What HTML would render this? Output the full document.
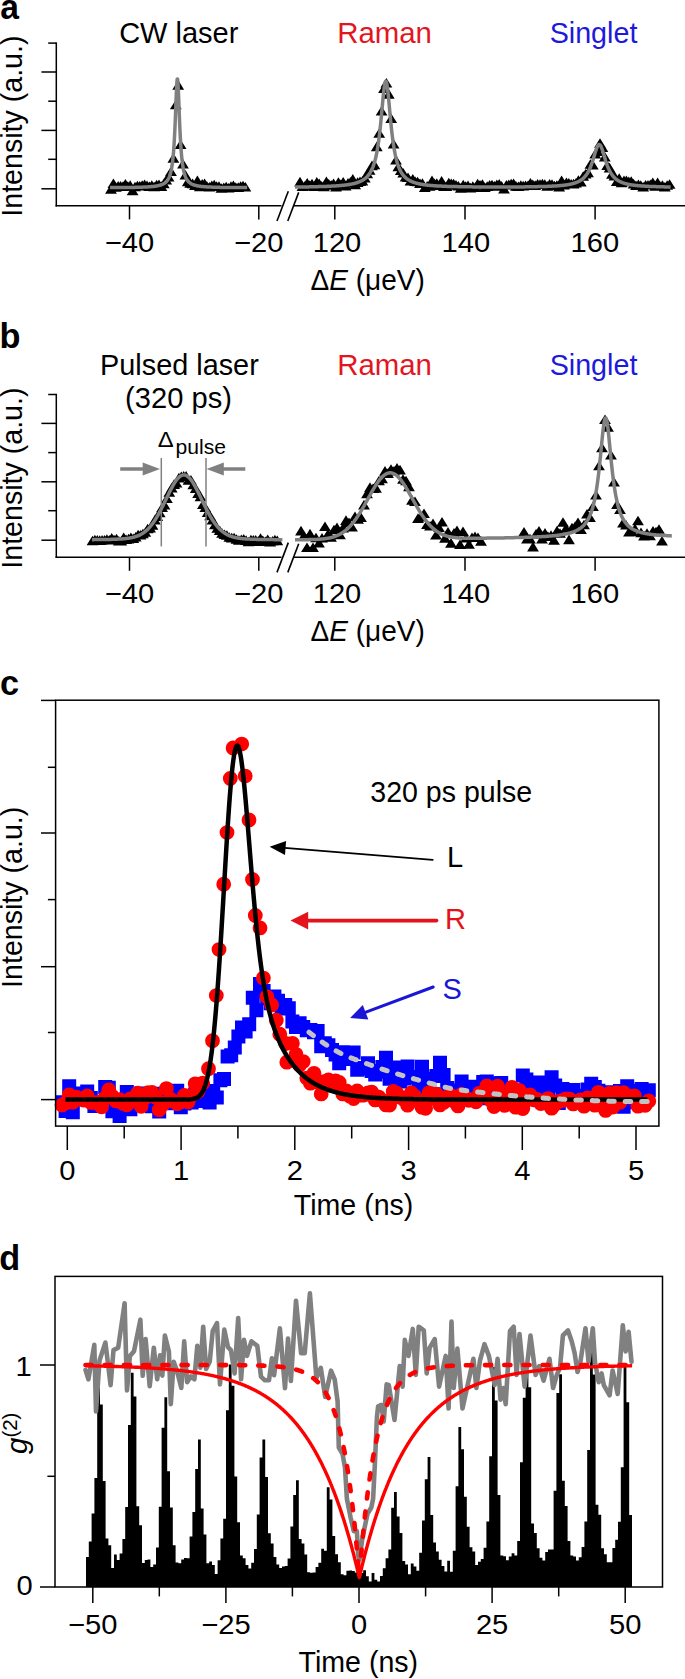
<!DOCTYPE html>
<html><head><meta charset="utf-8"><style>
html,body{margin:0;padding:0;background:#fff;overflow:hidden;}
svg{display:block;font-family:"Liberation Sans", sans-serif;}
</style></head><body>
<svg width="685" height="1679" viewBox="0 0 685 1679">
<rect width="685" height="1679" fill="#fff"/>
<text transform="translate(0.3,19) scale(0.96,1)" font-size="35" text-anchor="start" fill="#000" font-weight="bold" >a</text>
<line x1="56.3" y1="42.4" x2="56.3" y2="206.5" stroke="#000" stroke-width="1.5" />
<line x1="48.2" y1="43.1" x2="56.3" y2="43.1" stroke="#000" stroke-width="1.5" />
<line x1="41.4" y1="72" x2="56.3" y2="72" stroke="#000" stroke-width="1.5" />
<line x1="48.2" y1="101.2" x2="56.3" y2="101.2" stroke="#000" stroke-width="1.5" />
<line x1="41.4" y1="130.4" x2="56.3" y2="130.4" stroke="#000" stroke-width="1.5" />
<line x1="48.2" y1="159.3" x2="56.3" y2="159.3" stroke="#000" stroke-width="1.5" />
<line x1="41.4" y1="188.8" x2="56.3" y2="188.8" stroke="#000" stroke-width="1.5" />
<line x1="55.5" y1="205.8" x2="281.5" y2="205.8" stroke="#000" stroke-width="1.5" />
<line x1="293" y1="205.8" x2="685" y2="205.8" stroke="#000" stroke-width="1.5" />
<line x1="129.5" y1="205.8" x2="129.5" y2="219.4" stroke="#000" stroke-width="1.5" />
<line x1="258.8" y1="205.8" x2="258.8" y2="219.4" stroke="#000" stroke-width="1.5" />
<line x1="334.8" y1="205.8" x2="334.8" y2="219.4" stroke="#000" stroke-width="1.5" />
<line x1="465" y1="205.8" x2="465" y2="219.4" stroke="#000" stroke-width="1.5" />
<line x1="595.1" y1="205.8" x2="595.1" y2="219.4" stroke="#000" stroke-width="1.5" />
<line x1="277" y1="221" x2="288.3" y2="191.2" stroke="#000" stroke-width="1.6" />
<line x1="287.8" y1="221" x2="298.7" y2="192.4" stroke="#000" stroke-width="1.6" />
<text transform="translate(129.5,251.8) scale(1.06,1)" font-size="27.5" text-anchor="middle" fill="#000" font-weight="normal" >−40</text>
<text transform="translate(258.8,251.8) scale(1.06,1)" font-size="27.5" text-anchor="middle" fill="#000" font-weight="normal" >−20</text>
<text transform="translate(337,251.8) scale(1.06,1)" font-size="27.5" text-anchor="middle" fill="#000" font-weight="normal" >120</text>
<text transform="translate(465.8,251.8) scale(1.06,1)" font-size="27.5" text-anchor="middle" fill="#000" font-weight="normal" >140</text>
<text transform="translate(594.8,251.8) scale(1.06,1)" font-size="27.5" text-anchor="middle" fill="#000" font-weight="normal" >160</text>
<text transform="translate(310.5,290) scale(0.966,1)" font-size="29">Δ<tspan font-style="italic">E</tspan> (μeV)</text>
<text transform="translate(22.2,126.1) rotate(-90)" font-size="28.6" text-anchor="middle">Intensity (a.u.)</text>
<text x="178.8" y="42.7" font-size="29" text-anchor="middle" fill="#000" font-weight="normal" >CW laser</text>
<text transform="translate(384.6,42.9) scale(1.014,1)" font-size="29" text-anchor="middle" fill="#e3161f" font-weight="normal" >Raman</text>
<text transform="translate(593.5,42.7) scale(0.99,1)" font-size="29" text-anchor="middle" fill="#1c1adc" font-weight="normal" >Singlet</text>
<path d="M105.1 193.7L111 184.1L116.9 193.7ZM107.5 188.1L113.4 178.5L119.3 188.1ZM109.9 191.7L115.8 182.1L121.7 191.7ZM112.3 190.5L118.2 180.9L124.1 190.5ZM114.7 190.6L120.6 181L126.5 190.6ZM117.1 190.9L123 181.3L128.9 190.9ZM119.5 188.6L125.4 179L131.3 188.6ZM121.9 190.8L127.8 181.2L133.7 190.8ZM124.3 189.9L130.2 180.3L136.1 189.9ZM126.7 195.3L132.6 185.7L138.5 195.3ZM129.1 191.3L135 181.7L140.9 191.3ZM131.5 190.4L137.4 180.8L143.3 190.4ZM133.9 190.5L139.8 180.9L145.7 190.5ZM136.3 189.9L142.2 180.3L148.1 189.9ZM138.7 189.2L144.6 179.6L150.5 189.2ZM141.1 190L147 180.4L152.9 190ZM143.5 191.1L149.4 181.5L155.3 191.1ZM145.9 189.9L151.8 180.3L157.7 189.9ZM148.3 191.3L154.2 181.7L160.1 191.3ZM150.7 189.3L156.6 179.7L162.5 189.3ZM153.1 189.1L159 179.5L164.9 189.1ZM155.5 190.9L161.4 181.3L167.3 190.9ZM157.9 188.2L163.8 178.6L169.7 188.2ZM160.3 184.5L166.2 174.9L172.1 184.5ZM162.7 181.6L168.6 172L174.5 181.6ZM165.1 176.1L171 166.5L176.9 176.1ZM167.5 162.7L173.4 153.1L179.3 162.7ZM169.9 109.3L175.8 99.7L181.7 109.3ZM172.3 89.7L178.2 80.1L184.1 89.7ZM174.7 149L180.6 139.4L186.5 149ZM177.1 168.6L183 159L188.9 168.6ZM179.5 179.6L185.4 170L191.3 179.6ZM181.9 186.2L187.8 176.6L193.7 186.2ZM184.3 187.7L190.2 178.1L196.1 187.7ZM186.7 188.2L192.6 178.6L198.5 188.2ZM189.1 189.9L195 180.3L200.9 189.9ZM191.5 185.1L197.4 175.5L203.3 185.1ZM193.9 191.3L199.8 181.7L205.7 191.3ZM196.3 188.7L202.2 179.1L208.1 188.7ZM198.7 188L204.6 178.4L210.5 188ZM201.1 190.9L207 181.3L212.9 190.9ZM203.5 191.6L209.4 182L215.3 191.6ZM205.9 190.1L211.8 180.5L217.7 190.1ZM208.3 189.4L214.2 179.8L220.1 189.4ZM210.7 190.9L216.6 181.3L222.5 190.9ZM213.1 190.9L219 181.3L224.9 190.9ZM215.5 192.8L221.4 183.2L227.3 192.8ZM217.9 192L223.8 182.4L229.7 192ZM220.3 191.3L226.2 181.7L232.1 191.3ZM222.7 192.5L228.6 182.9L234.5 192.5ZM225.1 190.9L231 181.3L236.9 190.9ZM227.5 190L233.4 180.4L239.3 190ZM229.9 191.9L235.8 182.3L241.7 191.9ZM232.3 191.9L238.2 182.3L244.1 191.9ZM234.7 190.9L240.6 181.3L246.5 190.9ZM237.1 190.3L243 180.7L248.9 190.3ZM239.5 191.5L245.4 181.9L251.3 191.5Z" fill="#000"/>
<polyline points="110,187.6 110.4,187.6 110.8,187.6 111.2,187.6 111.6,187.6 112,187.6 112.4,187.6 112.8,187.6 113.2,187.6 113.6,187.6 114,187.6 114.4,187.6 114.8,187.6 115.2,187.6 115.6,187.6 116,187.6 116.4,187.6 116.8,187.6 117.2,187.6 117.6,187.6 118,187.6 118.4,187.6 118.8,187.6 119.2,187.6 119.6,187.6 120,187.6 120.4,187.6 120.8,187.6 121.2,187.5 121.6,187.5 122,187.5 122.4,187.5 122.8,187.5 123.2,187.5 123.6,187.5 124,187.5 124.4,187.5 124.8,187.5 125.2,187.5 125.6,187.5 126,187.5 126.4,187.5 126.8,187.5 127.2,187.5 127.6,187.5 128,187.5 128.4,187.5 128.8,187.5 129.2,187.5 129.6,187.5 130,187.4 130.4,187.4 130.8,187.4 131.2,187.4 131.6,187.4 132,187.4 132.4,187.4 132.8,187.4 133.2,187.4 133.6,187.4 134,187.4 134.4,187.4 134.8,187.4 135.2,187.4 135.6,187.3 136,187.3 136.4,187.3 136.8,187.3 137.2,187.3 137.6,187.3 138,187.3 138.4,187.3 138.8,187.3 139.2,187.3 139.6,187.2 140,187.2 140.4,187.2 140.8,187.2 141.2,187.2 141.6,187.2 142,187.2 142.4,187.2 142.8,187.1 143.2,187.1 143.6,187.1 144,187.1 144.4,187.1 144.8,187.1 145.2,187 145.6,187 146,187 146.4,187 146.8,187 147.2,186.9 147.6,186.9 148,186.9 148.4,186.9 148.8,186.8 149.2,186.8 149.6,186.8 150,186.7 150.4,186.7 150.8,186.7 151.2,186.6 151.6,186.6 152,186.6 152.4,186.5 152.8,186.5 153.2,186.5 153.6,186.4 154,186.4 154.4,186.3 154.8,186.3 155.2,186.2 155.6,186.1 156,186.1 156.4,186 156.8,186 157.2,185.9 157.6,185.8 158,185.7 158.4,185.6 158.8,185.5 159.2,185.4 159.6,185.3 160,185.2 160.4,185.1 160.8,185 161.2,184.8 161.6,184.7 162,184.5 162.4,184.4 162.8,184.2 163.2,184 163.6,183.8 164,183.5 164.4,183.3 164.8,183 165.2,182.7 165.6,182.4 166,182 166.4,181.6 166.8,181.1 167.2,180.6 167.6,180.1 168,179.5 168.4,178.8 168.8,178 169.2,177.1 169.6,176.1 170,174.9 170.4,173.6 170.8,172.1 171.2,170.3 171.6,168.3 172,165.9 172.4,163.1 172.8,159.7 173.2,155.8 173.6,151.1 174,145.5 174.4,138.8 174.8,131 175.2,122 175.6,112 176,101.5 176.4,91.5 176.8,83.5 177.2,78.9 177.6,78.9 178,83.5 178.4,91.5 178.8,101.5 179.2,112 179.6,122 180,131 180.4,138.8 180.8,145.5 181.2,151.1 181.6,155.8 182,159.7 182.4,163.1 182.8,165.9 183.2,168.3 183.6,170.3 184,172.1 184.4,173.6 184.8,174.9 185.2,176.1 185.6,177.1 186,178 186.4,178.8 186.8,179.5 187.2,180.1 187.6,180.6 188,181.1 188.4,181.6 188.8,182 189.2,182.4 189.6,182.7 190,183 190.4,183.3 190.8,183.5 191.2,183.8 191.6,184 192,184.2 192.4,184.4 192.8,184.5 193.2,184.7 193.6,184.8 194,185 194.4,185.1 194.8,185.2 195.2,185.3 195.6,185.4 196,185.5 196.4,185.6 196.8,185.7 197.2,185.8 197.6,185.9 198,186 198.4,186 198.8,186.1 199.2,186.1 199.6,186.2 200,186.3 200.4,186.3 200.8,186.4 201.2,186.4 201.6,186.5 202,186.5 202.4,186.5 202.8,186.6 203.2,186.6 203.6,186.6 204,186.7 204.4,186.7 204.8,186.7 205.2,186.8 205.6,186.8 206,186.8 206.4,186.9 206.8,186.9 207.2,186.9 207.6,186.9 208,187 208.4,187 208.8,187 209.2,187 209.6,187 210,187.1 210.4,187.1 210.8,187.1 211.2,187.1 211.6,187.1 212,187.1 212.4,187.2 212.8,187.2 213.2,187.2 213.6,187.2 214,187.2 214.4,187.2 214.8,187.2 215.2,187.2 215.6,187.3 216,187.3 216.4,187.3 216.8,187.3 217.2,187.3 217.6,187.3 218,187.3 218.4,187.3 218.8,187.3 219.2,187.3 219.6,187.4 220,187.4 220.4,187.4 220.8,187.4 221.2,187.4 221.6,187.4 222,187.4 222.4,187.4 222.8,187.4 223.2,187.4 223.6,187.4 224,187.4 224.4,187.4 224.8,187.4 225.2,187.5 225.6,187.5 226,187.5 226.4,187.5 226.8,187.5 227.2,187.5 227.6,187.5 228,187.5 228.4,187.5 228.8,187.5 229.2,187.5 229.6,187.5 230,187.5 230.4,187.5 230.8,187.5 231.2,187.5 231.6,187.5 232,187.5 232.4,187.5 232.8,187.5 233.2,187.5 233.6,187.5 234,187.6 234.4,187.6 234.8,187.6 235.2,187.6 235.6,187.6 236,187.6 236.4,187.6 236.8,187.6 237.2,187.6 237.6,187.6 238,187.6 238.4,187.6 238.8,187.6 239.2,187.6 239.6,187.6 240,187.6 240.4,187.6 240.8,187.6 241.2,187.6 241.6,187.6 242,187.6 242.4,187.6 242.8,187.6 243.2,187.6 243.6,187.6 244,187.6 244.4,187.6 244.8,187.6 245.2,187.6 245.6,187.6 246,187.6 246.4,187.6 246.8,187.6 247.2,187.6" fill="none" stroke="#808080" stroke-width="3.5" stroke-linejoin="round" />
<path d="M294.1 186.4L300 176.8L305.9 186.4ZM296.5 191L302.4 181.4L308.3 191ZM298.9 190.6L304.8 181L310.7 190.6ZM301.3 187.5L307.2 177.9L313.1 187.5ZM303.7 189.9L309.6 180.3L315.5 189.9ZM306.1 188.4L312 178.8L317.9 188.4ZM308.5 190.9L314.4 181.3L320.3 190.9ZM310.9 186.7L316.8 177.1L322.7 186.7ZM313.3 188.2L319.2 178.6L325.1 188.2ZM315.7 190.6L321.6 181L327.5 190.6ZM318.1 191.2L324 181.6L329.9 191.2ZM320.5 186.1L326.4 176.5L332.3 186.1ZM322.9 188.5L328.8 178.9L334.7 188.5ZM325.3 189.7L331.2 180.1L337.1 189.7ZM327.7 188.1L333.6 178.5L339.5 188.1ZM330.1 191.4L336 181.8L341.9 191.4ZM332.5 186.8L338.4 177.2L344.3 186.8ZM334.9 189.1L340.8 179.5L346.7 189.1ZM337.3 186.5L343.2 176.9L349.1 186.5ZM339.7 190.4L345.6 180.8L351.5 190.4ZM342.1 187.6L348 178L353.9 187.6ZM344.5 186.6L350.4 177L356.3 186.6ZM346.9 183.7L352.8 174.1L358.7 183.7ZM349.3 189.3L355.2 179.7L361.1 189.3ZM351.7 186.9L357.6 177.3L363.5 186.9ZM354.1 186L360 176.4L365.9 186ZM356.5 185.6L362.4 176L368.3 185.6ZM358.9 182.5L364.8 172.9L370.7 182.5ZM361.3 178.2L367.2 168.6L373.1 178.2ZM363.7 174.7L369.6 165.1L375.5 174.7ZM366.1 170.2L372 160.6L377.9 170.2ZM368.5 169.3L374.4 159.7L380.3 169.3ZM370.9 151.2L376.8 141.6L382.7 151.2ZM373.3 137.8L379.2 128.2L385.1 137.8ZM375.7 115.6L381.6 106L387.5 115.6ZM378.1 93L384 83.4L389.9 93ZM380.5 87.5L386.4 77.9L392.3 87.5ZM382.9 98.7L388.8 89.1L394.7 98.7ZM385.3 123L391.2 113.4L397.1 123ZM387.7 148.5L393.6 138.9L399.5 148.5ZM390.1 164.6L396 155L401.9 164.6ZM392.5 171.2L398.4 161.6L404.3 171.2ZM394.9 175.1L400.8 165.5L406.7 175.1ZM397.3 177.5L403.2 167.9L409.1 177.5ZM399.7 181.4L405.6 171.8L411.5 181.4ZM402.1 182.1L408 172.5L413.9 182.1ZM404.5 185.6L410.4 176L416.3 185.6ZM406.9 183.5L412.8 173.9L418.7 183.5ZM409.3 186.1L415.2 176.5L421.1 186.1ZM411.7 186.3L417.6 176.7L423.5 186.3ZM414.1 188L420 178.4L425.9 188ZM416.5 187.8L422.4 178.2L428.3 187.8ZM418.9 192.1L424.8 182.5L430.7 192.1ZM421.3 190.6L427.2 181L433.1 190.6ZM423.7 190.8L429.6 181.2L435.5 190.8ZM426.1 185.2L432 175.6L437.9 185.2ZM428.5 188.2L434.4 178.6L440.3 188.2ZM430.9 187.9L436.8 178.3L442.7 187.9ZM433.3 189.9L439.2 180.3L445.1 189.9ZM435.7 185.6L441.6 176L447.5 185.6ZM438.1 191.1L444 181.5L449.9 191.1ZM440.5 191L446.4 181.4L452.3 191ZM442.9 187.4L448.8 177.8L454.7 187.4ZM445.3 188L451.2 178.4L457.1 188ZM447.7 188.3L453.6 178.7L459.5 188.3ZM450.1 189.7L456 180.1L461.9 189.7ZM452.5 190.6L458.4 181L464.3 190.6ZM454.9 192.7L460.8 183.1L466.7 192.7ZM457.3 189.4L463.2 179.8L469.1 189.4ZM459.7 190.9L465.6 181.3L471.5 190.9ZM462.1 190L468 180.4L473.9 190ZM464.5 192.4L470.4 182.8L476.3 192.4ZM466.9 190.9L472.8 181.3L478.7 190.9ZM469.3 191.9L475.2 182.3L481.1 191.9ZM471.7 188.3L477.6 178.7L483.5 188.3ZM474.1 189.6L480 180L485.9 189.6ZM476.5 188.8L482.4 179.2L488.3 188.8ZM478.9 192.1L484.8 182.5L490.7 192.1ZM481.3 190.9L487.2 181.3L493.1 190.9ZM483.7 189.5L489.6 179.9L495.5 189.5ZM486.1 189.3L492 179.7L497.9 189.3ZM488.5 190.7L494.4 181.1L500.3 190.7ZM490.9 189L496.8 179.4L502.7 189ZM493.3 188.6L499.2 179L505.1 188.6ZM495.7 190.7L501.6 181.1L507.5 190.7ZM498.1 193.5L504 183.9L509.9 193.5ZM500.5 189.6L506.4 180L512.3 189.6ZM502.9 189.2L508.8 179.6L514.7 189.2ZM505.3 188.3L511.2 178.7L517.1 188.3ZM507.7 188L513.6 178.4L519.5 188ZM510.1 190.7L516 181.1L521.9 190.7ZM512.5 191.1L518.4 181.5L524.3 191.1ZM514.9 189.9L520.8 180.3L526.7 189.9ZM517.3 190.4L523.2 180.8L529.1 190.4ZM519.7 190L525.6 180.4L531.5 190ZM522.1 190L528 180.4L533.9 190ZM524.5 187.5L530.4 177.9L536.3 187.5ZM526.9 189.1L532.8 179.5L538.7 189.1ZM529.3 189.9L535.2 180.3L541.1 189.9ZM531.7 188.5L537.6 178.9L543.5 188.5ZM534.1 188.9L540 179.3L545.9 188.9ZM536.5 188.3L542.4 178.7L548.3 188.3ZM538.9 188.9L544.8 179.3L550.7 188.9ZM541.3 190.7L547.2 181.1L553.1 190.7ZM543.7 188.6L549.6 179L555.5 188.6ZM546.1 188.9L552 179.3L557.9 188.9ZM548.5 190.3L554.4 180.7L560.3 190.3ZM550.9 189.9L556.8 180.3L562.7 189.9ZM553.3 191.4L559.2 181.8L565.1 191.4ZM555.7 185L561.6 175.4L567.5 185ZM558.1 189.6L564 180L569.9 189.6ZM560.5 187.1L566.4 177.5L572.3 187.1ZM562.9 187.7L568.8 178.1L574.7 187.7ZM565.3 188.5L571.2 178.9L577.1 188.5ZM567.7 188.4L573.6 178.8L579.5 188.4ZM570.1 187.5L576 177.9L581.9 187.5ZM572.5 184.9L578.4 175.3L584.3 184.9ZM574.9 186.5L580.8 176.9L586.7 186.5ZM577.3 180.8L583.2 171.2L589.1 180.8ZM579.7 178.5L585.6 168.9L591.5 178.5ZM582.1 177.2L588 167.6L593.9 177.2ZM584.5 168.8L590.4 159.2L596.3 168.8ZM586.9 169.5L592.8 159.9L598.7 169.5ZM589.3 158.6L595.2 149L601.1 158.6ZM591.7 155.9L597.6 146.3L603.5 155.9ZM594.1 147.8L600 138.2L605.9 147.8ZM596.5 151.9L602.4 142.3L608.3 151.9ZM598.9 161.4L604.8 151.8L610.7 161.4ZM601.3 170.1L607.2 160.5L613.1 170.1ZM603.7 172.4L609.6 162.8L615.5 172.4ZM606.1 178.7L612 169.1L617.9 178.7ZM608.5 180.6L614.4 171L620.3 180.6ZM610.9 186L616.8 176.4L622.7 186ZM613.3 182.9L619.2 173.3L625.1 182.9ZM615.7 187.3L621.6 177.7L627.5 187.3ZM618.1 185L624 175.4L629.9 185ZM620.5 185.2L626.4 175.6L632.3 185.2ZM622.9 186.2L628.8 176.6L634.7 186.2ZM625.3 185.8L631.2 176.2L637.1 185.8ZM627.7 188.4L633.6 178.8L639.5 188.4ZM630.1 190.1L636 180.5L641.9 190.1ZM632.5 189L638.4 179.4L644.3 189ZM634.9 189.9L640.8 180.3L646.7 189.9ZM637.3 191.6L643.2 182L649.1 191.6ZM639.7 189.6L645.6 180L651.5 189.6ZM642.1 189.6L648 180L653.9 189.6ZM644.5 189L650.4 179.4L656.3 189ZM646.9 187.1L652.8 177.5L658.7 187.1ZM649.3 190.8L655.2 181.2L661.1 190.8ZM651.7 187.1L657.6 177.5L663.5 187.1ZM654.1 190.7L660 181.1L665.9 190.7ZM656.5 189.8L662.4 180.2L668.3 189.8ZM658.9 191.5L664.8 181.9L670.7 191.5ZM661.3 189.8L667.2 180.2L673.1 189.8ZM663.7 188.8L669.6 179.2L675.5 188.8Z" fill="#000"/>
<polyline points="295,187.1 295.4,187.1 295.8,187 296.2,187 296.6,187 297,187 297.4,187 297.8,187 298.2,187 298.6,187 299,187 299.4,187 299.8,187 300.2,187 300.6,187 301,187 301.4,187 301.8,187 302.2,187 302.6,187 303,187 303.4,186.9 303.8,186.9 304.2,186.9 304.6,186.9 305,186.9 305.4,186.9 305.8,186.9 306.2,186.9 306.6,186.9 307,186.9 307.4,186.9 307.8,186.9 308.2,186.9 308.6,186.9 309,186.9 309.4,186.8 309.8,186.8 310.2,186.8 310.6,186.8 311,186.8 311.4,186.8 311.8,186.8 312.2,186.8 312.6,186.8 313,186.8 313.4,186.8 313.8,186.8 314.2,186.7 314.6,186.7 315,186.7 315.4,186.7 315.8,186.7 316.2,186.7 316.6,186.7 317,186.7 317.4,186.7 317.8,186.7 318.2,186.6 318.6,186.6 319,186.6 319.4,186.6 319.8,186.6 320.2,186.6 320.6,186.6 321,186.6 321.4,186.6 321.8,186.5 322.2,186.5 322.6,186.5 323,186.5 323.4,186.5 323.8,186.5 324.2,186.5 324.6,186.4 325,186.4 325.4,186.4 325.8,186.4 326.2,186.4 326.6,186.4 327,186.4 327.4,186.3 327.8,186.3 328.2,186.3 328.6,186.3 329,186.3 329.4,186.2 329.8,186.2 330.2,186.2 330.6,186.2 331,186.2 331.4,186.1 331.8,186.1 332.2,186.1 332.6,186.1 333,186.1 333.4,186 333.8,186 334.2,186 334.6,186 335,185.9 335.4,185.9 335.8,185.9 336.2,185.9 336.6,185.8 337,185.8 337.4,185.8 337.8,185.8 338.2,185.7 338.6,185.7 339,185.7 339.4,185.6 339.8,185.6 340.2,185.6 340.6,185.5 341,185.5 341.4,185.5 341.8,185.4 342.2,185.4 342.6,185.3 343,185.3 343.4,185.3 343.8,185.2 344.2,185.2 344.6,185.1 345,185.1 345.4,185 345.8,185 346.2,184.9 346.6,184.9 347,184.8 347.4,184.8 347.8,184.7 348.2,184.6 348.6,184.6 349,184.5 349.4,184.5 349.8,184.4 350.2,184.3 350.6,184.2 351,184.2 351.4,184.1 351.8,184 352.2,183.9 352.6,183.8 353,183.8 353.4,183.7 353.8,183.6 354.2,183.5 354.6,183.4 355,183.3 355.4,183.2 355.8,183.1 356.2,182.9 356.6,182.8 357,182.7 357.4,182.6 357.8,182.4 358.2,182.3 358.6,182.1 359,182 359.4,181.8 359.8,181.6 360.2,181.5 360.6,181.3 361,181.1 361.4,180.9 361.8,180.7 362.2,180.5 362.6,180.2 363,180 363.4,179.7 363.8,179.5 364.2,179.2 364.6,178.9 365,178.6 365.4,178.3 365.8,177.9 366.2,177.6 366.6,177.2 367,176.8 367.4,176.4 367.8,175.9 368.2,175.4 368.6,174.9 369,174.4 369.4,173.8 369.8,173.2 370.2,172.6 370.6,171.9 371,171.2 371.4,170.4 371.8,169.6 372.2,168.7 372.6,167.8 373,166.8 373.4,165.7 373.8,164.5 374.2,163.3 374.6,161.9 375,160.5 375.4,159 375.8,157.3 376.2,155.5 376.6,153.5 377,151.5 377.4,149.2 377.8,146.8 378.2,144.2 378.6,141.4 379,138.3 379.4,135.1 379.8,131.7 380.2,128 380.6,124.2 381,120.2 381.4,116 381.8,111.6 382.2,107.3 382.6,102.9 383,98.6 383.4,94.5 383.8,90.8 384.2,87.5 384.6,84.8 385,82.7 385.4,81.5 385.8,81 386.2,81.5 386.6,82.7 387,84.8 387.4,87.5 387.8,90.8 388.2,94.5 388.6,98.6 389,102.9 389.4,107.2 389.8,111.6 390.2,115.9 390.6,120.1 391,124.2 391.4,128 391.8,131.7 392.2,135.1 392.6,138.3 393,141.3 393.4,144.2 393.8,146.8 394.2,149.2 394.6,151.4 395,153.5 395.4,155.5 395.8,157.3 396.2,158.9 396.6,160.5 397,161.9 397.4,163.3 397.8,164.5 398.2,165.7 398.6,166.8 399,167.8 399.4,168.7 399.8,169.6 400.2,170.4 400.6,171.2 401,171.9 401.4,172.6 401.8,173.2 402.2,173.8 402.6,174.4 403,174.9 403.4,175.4 403.8,175.9 404.2,176.3 404.6,176.8 405,177.2 405.4,177.5 405.8,177.9 406.2,178.2 406.6,178.6 407,178.9 407.4,179.2 407.8,179.4 408.2,179.7 408.6,180 409,180.2 409.4,180.4 409.8,180.7 410.2,180.9 410.6,181.1 411,181.3 411.4,181.4 411.8,181.6 412.2,181.8 412.6,181.9 413,182.1 413.4,182.2 413.8,182.4 414.2,182.5 414.6,182.6 415,182.8 415.4,182.9 415.8,183 416.2,183.1 416.6,183.2 417,183.3 417.4,183.4 417.8,183.5 418.2,183.6 418.6,183.7 419,183.8 419.4,183.9 419.8,184 420.2,184.1 420.6,184.1 421,184.2 421.4,184.3 421.8,184.3 422.2,184.4 422.6,184.5 423,184.5 423.4,184.6 423.8,184.7 424.2,184.7 424.6,184.8 425,184.8 425.4,184.9 425.8,184.9 426.2,185 426.6,185 427,185.1 427.4,185.1 427.8,185.2 428.2,185.2 428.6,185.2 429,185.3 429.4,185.3 429.8,185.4 430.2,185.4 430.6,185.4 431,185.5 431.4,185.5 431.8,185.5 432.2,185.6 432.6,185.6 433,185.6 433.4,185.7 433.8,185.7 434.2,185.7 434.6,185.7 435,185.8 435.4,185.8 435.8,185.8 436.2,185.9 436.6,185.9 437,185.9 437.4,185.9 437.8,185.9 438.2,186 438.6,186 439,186 439.4,186 439.8,186.1 440.2,186.1 440.6,186.1 441,186.1 441.4,186.1 441.8,186.1 442.2,186.2 442.6,186.2 443,186.2 443.4,186.2 443.8,186.2 444.2,186.3 444.6,186.3 445,186.3 445.4,186.3 445.8,186.3 446.2,186.3 446.6,186.3 447,186.4 447.4,186.4 447.8,186.4 448.2,186.4 448.6,186.4 449,186.4 449.4,186.4 449.8,186.4 450.2,186.5 450.6,186.5 451,186.5 451.4,186.5 451.8,186.5 452.2,186.5 452.6,186.5 453,186.5 453.4,186.5 453.8,186.6 454.2,186.6 454.6,186.6 455,186.6 455.4,186.6 455.8,186.6 456.2,186.6 456.6,186.6 457,186.6 457.4,186.6 457.8,186.6 458.2,186.7 458.6,186.7 459,186.7 459.4,186.7 459.8,186.7 460.2,186.7 460.6,186.7 461,186.7 461.4,186.7 461.8,186.7 462.2,186.7 462.6,186.7 463,186.7 463.4,186.7 463.8,186.7 464.2,186.8 464.6,186.8 465,186.8 465.4,186.8 465.8,186.8 466.2,186.8 466.6,186.8 467,186.8 467.4,186.8 467.8,186.8 468.2,186.8 468.6,186.8 469,186.8 469.4,186.8 469.8,186.8 470.2,186.8 470.6,186.8 471,186.8 471.4,186.8 471.8,186.8 472.2,186.9 472.6,186.9 473,186.9 473.4,186.9 473.8,186.9 474.2,186.9 474.6,186.9 475,186.9 475.4,186.9 475.8,186.9 476.2,186.9 476.6,186.9 477,186.9 477.4,186.9 477.8,186.9 478.2,186.9 478.6,186.9 479,186.9 479.4,186.9 479.8,186.9 480.2,186.9 480.6,186.9 481,186.9 481.4,186.9 481.8,186.9 482.2,186.9 482.6,186.9 483,186.9 483.4,186.9 483.8,186.9 484.2,186.9 484.6,186.9 485,186.9 485.4,186.9 485.8,186.9 486.2,187 486.6,187 487,187 487.4,187 487.8,187 488.2,187 488.6,187 489,187 489.4,187 489.8,187 490.2,187 490.6,187 491,187 491.4,187 491.8,187 492.2,187 492.6,187 493,187 493.4,187 493.8,187 494.2,187 494.6,187 495,187 495.4,187 495.8,187 496.2,187 496.6,187 497,187 497.4,187 497.8,187 498.2,187 498.6,187 499,187 499.4,187 499.8,187 500.2,187 500.6,187 501,187 501.4,187 501.8,187 502.2,187 502.6,187 503,187 503.4,187 503.8,187 504.2,187 504.6,187 505,187 505.4,187 505.8,187 506.2,187 506.6,187 507,187 507.4,187 507.8,187 508.2,187 508.6,187 509,187 509.4,187 509.8,187 510.2,187 510.6,187 511,187 511.4,187 511.8,187 512.2,186.9 512.6,186.9 513,186.9 513.4,186.9 513.8,186.9 514.2,186.9 514.6,186.9 515,186.9 515.4,186.9 515.8,186.9 516.2,186.9 516.6,186.9 517,186.9 517.4,186.9 517.8,186.9 518.2,186.9 518.6,186.9 519,186.9 519.4,186.9 519.8,186.9 520.2,186.9 520.6,186.9 521,186.9 521.4,186.9 521.8,186.9 522.2,186.9 522.6,186.9 523,186.9 523.4,186.9 523.8,186.9 524.2,186.9 524.6,186.9 525,186.9 525.4,186.8 525.8,186.8 526.2,186.8 526.6,186.8 527,186.8 527.4,186.8 527.8,186.8 528.2,186.8 528.6,186.8 529,186.8 529.4,186.8 529.8,186.8 530.2,186.8 530.6,186.8 531,186.8 531.4,186.8 531.8,186.8 532.2,186.8 532.6,186.7 533,186.7 533.4,186.7 533.8,186.7 534.2,186.7 534.6,186.7 535,186.7 535.4,186.7 535.8,186.7 536.2,186.7 536.6,186.7 537,186.7 537.4,186.7 537.8,186.6 538.2,186.6 538.6,186.6 539,186.6 539.4,186.6 539.8,186.6 540.2,186.6 540.6,186.6 541,186.6 541.4,186.6 541.8,186.5 542.2,186.5 542.6,186.5 543,186.5 543.4,186.5 543.8,186.5 544.2,186.5 544.6,186.5 545,186.4 545.4,186.4 545.8,186.4 546.2,186.4 546.6,186.4 547,186.4 547.4,186.4 547.8,186.3 548.2,186.3 548.6,186.3 549,186.3 549.4,186.3 549.8,186.3 550.2,186.2 550.6,186.2 551,186.2 551.4,186.2 551.8,186.2 552.2,186.1 552.6,186.1 553,186.1 553.4,186.1 553.8,186.1 554.2,186 554.6,186 555,186 555.4,186 555.8,185.9 556.2,185.9 556.6,185.9 557,185.9 557.4,185.8 557.8,185.8 558.2,185.8 558.6,185.7 559,185.7 559.4,185.7 559.8,185.6 560.2,185.6 560.6,185.6 561,185.5 561.4,185.5 561.8,185.4 562.2,185.4 562.6,185.4 563,185.3 563.4,185.3 563.8,185.2 564.2,185.2 564.6,185.1 565,185.1 565.4,185 565.8,185 566.2,184.9 566.6,184.9 567,184.8 567.4,184.7 567.8,184.7 568.2,184.6 568.6,184.5 569,184.5 569.4,184.4 569.8,184.3 570.2,184.2 570.6,184.1 571,184 571.4,184 571.8,183.9 572.2,183.8 572.6,183.7 573,183.6 573.4,183.4 573.8,183.3 574.2,183.2 574.6,183.1 575,183 575.4,182.8 575.8,182.7 576.2,182.5 576.6,182.4 577,182.2 577.4,182 577.8,181.9 578.2,181.7 578.6,181.5 579,181.3 579.4,181.1 579.8,180.8 580.2,180.6 580.6,180.3 581,180.1 581.4,179.8 581.8,179.5 582.2,179.2 582.6,178.9 583,178.6 583.4,178.2 583.8,177.8 584.2,177.4 584.6,177 585,176.5 585.4,176.1 585.8,175.6 586.2,175 586.6,174.5 587,173.9 587.4,173.3 587.8,172.6 588.2,171.9 588.6,171.2 589,170.4 589.4,169.5 589.8,168.7 590.2,167.7 590.6,166.8 591,165.7 591.4,164.7 591.8,163.5 592.2,162.4 592.6,161.2 593,159.9 593.4,158.6 593.8,157.3 594.2,156 594.6,154.6 595,153.3 595.4,152 595.8,150.7 596.2,149.5 596.6,148.3 597,147.3 597.4,146.4 597.8,145.7 598.2,145.1 598.6,144.7 599,144.5 599.4,144.5 599.8,144.7 600.2,145.1 600.6,145.7 601,146.4 601.4,147.3 601.8,148.4 602.2,149.5 602.6,150.7 603,152 603.4,153.3 603.8,154.6 604.2,156 604.6,157.3 605,158.6 605.4,159.9 605.8,161.2 606.2,162.4 606.6,163.6 607,164.7 607.4,165.8 607.8,166.8 608.2,167.8 608.6,168.7 609,169.6 609.4,170.4 609.8,171.2 610.2,171.9 610.6,172.6 611,173.3 611.4,173.9 611.8,174.5 612.2,175.1 612.6,175.6 613,176.1 613.4,176.6 613.8,177 614.2,177.4 614.6,177.8 615,178.2 615.4,178.6 615.8,178.9 616.2,179.2 616.6,179.6 617,179.8 617.4,180.1 617.8,180.4 618.2,180.6 618.6,180.9 619,181.1 619.4,181.3 619.8,181.5 620.2,181.7 620.6,181.9 621,182.1 621.4,182.3 621.8,182.4 622.2,182.6 622.6,182.7 623,182.9 623.4,183 623.8,183.1 624.2,183.3 624.6,183.4 625,183.5 625.4,183.6 625.8,183.7 626.2,183.8 626.6,183.9 627,184 627.4,184.1 627.8,184.2 628.2,184.3 628.6,184.4 629,184.4 629.4,184.5 629.8,184.6 630.2,184.7 630.6,184.7 631,184.8 631.4,184.9 631.8,184.9 632.2,185 632.6,185 633,185.1 633.4,185.1 633.8,185.2 634.2,185.2 634.6,185.3 635,185.3 635.4,185.4 635.8,185.4 636.2,185.5 636.6,185.5 637,185.6 637.4,185.6 637.8,185.6 638.2,185.7 638.6,185.7 639,185.7 639.4,185.8 639.8,185.8 640.2,185.8 640.6,185.9 641,185.9 641.4,185.9 641.8,186 642.2,186 642.6,186 643,186 643.4,186.1 643.8,186.1 644.2,186.1 644.6,186.1 645,186.2 645.4,186.2 645.8,186.2 646.2,186.2 646.6,186.3 647,186.3 647.4,186.3 647.8,186.3 648.2,186.3 648.6,186.4 649,186.4 649.4,186.4 649.8,186.4 650.2,186.4 650.6,186.4 651,186.5 651.4,186.5 651.8,186.5 652.2,186.5 652.6,186.5 653,186.5 653.4,186.6 653.8,186.6 654.2,186.6 654.6,186.6 655,186.6 655.4,186.6 655.8,186.6 656.2,186.6 656.6,186.7 657,186.7 657.4,186.7 657.8,186.7 658.2,186.7 658.6,186.7 659,186.7 659.4,186.7 659.8,186.8 660.2,186.8 660.6,186.8 661,186.8 661.4,186.8 661.8,186.8 662.2,186.8 662.6,186.8 663,186.8 663.4,186.8 663.8,186.8 664.2,186.9 664.6,186.9 665,186.9 665.4,186.9 665.8,186.9 666.2,186.9 666.6,186.9 667,186.9 667.4,186.9 667.8,186.9 668.2,186.9 668.6,186.9 669,186.9 669.4,187 669.8,187 670.2,187 670.6,187" fill="none" stroke="#808080" stroke-width="3.5" stroke-linejoin="round" />
<text transform="translate(-0.6,348.3) scale(0.98,1)" font-size="35" text-anchor="start" fill="#000" font-weight="bold" >b</text>
<line x1="56.3" y1="393.8" x2="56.3" y2="557.9" stroke="#000" stroke-width="1.5" />
<line x1="48.2" y1="394.5" x2="56.3" y2="394.5" stroke="#000" stroke-width="1.5" />
<line x1="41.4" y1="423.4" x2="56.3" y2="423.4" stroke="#000" stroke-width="1.5" />
<line x1="48.2" y1="452.6" x2="56.3" y2="452.6" stroke="#000" stroke-width="1.5" />
<line x1="41.4" y1="481.8" x2="56.3" y2="481.8" stroke="#000" stroke-width="1.5" />
<line x1="48.2" y1="510.7" x2="56.3" y2="510.7" stroke="#000" stroke-width="1.5" />
<line x1="41.4" y1="540.2" x2="56.3" y2="540.2" stroke="#000" stroke-width="1.5" />
<line x1="55.5" y1="557.2" x2="281.5" y2="557.2" stroke="#000" stroke-width="1.5" />
<line x1="293" y1="557.2" x2="685" y2="557.2" stroke="#000" stroke-width="1.5" />
<line x1="129.5" y1="557.2" x2="129.5" y2="570.8" stroke="#000" stroke-width="1.5" />
<line x1="258.8" y1="557.2" x2="258.8" y2="570.8" stroke="#000" stroke-width="1.5" />
<line x1="334.8" y1="557.2" x2="334.8" y2="570.8" stroke="#000" stroke-width="1.5" />
<line x1="465" y1="557.2" x2="465" y2="570.8" stroke="#000" stroke-width="1.5" />
<line x1="595.1" y1="557.2" x2="595.1" y2="570.8" stroke="#000" stroke-width="1.5" />
<line x1="277" y1="572.4" x2="288.3" y2="542.6" stroke="#000" stroke-width="1.6" />
<line x1="287.8" y1="572.4" x2="298.7" y2="543.8" stroke="#000" stroke-width="1.6" />
<text transform="translate(129.5,603.2) scale(1.06,1)" font-size="27.5" text-anchor="middle" fill="#000" font-weight="normal" >−40</text>
<text transform="translate(258.8,603.2) scale(1.06,1)" font-size="27.5" text-anchor="middle" fill="#000" font-weight="normal" >−20</text>
<text transform="translate(337,603.2) scale(1.06,1)" font-size="27.5" text-anchor="middle" fill="#000" font-weight="normal" >120</text>
<text transform="translate(465.8,603.2) scale(1.06,1)" font-size="27.5" text-anchor="middle" fill="#000" font-weight="normal" >140</text>
<text transform="translate(594.8,603.2) scale(1.06,1)" font-size="27.5" text-anchor="middle" fill="#000" font-weight="normal" >160</text>
<text transform="translate(310.5,641.4) scale(0.966,1)" font-size="29">Δ<tspan font-style="italic">E</tspan> (μeV)</text>
<text transform="translate(22.2,478.1) rotate(-90)" font-size="28.6" text-anchor="middle">Intensity (a.u.)</text>
<text transform="translate(179.4,374.5) scale(0.995,1)" font-size="29" text-anchor="middle" fill="#000" font-weight="normal" >Pulsed laser</text>
<text transform="translate(178.5,407.7) scale(1.004,1)" font-size="29" text-anchor="middle" fill="#000" font-weight="normal" >(320 ps)</text>
<text transform="translate(384.6,374.7) scale(1.014,1)" font-size="29" text-anchor="middle" fill="#e3161f" font-weight="normal" >Raman</text>
<text transform="translate(593.5,374.5) scale(0.99,1)" font-size="29" text-anchor="middle" fill="#1c1adc" font-weight="normal" >Singlet</text>
<text transform="translate(157.8,447) scale(1.11,1)" font-size="21.5">Δ</text>
<text transform="translate(175.5,453.7) scale(1.03,1)" font-size="20.5">pulse</text>
<line x1="120.2" y1="469" x2="146" y2="469" stroke="#808080" stroke-width="3.5" />
<path d="M160 469 L142.7 462.4 L142.7 475.6 Z" fill="#808080"/>
<line x1="245.3" y1="469" x2="220" y2="469" stroke="#808080" stroke-width="3.5" />
<path d="M206.5 469 L223.8 462.4 L223.8 475.6 Z" fill="#808080"/>
<path d="M86.6 545.3L92.5 535.7L98.4 545.3ZM89 544.4L94.9 534.8L100.8 544.4ZM91.4 544.7L97.3 535.1L103.2 544.7ZM93.8 544.9L99.7 535.3L105.6 544.9ZM96.2 544.7L102.1 535.1L108 544.7ZM98.6 544.6L104.5 535L110.4 544.6ZM101 543.9L106.9 534.3L112.8 543.9ZM103.4 544.5L109.3 534.9L115.2 544.5ZM105.8 542.5L111.7 532.9L117.6 542.5ZM108.2 544.4L114.1 534.8L120 544.4ZM110.6 543.3L116.5 533.7L122.4 543.3ZM113 545.5L118.9 535.9L124.8 545.5ZM115.4 545.5L121.3 535.9L127.2 545.5ZM117.8 542.1L123.7 532.5L129.6 542.1ZM120.2 544L126.1 534.4L132 544ZM122.6 543.4L128.5 533.8L134.4 543.4ZM125 542.1L130.9 532.5L136.8 542.1ZM127.4 543.1L133.3 533.5L139.2 543.1ZM129.8 541.5L135.7 531.9L141.6 541.5ZM132.2 539.3L138.1 529.7L144 539.3ZM134.6 539.6L140.5 530L146.4 539.6ZM137 538.3L142.9 528.7L148.8 538.3ZM139.4 536.8L145.3 527.2L151.2 536.8ZM141.8 533.3L147.7 523.7L153.6 533.3ZM144.2 532.6L150.1 523L156 532.6ZM146.6 529.7L152.5 520.1L158.4 529.7ZM149 524.4L154.9 514.8L160.8 524.4ZM151.4 520.9L157.3 511.3L163.2 520.9ZM153.8 517.2L159.7 507.6L165.6 517.2ZM156.2 512.1L162.1 502.5L168 512.1ZM158.6 509.5L164.5 499.9L170.4 509.5ZM161 503L166.9 493.4L172.8 503ZM163.4 496.8L169.3 487.2L175.2 496.8ZM165.8 492.4L171.7 482.8L177.6 492.4ZM168.2 488.9L174.1 479.3L180 488.9ZM170.6 487.6L176.5 478L182.4 487.6ZM173 482.4L178.9 472.8L184.8 482.4ZM175.4 481L181.3 471.4L187.2 481ZM177.8 480.7L183.7 471.1L189.6 480.7ZM180.2 480.7L186.1 471.1L192 480.7ZM182.6 484.7L188.5 475.1L194.4 484.7ZM185 484.5L190.9 474.9L196.8 484.5ZM187.4 489.3L193.3 479.7L199.2 489.3ZM189.8 493L195.7 483.4L201.6 493ZM192.2 498.1L198.1 488.5L204 498.1ZM194.6 501.2L200.5 491.6L206.4 501.2ZM197 509.1L202.9 499.5L208.8 509.1ZM199.4 512.1L205.3 502.5L211.2 512.1ZM201.8 516.9L207.7 507.3L213.6 516.9ZM204.2 520.3L210.1 510.7L216 520.3ZM206.6 524.5L212.5 514.9L218.4 524.5ZM209 529.3L214.9 519.7L220.8 529.3ZM211.4 532.8L217.3 523.2L223.2 532.8ZM213.8 535.1L219.7 525.5L225.6 535.1ZM216.2 537.8L222.1 528.2L228 537.8ZM218.6 539.1L224.5 529.5L230.4 539.1ZM221 539.8L226.9 530.2L232.8 539.8ZM223.4 541.8L229.3 532.2L235.2 541.8ZM225.8 542.4L231.7 532.8L237.6 542.4ZM228.2 542.4L234.1 532.8L240 542.4ZM230.6 543.8L236.5 534.2L242.4 543.8ZM233 544.8L238.9 535.2L244.8 544.8ZM235.4 544L241.3 534.4L247.2 544ZM237.8 543.7L243.7 534.1L249.6 543.7ZM240.2 544.9L246.1 535.3L252 544.9ZM242.6 546.3L248.5 536.7L254.4 546.3ZM245 544.3L250.9 534.7L256.8 544.3ZM247.4 544.5L253.3 534.9L259.2 544.5ZM249.8 544.5L255.7 534.9L261.6 544.5ZM252.2 545.9L258.1 536.3L264 545.9ZM254.6 542.9L260.5 533.3L266.4 542.9ZM257 545.2L262.9 535.6L268.8 545.2ZM259.4 546L265.3 536.4L271.2 546ZM261.8 544.1L267.7 534.5L273.6 544.1ZM264.2 546.4L270.1 536.8L276 546.4ZM266.6 545.5L272.5 535.9L278.4 545.5ZM269 544.4L274.9 534.8L280.8 544.4ZM271.4 545.2L277.3 535.6L283.2 545.2Z" fill="#000"/>
<polyline points="92,539.7 92.4,539.7 92.8,539.7 93.2,539.7 93.6,539.6 94,539.6 94.4,539.6 94.8,539.6 95.2,539.6 95.6,539.6 96,539.6 96.4,539.6 96.8,539.6 97.2,539.6 97.6,539.6 98,539.6 98.4,539.6 98.8,539.6 99.2,539.6 99.6,539.6 100,539.6 100.4,539.6 100.8,539.6 101.2,539.5 101.6,539.5 102,539.5 102.4,539.5 102.8,539.5 103.2,539.5 103.6,539.5 104,539.5 104.4,539.5 104.8,539.5 105.2,539.5 105.6,539.5 106,539.5 106.4,539.5 106.8,539.5 107.2,539.4 107.6,539.4 108,539.4 108.4,539.4 108.8,539.4 109.2,539.4 109.6,539.4 110,539.4 110.4,539.4 110.8,539.4 111.2,539.4 111.6,539.3 112,539.3 112.4,539.3 112.8,539.3 113.2,539.3 113.6,539.3 114,539.3 114.4,539.3 114.8,539.2 115.2,539.2 115.6,539.2 116,539.2 116.4,539.2 116.8,539.2 117.2,539.2 117.6,539.1 118,539.1 118.4,539.1 118.8,539.1 119.2,539.1 119.6,539 120,539 120.4,539 120.8,539 121.2,538.9 121.6,538.9 122,538.9 122.4,538.9 122.8,538.8 123.2,538.8 123.6,538.8 124,538.7 124.4,538.7 124.8,538.7 125.2,538.6 125.6,538.6 126,538.5 126.4,538.5 126.8,538.4 127.2,538.4 127.6,538.3 128,538.3 128.4,538.2 128.8,538.2 129.2,538.1 129.6,538.1 130,538 130.4,537.9 130.8,537.8 131.2,537.8 131.6,537.7 132,537.6 132.4,537.5 132.8,537.4 133.2,537.3 133.6,537.2 134,537.1 134.4,537 134.8,536.9 135.2,536.8 135.6,536.6 136,536.5 136.4,536.4 136.8,536.2 137.2,536.1 137.6,535.9 138,535.8 138.4,535.6 138.8,535.4 139.2,535.2 139.6,535.1 140,534.9 140.4,534.7 140.8,534.4 141.2,534.2 141.6,534 142,533.8 142.4,533.5 142.8,533.2 143.2,533 143.6,532.7 144,532.4 144.4,532.1 144.8,531.8 145.2,531.5 145.6,531.2 146,530.8 146.4,530.5 146.8,530.1 147.2,529.8 147.6,529.4 148,529 148.4,528.6 148.8,528.2 149.2,527.7 149.6,527.3 150,526.8 150.4,526.4 150.8,525.9 151.2,525.4 151.6,524.9 152,524.4 152.4,523.8 152.8,523.3 153.2,522.7 153.6,522.2 154,521.6 154.4,521 154.8,520.4 155.2,519.8 155.6,519.1 156,518.5 156.4,517.8 156.8,517.2 157.2,516.5 157.6,515.8 158,515.1 158.4,514.4 158.8,513.7 159.2,512.9 159.6,512.2 160,511.4 160.4,510.7 160.8,509.9 161.2,509.1 161.6,508.3 162,507.5 162.4,506.7 162.8,505.9 163.2,505.1 163.6,504.3 164,503.5 164.4,502.7 164.8,501.8 165.2,501 165.6,500.2 166,499.3 166.4,498.5 166.8,497.7 167.2,496.8 167.6,496 168,495.2 168.4,494.4 168.8,493.6 169.2,492.7 169.6,491.9 170,491.1 170.4,490.4 170.8,489.6 171.2,488.8 171.6,488.1 172,487.3 172.4,486.6 172.8,485.9 173.2,485.1 173.6,484.5 174,483.8 174.4,483.1 174.8,482.5 175.2,481.9 175.6,481.3 176,480.7 176.4,480.2 176.8,479.6 177.2,479.1 177.6,478.7 178,478.2 178.4,477.8 178.8,477.4 179.2,477 179.6,476.7 180,476.3 180.4,476.1 180.8,475.8 181.2,475.6 181.6,475.4 182,475.2 182.4,475.1 182.8,475 183.2,474.9 183.6,474.9 184,474.9 184.4,474.9 184.8,475 185.2,475.1 185.6,475.2 186,475.4 186.4,475.6 186.8,475.8 187.2,476.1 187.6,476.3 188,476.7 188.4,477 188.8,477.4 189.2,477.8 189.6,478.2 190,478.7 190.4,479.1 190.8,479.6 191.2,480.2 191.6,480.7 192,481.3 192.4,481.9 192.8,482.5 193.2,483.1 193.6,483.8 194,484.5 194.4,485.1 194.8,485.9 195.2,486.6 195.6,487.3 196,488.1 196.4,488.8 196.8,489.6 197.2,490.4 197.6,491.1 198,491.9 198.4,492.7 198.8,493.6 199.2,494.4 199.6,495.2 200,496 200.4,496.8 200.8,497.7 201.2,498.5 201.6,499.3 202,500.2 202.4,501 202.8,501.8 203.2,502.7 203.6,503.5 204,504.3 204.4,505.1 204.8,505.9 205.2,506.7 205.6,507.5 206,508.3 206.4,509.1 206.8,509.9 207.2,510.7 207.6,511.4 208,512.2 208.4,512.9 208.8,513.7 209.2,514.4 209.6,515.1 210,515.8 210.4,516.5 210.8,517.2 211.2,517.8 211.6,518.5 212,519.1 212.4,519.8 212.8,520.4 213.2,521 213.6,521.6 214,522.2 214.4,522.7 214.8,523.3 215.2,523.8 215.6,524.4 216,524.9 216.4,525.4 216.8,525.9 217.2,526.4 217.6,526.8 218,527.3 218.4,527.7 218.8,528.2 219.2,528.6 219.6,529 220,529.4 220.4,529.8 220.8,530.1 221.2,530.5 221.6,530.8 222,531.2 222.4,531.5 222.8,531.8 223.2,532.1 223.6,532.4 224,532.7 224.4,533 224.8,533.2 225.2,533.5 225.6,533.8 226,534 226.4,534.2 226.8,534.4 227.2,534.7 227.6,534.9 228,535.1 228.4,535.2 228.8,535.4 229.2,535.6 229.6,535.8 230,535.9 230.4,536.1 230.8,536.2 231.2,536.4 231.6,536.5 232,536.6 232.4,536.8 232.8,536.9 233.2,537 233.6,537.1 234,537.2 234.4,537.3 234.8,537.4 235.2,537.5 235.6,537.6 236,537.7 236.4,537.8 236.8,537.8 237.2,537.9 237.6,538 238,538.1 238.4,538.1 238.8,538.2 239.2,538.2 239.6,538.3 240,538.3 240.4,538.4 240.8,538.4 241.2,538.5 241.6,538.5 242,538.6 242.4,538.6 242.8,538.7 243.2,538.7 243.6,538.7 244,538.8 244.4,538.8 244.8,538.8 245.2,538.9 245.6,538.9 246,538.9 246.4,538.9 246.8,539 247.2,539 247.6,539 248,539 248.4,539.1 248.8,539.1 249.2,539.1 249.6,539.1 250,539.1 250.4,539.2 250.8,539.2 251.2,539.2 251.6,539.2 252,539.2 252.4,539.2 252.8,539.2 253.2,539.3 253.6,539.3 254,539.3 254.4,539.3 254.8,539.3 255.2,539.3 255.6,539.3 256,539.3 256.4,539.4 256.8,539.4 257.2,539.4 257.6,539.4 258,539.4 258.4,539.4 258.8,539.4 259.2,539.4 259.6,539.4 260,539.4 260.4,539.4 260.8,539.5 261.2,539.5 261.6,539.5 262,539.5 262.4,539.5 262.8,539.5 263.2,539.5 263.6,539.5 264,539.5 264.4,539.5 264.8,539.5 265.2,539.5 265.6,539.5 266,539.5 266.4,539.5 266.8,539.6 267.2,539.6 267.6,539.6 268,539.6 268.4,539.6 268.8,539.6 269.2,539.6 269.6,539.6 270,539.6 270.4,539.6 270.8,539.6 271.2,539.6 271.6,539.6 272,539.6 272.4,539.6 272.8,539.6 273.2,539.6 273.6,539.6 274,539.6 274.4,539.7 274.8,539.7 275.2,539.7 275.6,539.7 276,539.7 276.4,539.7 276.8,539.7 277.2,539.7 277.6,539.7 278,539.7 278.4,539.7 278.8,539.7 279.2,539.7 279.6,539.7 280,539.7 280.4,539.7 280.8,539.7 281.2,539.7 281.6,539.7 282,539.7 282.4,539.7" fill="none" stroke="#808080" stroke-width="3.5" stroke-linejoin="round" />
<line x1="161.3" y1="458" x2="161.3" y2="546.4" stroke="#808080" stroke-width="1.5" />
<line x1="206" y1="458" x2="206" y2="546.4" stroke="#808080" stroke-width="1.5" />
<path d="M295.1 535.4L301 525.8L306.9 535.4ZM298.1 540.2L304 530.6L309.9 540.2ZM301.1 552.1L307 542.5L312.9 552.1ZM304.1 538.4L310 528.8L315.9 538.4ZM307.1 552.1L313 542.5L318.9 552.1ZM310.1 542.3L316 532.7L321.9 542.3ZM313.1 547.5L319 537.9L324.9 547.5ZM316.1 542.5L322 532.9L327.9 542.5ZM319.1 531L325 521.4L330.9 531ZM322.1 538.7L328 529.1L333.9 538.7ZM325.1 541.8L331 532.2L336.9 541.8ZM328.1 534.3L334 524.7L339.9 534.3ZM331.1 532.2L337 522.6L342.9 532.2ZM334.1 539.3L340 529.7L345.9 539.3ZM337.1 532.4L343 522.8L348.9 532.4ZM340.1 524.9L346 515.3L351.9 524.9ZM343.1 527.2L349 517.6L354.9 527.2ZM346.1 531.6L352 522L357.9 531.6ZM349.1 521.1L355 511.5L360.9 521.1ZM352.1 523.8L358 514.2L363.9 523.8ZM355.1 522L361 512.4L366.9 522ZM358.1 509.4L364 499.8L369.9 509.4ZM361.1 498.2L367 488.6L372.9 498.2ZM364.1 491.9L370 482.3L375.9 491.9ZM367.1 493L373 483.4L378.9 493ZM370.1 492.7L376 483.1L381.9 492.7ZM373.1 485.3L379 475.7L384.9 485.3ZM376.1 483.2L382 473.6L387.9 483.2ZM379.1 475.7L385 466.1L390.9 475.7ZM382.1 477.9L388 468.3L393.9 477.9ZM385.1 473.8L391 464.2L396.9 473.8ZM388.1 475.5L394 465.9L399.9 475.5ZM391.1 472.7L397 463.1L402.9 472.7ZM394.1 474.4L400 464.8L405.9 474.4ZM397.1 483.8L403 474.2L408.9 483.8ZM400.1 485.3L406 475.7L411.9 485.3ZM403.1 491.2L409 481.6L414.9 491.2ZM406.1 504.7L412 495.1L417.9 504.7ZM409.1 506.1L415 496.5L420.9 506.1ZM412.1 522.9L418 513.3L423.9 522.9ZM415.1 521.4L421 511.8L426.9 521.4ZM418.1 518.1L424 508.5L429.9 518.1ZM421.1 529.1L427 519.5L432.9 529.1ZM424.1 530.5L430 520.9L435.9 530.5ZM427.1 528.2L433 518.6L438.9 528.2ZM430.1 539.6L436 530L441.9 539.6ZM433.1 532.1L439 522.5L444.9 532.1ZM436.1 526.6L442 517L447.9 526.6ZM439.1 542.7L445 533.1L450.9 542.7ZM442.1 536.5L448 526.9L453.9 536.5ZM445.1 547.7L451 538.1L456.9 547.7ZM448.1 537.5L454 527.9L459.9 537.5ZM451.1 535.2L457 525.6L462.9 535.2ZM454.1 549L460 539.4L465.9 549ZM457.1 536.1L463 526.5L468.9 536.1ZM460.1 542.5L466 532.9L471.9 542.5ZM463.1 548.8L469 539.2L474.9 548.8ZM466.1 542.1L472 532.5L477.9 542.1ZM469.1 541.2L475 531.6L480.9 541.2ZM472.1 542.1L478 532.5L483.9 542.1ZM475.1 545.7L481 536.1L486.9 545.7ZM518.1 536.6L524 527L529.9 536.6ZM521.1 543.6L527 534L532.9 543.6ZM524.1 543.4L530 533.8L535.9 543.4ZM527.1 551.4L533 541.8L538.9 551.4ZM530.1 538.5L536 528.9L541.9 538.5ZM533.1 535.5L539 525.9L544.9 535.5ZM536.1 543.6L542 534L547.9 543.6ZM539.1 537.7L545 528.1L550.9 537.7ZM542.1 541L548 531.4L553.9 541ZM545.1 539.9L551 530.3L556.9 539.9ZM548.1 544.8L554 535.2L559.9 544.8ZM551.1 535.4L557 525.8L562.9 535.4ZM554.1 537.8L560 528.2L565.9 537.8ZM557.1 526.8L563 517.2L568.9 526.8ZM560.1 532.8L566 523.2L571.9 532.8ZM563.1 544.2L569 534.6L574.9 544.2ZM566.1 532.3L572 522.7L577.9 532.3ZM569.1 531L575 521.4L580.9 531ZM572.1 527L578 517.4L583.9 527ZM575.1 534L581 524.4L586.9 534ZM578.1 529.3L584 519.7L589.9 529.3ZM581.1 518.5L587 508.9L592.9 518.5ZM584.1 522.1L590 512.5L595.9 522.1ZM587.1 511.1L593 501.5L598.9 511.1ZM590.1 499.5L596 489.9L601.9 499.5ZM593.1 470.3L599 460.7L604.9 470.3ZM596.1 452.3L602 442.7L607.9 452.3ZM599.1 424L605 414.4L610.9 424ZM602.1 431.7L608 422.1L613.9 431.7ZM605.1 459.5L611 449.9L616.9 459.5ZM608.1 486.6L614 477L619.9 486.6ZM611.1 509.1L617 499.5L622.9 509.1ZM614.1 514.1L620 504.5L625.9 514.1ZM617.1 527.6L623 518L628.9 527.6ZM620.1 529.6L626 520L631.9 529.6ZM623.1 536.5L629 526.9L634.9 536.5ZM626.1 536.1L632 526.5L637.9 536.1ZM629.1 533.3L635 523.7L640.9 533.3ZM632.1 525.3L638 515.7L643.9 525.3ZM635.1 537.2L641 527.6L646.9 537.2ZM638.1 540.4L644 530.8L649.9 540.4ZM641.1 537.9L647 528.3L652.9 537.9ZM644.1 540.3L650 530.7L655.9 540.3ZM647.1 535.5L653 525.9L658.9 535.5ZM650.1 536.3L656 526.7L661.9 536.3ZM653.1 533.8L659 524.2L664.9 533.8ZM656.1 545.5L662 535.9L667.9 545.5Z" fill="#000"/>
<polyline points="295,539.8 295.4,539.8 295.8,539.8 296.2,539.8 296.6,539.8 297,539.8 297.4,539.8 297.8,539.8 298.2,539.8 298.6,539.8 299,539.8 299.4,539.8 299.8,539.8 300.2,539.8 300.6,539.8 301,539.8 301.4,539.8 301.8,539.8 302.2,539.8 302.6,539.7 303,539.7 303.4,539.7 303.8,539.7 304.2,539.7 304.6,539.7 305,539.7 305.4,539.7 305.8,539.7 306.2,539.7 306.6,539.7 307,539.7 307.4,539.7 307.8,539.7 308.2,539.7 308.6,539.6 309,539.6 309.4,539.6 309.8,539.6 310.2,539.6 310.6,539.6 311,539.6 311.4,539.6 311.8,539.6 312.2,539.6 312.6,539.5 313,539.5 313.4,539.5 313.8,539.5 314.2,539.5 314.6,539.5 315,539.5 315.4,539.4 315.8,539.4 316.2,539.4 316.6,539.4 317,539.4 317.4,539.3 317.8,539.3 318.2,539.3 318.6,539.3 319,539.2 319.4,539.2 319.8,539.2 320.2,539.2 320.6,539.1 321,539.1 321.4,539.1 321.8,539 322.2,539 322.6,539 323,538.9 323.4,538.9 323.8,538.8 324.2,538.8 324.6,538.7 325,538.7 325.4,538.6 325.8,538.6 326.2,538.5 326.6,538.5 327,538.4 327.4,538.3 327.8,538.3 328.2,538.2 328.6,538.1 329,538 329.4,538 329.8,537.9 330.2,537.8 330.6,537.7 331,537.6 331.4,537.5 331.8,537.4 332.2,537.3 332.6,537.2 333,537.1 333.4,536.9 333.8,536.8 334.2,536.7 334.6,536.5 335,536.4 335.4,536.3 335.8,536.1 336.2,536 336.6,535.8 337,535.6 337.4,535.5 337.8,535.3 338.2,535.1 338.6,534.9 339,534.7 339.4,534.5 339.8,534.3 340.2,534.1 340.6,533.9 341,533.6 341.4,533.4 341.8,533.1 342.2,532.9 342.6,532.6 343,532.4 343.4,532.1 343.8,531.8 344.2,531.5 344.6,531.2 345,530.9 345.4,530.6 345.8,530.2 346.2,529.9 346.6,529.6 347,529.2 347.4,528.9 347.8,528.5 348.2,528.1 348.6,527.7 349,527.3 349.4,526.9 349.8,526.5 350.2,526.1 350.6,525.6 351,525.2 351.4,524.7 351.8,524.2 352.2,523.8 352.6,523.3 353,522.8 353.4,522.3 353.8,521.8 354.2,521.3 354.6,520.7 355,520.2 355.4,519.6 355.8,519.1 356.2,518.5 356.6,517.9 357,517.3 357.4,516.8 357.8,516.1 358.2,515.5 358.6,514.9 359,514.3 359.4,513.7 359.8,513 360.2,512.4 360.6,511.7 361,511.1 361.4,510.4 361.8,509.7 362.2,509 362.6,508.3 363,507.7 363.4,507 363.8,506.3 364.2,505.6 364.6,504.8 365,504.1 365.4,503.4 365.8,502.7 366.2,502 366.6,501.3 367,500.5 367.4,499.8 367.8,499.1 368.2,498.4 368.6,497.6 369,496.9 369.4,496.2 369.8,495.5 370.2,494.8 370.6,494 371,493.3 371.4,492.6 371.8,491.9 372.2,491.2 372.6,490.5 373,489.8 373.4,489.2 373.8,488.5 374.2,487.8 374.6,487.2 375,486.5 375.4,485.9 375.8,485.3 376.2,484.6 376.6,484 377,483.4 377.4,482.8 377.8,482.3 378.2,481.7 378.6,481.2 379,480.6 379.4,480.1 379.8,479.6 380.2,479.1 380.6,478.7 381,478.2 381.4,477.8 381.8,477.3 382.2,476.9 382.6,476.5 383,476.2 383.4,475.8 383.8,475.5 384.2,475.2 384.6,474.9 385,474.6 385.4,474.3 385.8,474.1 386.2,473.9 386.6,473.7 387,473.5 387.4,473.3 387.8,473.2 388.2,473.1 388.6,473 389,472.9 389.4,472.9 389.8,472.8 390.2,472.8 390.6,472.8 391,472.9 391.4,472.9 391.8,473 392.2,473.1 392.6,473.2 393,473.4 393.4,473.5 393.8,473.7 394.2,473.9 394.6,474.1 395,474.4 395.4,474.6 395.8,474.9 396.2,475.2 396.6,475.5 397,475.9 397.4,476.2 397.8,476.6 398.2,477 398.6,477.4 399,477.8 399.4,478.3 399.8,478.7 400.2,479.2 400.6,479.7 401,480.2 401.4,480.7 401.8,481.3 402.2,481.8 402.6,482.4 403,482.9 403.4,483.5 403.8,484.1 404.2,484.7 404.6,485.3 405,486 405.4,486.6 405.8,487.2 406.2,487.9 406.6,488.6 407,489.2 407.4,489.9 407.8,490.6 408.2,491.3 408.6,492 409,492.7 409.4,493.4 409.8,494.1 410.2,494.8 410.6,495.5 411,496.2 411.4,496.9 411.8,497.7 412.2,498.4 412.6,499.1 413,499.8 413.4,500.5 413.8,501.2 414.2,502 414.6,502.7 415,503.4 415.4,504.1 415.8,504.8 416.2,505.5 416.6,506.2 417,506.9 417.4,507.6 417.8,508.2 418.2,508.9 418.6,509.6 419,510.3 419.4,510.9 419.8,511.6 420.2,512.2 420.6,512.9 421,513.5 421.4,514.1 421.8,514.7 422.2,515.3 422.6,515.9 423,516.5 423.4,517.1 423.8,517.7 424.2,518.2 424.6,518.8 425,519.3 425.4,519.9 425.8,520.4 426.2,520.9 426.6,521.4 427,521.9 427.4,522.4 427.8,522.9 428.2,523.4 428.6,523.9 429,524.3 429.4,524.8 429.8,525.2 430.2,525.6 430.6,526 431,526.4 431.4,526.8 431.8,527.2 432.2,527.6 432.6,528 433,528.3 433.4,528.7 433.8,529 434.2,529.4 434.6,529.7 435,530 435.4,530.3 435.8,530.6 436.2,530.9 436.6,531.2 437,531.5 437.4,531.7 437.8,532 438.2,532.2 438.6,532.5 439,532.7 439.4,532.9 439.8,533.2 440.2,533.4 440.6,533.6 441,533.8 441.4,534 441.8,534.2 442.2,534.3 442.6,534.5 443,534.7 443.4,534.8 443.8,535 444.2,535.2 444.6,535.3 445,535.4 445.4,535.6 445.8,535.7 446.2,535.8 446.6,536 447,536.1 447.4,536.2 447.8,536.3 448.2,536.4 448.6,536.5 449,536.6 449.4,536.7 449.8,536.8 450.2,536.8 450.6,536.9 451,537 451.4,537.1 451.8,537.1 452.2,537.2 452.6,537.3 453,537.3 453.4,537.4 453.8,537.4 454.2,537.5 454.6,537.5 455,537.6 455.4,537.6 455.8,537.7 456.2,537.7 456.6,537.7 457,537.8 457.4,537.8 457.8,537.9 458.2,537.9 458.6,537.9 459,537.9 459.4,538 459.8,538 460.2,538 460.6,538 461,538.1 461.4,538.1 461.8,538.1 462.2,538.1 462.6,538.1 463,538.1 463.4,538.2 463.8,538.2 464.2,538.2 464.6,538.2 465,538.2 465.4,538.2 465.8,538.2 466.2,538.2 466.6,538.2 467,538.2 467.4,538.2 467.8,538.2 468.2,538.3 468.6,538.3 469,538.3 469.4,538.3 469.8,538.3 470.2,538.3 470.6,538.3 471,538.3 471.4,538.3 471.8,538.3 472.2,538.3 472.6,538.3 473,538.3 473.4,538.3 473.8,538.3 474.2,538.3 474.6,538.3 475,538.3 475.4,538.3 475.8,538.3 476.2,538.3 476.6,538.3 477,538.3 477.4,538.2 477.8,538.2 478.2,538.2 478.6,538.2 479,538.2 479.4,538.2 479.8,538.2 480.2,538.2 480.6,538.2 481,538.2 481.4,538.2 481.8,538.2 482.2,538.2 482.6,538.2 483,538.2 483.4,538.2 483.8,538.2 484.2,538.2 484.6,538.2 485,538.2 485.4,538.2 485.8,538.2 486.2,538.2 486.6,538.1 487,538.1 487.4,538.1 487.8,538.1 488.2,538.1 488.6,538.1 489,538.1 489.4,538.1 489.8,538.1 490.2,538.1 490.6,538.1 491,538.1 491.4,538.1 491.8,538.1 492.2,538.1 492.6,538.1 493,538.1 493.4,538 493.8,538 494.2,538 494.6,538 495,538 495.4,538 495.8,538 496.2,538 496.6,538 497,538 497.4,538 497.8,538 498.2,538 498.6,538 499,538 499.4,537.9 499.8,537.9 500.2,537.9 500.6,537.9 501,537.9 501.4,537.9 501.8,537.9 502.2,537.9 502.6,537.9 503,537.9 503.4,537.9 503.8,537.9 504.2,537.9 504.6,537.9 505,537.8 505.4,537.8 505.8,537.8 506.2,537.8 506.6,537.8 507,537.8 507.4,537.8 507.8,537.8 508.2,537.8 508.6,537.8 509,537.8 509.4,537.8 509.8,537.7 510.2,537.7 510.6,537.7 511,537.7 511.4,537.7 511.8,537.7 512.2,537.7 512.6,537.7 513,537.7 513.4,537.7 513.8,537.7 514.2,537.6 514.6,537.6 515,537.6 515.4,537.6 515.8,537.6 516.2,537.6 516.6,537.6 517,537.6 517.4,537.6 517.8,537.6 518.2,537.5 518.6,537.5 519,537.5 519.4,537.5 519.8,537.5 520.2,537.5 520.6,537.5 521,537.5 521.4,537.5 521.8,537.4 522.2,537.4 522.6,537.4 523,537.4 523.4,537.4 523.8,537.4 524.2,537.4 524.6,537.4 525,537.3 525.4,537.3 525.8,537.3 526.2,537.3 526.6,537.3 527,537.3 527.4,537.3 527.8,537.3 528.2,537.2 528.6,537.2 529,537.2 529.4,537.2 529.8,537.2 530.2,537.2 530.6,537.1 531,537.1 531.4,537.1 531.8,537.1 532.2,537.1 532.6,537.1 533,537.1 533.4,537 533.8,537 534.2,537 534.6,537 535,537 535.4,537 535.8,536.9 536.2,536.9 536.6,536.9 537,536.9 537.4,536.9 537.8,536.8 538.2,536.8 538.6,536.8 539,536.8 539.4,536.8 539.8,536.7 540.2,536.7 540.6,536.7 541,536.7 541.4,536.7 541.8,536.6 542.2,536.6 542.6,536.6 543,536.6 543.4,536.5 543.8,536.5 544.2,536.5 544.6,536.5 545,536.4 545.4,536.4 545.8,536.4 546.2,536.4 546.6,536.3 547,536.3 547.4,536.3 547.8,536.2 548.2,536.2 548.6,536.2 549,536.1 549.4,536.1 549.8,536.1 550.2,536 550.6,536 551,536 551.4,535.9 551.8,535.9 552.2,535.9 552.6,535.8 553,535.8 553.4,535.8 553.8,535.7 554.2,535.7 554.6,535.6 555,535.6 555.4,535.6 555.8,535.5 556.2,535.5 556.6,535.4 557,535.4 557.4,535.3 557.8,535.3 558.2,535.2 558.6,535.2 559,535.1 559.4,535.1 559.8,535 560.2,535 560.6,534.9 561,534.8 561.4,534.8 561.8,534.7 562.2,534.6 562.6,534.6 563,534.5 563.4,534.4 563.8,534.4 564.2,534.3 564.6,534.2 565,534.1 565.4,534.1 565.8,534 566.2,533.9 566.6,533.8 567,533.7 567.4,533.6 567.8,533.5 568.2,533.4 568.6,533.3 569,533.2 569.4,533.1 569.8,533 570.2,532.9 570.6,532.8 571,532.7 571.4,532.6 571.8,532.4 572.2,532.3 572.6,532.2 573,532 573.4,531.9 573.8,531.7 574.2,531.6 574.6,531.4 575,531.2 575.4,531.1 575.8,530.9 576.2,530.7 576.6,530.5 577,530.3 577.4,530.1 577.8,529.9 578.2,529.7 578.6,529.4 579,529.2 579.4,528.9 579.8,528.7 580.2,528.4 580.6,528.1 581,527.8 581.4,527.5 581.8,527.2 582.2,526.8 582.6,526.5 583,526.1 583.4,525.7 583.8,525.3 584.2,524.9 584.6,524.4 585,523.9 585.4,523.4 585.8,522.9 586.2,522.4 586.6,521.8 587,521.2 587.4,520.5 587.8,519.9 588.2,519.2 588.6,518.4 589,517.6 589.4,516.8 589.8,515.9 590.2,514.9 590.6,513.9 591,512.9 591.4,511.8 591.8,510.6 592.2,509.3 592.6,508 593,506.5 593.4,505 593.8,503.4 594.2,501.7 594.6,499.8 595,497.9 595.4,495.8 595.8,493.6 596.2,491.2 596.6,488.7 597,486.1 597.4,483.2 597.8,480.2 598.2,477.1 598.6,473.8 599,470.3 599.4,466.6 599.8,462.8 600.2,458.8 600.6,454.8 601,450.7 601.4,446.5 601.8,442.4 602.2,438.3 602.6,434.4 603,430.7 603.4,427.4 603.8,424.4 604.2,421.9 604.6,419.9 605,418.6 605.4,417.9 605.8,417.9 606.2,418.6 606.6,419.9 607,421.9 607.4,424.4 607.8,427.3 608.2,430.7 608.6,434.4 609,438.3 609.4,442.3 609.8,446.5 610.2,450.6 610.6,454.7 611,458.8 611.4,462.7 611.8,466.5 612.2,470.2 612.6,473.7 613,477 613.4,480.1 613.8,483.1 614.2,485.9 614.6,488.6 615,491.1 615.4,493.5 615.8,495.7 616.2,497.7 616.6,499.7 617,501.5 617.4,503.2 617.8,504.8 618.2,506.4 618.6,507.8 619,509.1 619.4,510.4 619.8,511.6 620.2,512.7 620.6,513.7 621,514.7 621.4,515.7 621.8,516.6 622.2,517.4 622.6,518.2 623,518.9 623.4,519.6 623.8,520.3 624.2,520.9 624.6,521.5 625,522.1 625.4,522.7 625.8,523.2 626.2,523.7 626.6,524.1 627,524.6 627.4,525 627.8,525.4 628.2,525.8 628.6,526.2 629,526.5 629.4,526.8 629.8,527.2 630.2,527.5 630.6,527.8 631,528 631.4,528.3 631.8,528.6 632.2,528.8 632.6,529.1 633,529.3 633.4,529.5 633.8,529.7 634.2,529.9 634.6,530.1 635,530.3 635.4,530.5 635.8,530.7 636.2,530.8 636.6,531 637,531.2 637.4,531.3 637.8,531.5 638.2,531.6 638.6,531.7 639,531.9 639.4,532 639.8,532.1 640.2,532.2 640.6,532.3 641,532.5 641.4,532.6 641.8,532.7 642.2,532.8 642.6,532.9 643,533 643.4,533 643.8,533.1 644.2,533.2 644.6,533.3 645,533.4 645.4,533.5 645.8,533.5 646.2,533.6 646.6,533.7 647,533.8 647.4,533.8 647.8,533.9 648.2,534 648.6,534 649,534.1 649.4,534.1 649.8,534.2 650.2,534.2 650.6,534.3 651,534.4 651.4,534.4 651.8,534.5 652.2,534.5 652.6,534.5 653,534.6 653.4,534.6 653.8,534.7 654.2,534.7 654.6,534.8 655,534.8 655.4,534.8 655.8,534.9 656.2,534.9 656.6,535 657,535 657.4,535 657.8,535.1 658.2,535.1 658.6,535.1 659,535.2 659.4,535.2 659.8,535.2 660.2,535.3 660.6,535.3 661,535.3 661.4,535.3 661.8,535.4 662.2,535.4 662.6,535.4 663,535.4 663.4,535.5 663.8,535.5 664.2,535.5 664.6,535.5 665,535.6 665.4,535.6 665.8,535.6 666.2,535.6 666.6,535.6 667,535.7 667.4,535.7 667.8,535.7 668.2,535.7 668.6,535.7 669,535.8 669.4,535.8 669.8,535.8 670.2,535.8 670.6,535.8 671,535.8 671.4,535.9 671.8,535.9" fill="none" stroke="#808080" stroke-width="3.5" stroke-linejoin="round" />
<text transform="translate(0,694.6) scale(0.98,1)" font-size="35" text-anchor="start" fill="#000" font-weight="bold" >c</text>
<path d="M55 1095.3h14v14h-14ZM58.6 1103.9h14v14h-14ZM62.2 1079.2h14v14h-14ZM65.8 1105.2h14v14h-14ZM69.4 1092.2h14v14h-14ZM73 1086.6h14v14h-14ZM76.6 1086.6h14v14h-14ZM80.2 1084.5h14v14h-14ZM83.8 1090.9h14v14h-14ZM87.4 1098.9h14v14h-14ZM91 1097h14v14h-14ZM94.6 1097.4h14v14h-14ZM98.2 1079.9h14v14h-14ZM101.8 1080.8h14v14h-14ZM105.4 1104.3h14v14h-14ZM109 1099.9h14v14h-14ZM112.6 1109h14v14h-14ZM116.2 1101.7h14v14h-14ZM119.8 1084.9h14v14h-14ZM123.4 1102.2h14v14h-14ZM127 1097.3h14v14h-14ZM130.6 1094.2h14v14h-14ZM134.2 1086.5h14v14h-14ZM137.8 1092.6h14v14h-14ZM141.4 1091.5h14v14h-14ZM145 1099.3h14v14h-14ZM148.6 1093.5h14v14h-14ZM152.2 1104.5h14v14h-14ZM155.8 1086.8h14v14h-14ZM159.4 1096.1h14v14h-14ZM163 1096.3h14v14h-14ZM166.6 1086.1h14v14h-14ZM170.2 1083.7h14v14h-14ZM173.8 1100.2h14v14h-14ZM177.4 1096.5h14v14h-14ZM181 1091.4h14v14h-14ZM184.6 1095.6h14v14h-14ZM188.2 1087.5h14v14h-14ZM191.8 1094h14v14h-14ZM195.4 1086.6h14v14h-14ZM199 1091.2h14v14h-14ZM202.6 1095.6h14v14h-14ZM206.2 1083.9h14v14h-14ZM209.8 1090.6h14v14h-14ZM213.4 1073.2h14v14h-14ZM217 1071.9h14v14h-14ZM220.6 1049.6h14v14h-14ZM224.2 1048.2h14v14h-14ZM227.8 1040.5h14v14h-14ZM231.4 1029.6h14v14h-14ZM235 1020.6h14v14h-14ZM238.6 1024.4h14v14h-14ZM242.2 1017.2h14v14h-14ZM245.8 990.8h14v14h-14ZM249.4 1003.3h14v14h-14ZM253 977.1h14v14h-14ZM256.6 984h14v14h-14ZM260.2 991.3h14v14h-14ZM263.8 996.3h14v14h-14ZM267.4 989.6h14v14h-14ZM271 993.7h14v14h-14ZM274.6 1001.5h14v14h-14ZM278.2 997.9h14v14h-14ZM281.8 1001.2h14v14h-14ZM285.4 1014.5h14v14h-14ZM289 1020.1h14v14h-14ZM292.6 1016.2h14v14h-14ZM296.2 1020.1h14v14h-14ZM299.8 1023.2h14v14h-14ZM303.4 1022.9h14v14h-14ZM307 1025.2h14v14h-14ZM310.6 1024h14v14h-14ZM314.2 1039.2h14v14h-14ZM317.8 1036.2h14v14h-14ZM321.4 1038.2h14v14h-14ZM325 1043h14v14h-14ZM328.6 1047.6h14v14h-14ZM332.2 1056.2h14v14h-14ZM335.8 1045.3h14v14h-14ZM339.4 1046h14v14h-14ZM343 1052h14v14h-14ZM346.6 1045.5h14v14h-14ZM350.2 1062.7h14v14h-14ZM353.8 1061.4h14v14h-14ZM357.4 1061h14v14h-14ZM361 1056.2h14v14h-14ZM364.6 1064h14v14h-14ZM368.2 1067.6h14v14h-14ZM371.8 1064.7h14v14h-14ZM375.4 1060.1h14v14h-14ZM379 1050.7h14v14h-14ZM382.6 1071.7h14v14h-14ZM386.2 1063h14v14h-14ZM389.8 1060.5h14v14h-14ZM393.4 1074.6h14v14h-14ZM397 1071.5h14v14h-14ZM400.6 1059.4h14v14h-14ZM404.2 1070.3h14v14h-14ZM407.8 1070h14v14h-14ZM411.4 1080.5h14v14h-14ZM415 1059.7h14v14h-14ZM418.6 1071.8h14v14h-14ZM422.2 1074.4h14v14h-14ZM425.8 1086.9h14v14h-14ZM429.4 1068.9h14v14h-14ZM433 1055.7h14v14h-14ZM436.6 1068h14v14h-14ZM440.2 1081h14v14h-14ZM443.8 1085.6h14v14h-14ZM447.4 1093h14v14h-14ZM451 1083.4h14v14h-14ZM454.6 1074.6h14v14h-14ZM458.2 1087.5h14v14h-14ZM461.8 1081h14v14h-14ZM465.4 1079.8h14v14h-14ZM469 1081.6h14v14h-14ZM472.6 1091.2h14v14h-14ZM476.2 1075.1h14v14h-14ZM479.8 1074.4h14v14h-14ZM483.4 1081.7h14v14h-14ZM487 1081.9h14v14h-14ZM490.6 1076.4h14v14h-14ZM494.2 1076.1h14v14h-14ZM497.8 1085.7h14v14h-14ZM501.4 1093h14v14h-14ZM505 1088.4h14v14h-14ZM508.6 1088.3h14v14h-14ZM512.2 1092.6h14v14h-14ZM515.8 1068.6h14v14h-14ZM519.4 1072.5h14v14h-14ZM523 1078.8h14v14h-14ZM526.6 1075.4h14v14h-14ZM530.2 1077.2h14v14h-14ZM533.8 1085.4h14v14h-14ZM537.4 1075.5h14v14h-14ZM541 1082h14v14h-14ZM544.6 1070.3h14v14h-14ZM548.2 1078.5h14v14h-14ZM551.8 1096.1h14v14h-14ZM555.4 1082.1h14v14h-14ZM559 1088.8h14v14h-14ZM562.6 1091.9h14v14h-14ZM566.2 1083.1h14v14h-14ZM569.8 1091.3h14v14h-14ZM573.4 1088.7h14v14h-14ZM577 1092.5h14v14h-14ZM580.6 1082.6h14v14h-14ZM584.2 1076.8h14v14h-14ZM587.8 1080h14v14h-14ZM591.4 1083.7h14v14h-14ZM595 1092h14v14h-14ZM598.6 1086.5h14v14h-14ZM602.2 1085.2h14v14h-14ZM605.8 1086.9h14v14h-14ZM609.4 1096.5h14v14h-14ZM613 1084h14v14h-14ZM616.6 1099.7h14v14h-14ZM620.2 1079.2h14v14h-14ZM623.8 1084h14v14h-14ZM627.4 1094.9h14v14h-14ZM631 1092.4h14v14h-14ZM634.6 1082.1h14v14h-14ZM638.2 1087.7h14v14h-14ZM641.8 1083.3h14v14h-14Z" fill="#0000ff"/>
<path d="M54.6 1105.1a7.4 7.4 0 1 0 14.8 0a7.4 7.4 0 1 0 -14.8 0ZM58.2 1103.1a7.4 7.4 0 1 0 14.8 0a7.4 7.4 0 1 0 -14.8 0ZM61.8 1095a7.4 7.4 0 1 0 14.8 0a7.4 7.4 0 1 0 -14.8 0ZM65.4 1102.2a7.4 7.4 0 1 0 14.8 0a7.4 7.4 0 1 0 -14.8 0ZM69 1097.2a7.4 7.4 0 1 0 14.8 0a7.4 7.4 0 1 0 -14.8 0ZM72.6 1099.1a7.4 7.4 0 1 0 14.8 0a7.4 7.4 0 1 0 -14.8 0ZM76.2 1100a7.4 7.4 0 1 0 14.8 0a7.4 7.4 0 1 0 -14.8 0ZM79.8 1095.9a7.4 7.4 0 1 0 14.8 0a7.4 7.4 0 1 0 -14.8 0ZM83.4 1102.4a7.4 7.4 0 1 0 14.8 0a7.4 7.4 0 1 0 -14.8 0ZM87 1102.6a7.4 7.4 0 1 0 14.8 0a7.4 7.4 0 1 0 -14.8 0ZM90.6 1102.4a7.4 7.4 0 1 0 14.8 0a7.4 7.4 0 1 0 -14.8 0ZM94.2 1106.8a7.4 7.4 0 1 0 14.8 0a7.4 7.4 0 1 0 -14.8 0ZM97.8 1097.8a7.4 7.4 0 1 0 14.8 0a7.4 7.4 0 1 0 -14.8 0ZM101.4 1090a7.4 7.4 0 1 0 14.8 0a7.4 7.4 0 1 0 -14.8 0ZM105 1096.4a7.4 7.4 0 1 0 14.8 0a7.4 7.4 0 1 0 -14.8 0ZM108.6 1100.9a7.4 7.4 0 1 0 14.8 0a7.4 7.4 0 1 0 -14.8 0ZM112.2 1099.7a7.4 7.4 0 1 0 14.8 0a7.4 7.4 0 1 0 -14.8 0ZM115.8 1103.4a7.4 7.4 0 1 0 14.8 0a7.4 7.4 0 1 0 -14.8 0ZM119.4 1104.8a7.4 7.4 0 1 0 14.8 0a7.4 7.4 0 1 0 -14.8 0ZM123 1098.8a7.4 7.4 0 1 0 14.8 0a7.4 7.4 0 1 0 -14.8 0ZM126.6 1098.9a7.4 7.4 0 1 0 14.8 0a7.4 7.4 0 1 0 -14.8 0ZM130.2 1093.2a7.4 7.4 0 1 0 14.8 0a7.4 7.4 0 1 0 -14.8 0ZM133.8 1106.3a7.4 7.4 0 1 0 14.8 0a7.4 7.4 0 1 0 -14.8 0ZM137.4 1097.9a7.4 7.4 0 1 0 14.8 0a7.4 7.4 0 1 0 -14.8 0ZM141 1092.6a7.4 7.4 0 1 0 14.8 0a7.4 7.4 0 1 0 -14.8 0ZM144.6 1092.4a7.4 7.4 0 1 0 14.8 0a7.4 7.4 0 1 0 -14.8 0ZM148.2 1096.9a7.4 7.4 0 1 0 14.8 0a7.4 7.4 0 1 0 -14.8 0ZM151.8 1109.7a7.4 7.4 0 1 0 14.8 0a7.4 7.4 0 1 0 -14.8 0ZM155.4 1104.6a7.4 7.4 0 1 0 14.8 0a7.4 7.4 0 1 0 -14.8 0ZM159 1088.6a7.4 7.4 0 1 0 14.8 0a7.4 7.4 0 1 0 -14.8 0ZM162.6 1098.8a7.4 7.4 0 1 0 14.8 0a7.4 7.4 0 1 0 -14.8 0ZM166.2 1101.3a7.4 7.4 0 1 0 14.8 0a7.4 7.4 0 1 0 -14.8 0ZM169.8 1103.7a7.4 7.4 0 1 0 14.8 0a7.4 7.4 0 1 0 -14.8 0ZM173.4 1101.8a7.4 7.4 0 1 0 14.8 0a7.4 7.4 0 1 0 -14.8 0ZM177 1095.4a7.4 7.4 0 1 0 14.8 0a7.4 7.4 0 1 0 -14.8 0ZM180.6 1102.1a7.4 7.4 0 1 0 14.8 0a7.4 7.4 0 1 0 -14.8 0ZM184.2 1095.6a7.4 7.4 0 1 0 14.8 0a7.4 7.4 0 1 0 -14.8 0ZM187.8 1083.8a7.4 7.4 0 1 0 14.8 0a7.4 7.4 0 1 0 -14.8 0ZM285 1043.3a7.4 7.4 0 1 0 14.8 0a7.4 7.4 0 1 0 -14.8 0ZM288.6 1054.3a7.4 7.4 0 1 0 14.8 0a7.4 7.4 0 1 0 -14.8 0ZM292.2 1064.9a7.4 7.4 0 1 0 14.8 0a7.4 7.4 0 1 0 -14.8 0ZM295.8 1061.6a7.4 7.4 0 1 0 14.8 0a7.4 7.4 0 1 0 -14.8 0ZM299.4 1078.1a7.4 7.4 0 1 0 14.8 0a7.4 7.4 0 1 0 -14.8 0ZM303 1083.2a7.4 7.4 0 1 0 14.8 0a7.4 7.4 0 1 0 -14.8 0ZM306.6 1073.3a7.4 7.4 0 1 0 14.8 0a7.4 7.4 0 1 0 -14.8 0ZM310.2 1081.8a7.4 7.4 0 1 0 14.8 0a7.4 7.4 0 1 0 -14.8 0ZM313.8 1093.9a7.4 7.4 0 1 0 14.8 0a7.4 7.4 0 1 0 -14.8 0ZM317.4 1081.4a7.4 7.4 0 1 0 14.8 0a7.4 7.4 0 1 0 -14.8 0ZM321 1080a7.4 7.4 0 1 0 14.8 0a7.4 7.4 0 1 0 -14.8 0ZM324.6 1085.2a7.4 7.4 0 1 0 14.8 0a7.4 7.4 0 1 0 -14.8 0ZM328.2 1080.8a7.4 7.4 0 1 0 14.8 0a7.4 7.4 0 1 0 -14.8 0ZM331.8 1082.5a7.4 7.4 0 1 0 14.8 0a7.4 7.4 0 1 0 -14.8 0ZM335.4 1093.9a7.4 7.4 0 1 0 14.8 0a7.4 7.4 0 1 0 -14.8 0ZM339 1090.9a7.4 7.4 0 1 0 14.8 0a7.4 7.4 0 1 0 -14.8 0ZM342.6 1096.2a7.4 7.4 0 1 0 14.8 0a7.4 7.4 0 1 0 -14.8 0ZM346.2 1098.5a7.4 7.4 0 1 0 14.8 0a7.4 7.4 0 1 0 -14.8 0ZM349.8 1091a7.4 7.4 0 1 0 14.8 0a7.4 7.4 0 1 0 -14.8 0ZM353.4 1095.2a7.4 7.4 0 1 0 14.8 0a7.4 7.4 0 1 0 -14.8 0ZM357 1095.1a7.4 7.4 0 1 0 14.8 0a7.4 7.4 0 1 0 -14.8 0ZM360.6 1092.9a7.4 7.4 0 1 0 14.8 0a7.4 7.4 0 1 0 -14.8 0ZM364.2 1092.1a7.4 7.4 0 1 0 14.8 0a7.4 7.4 0 1 0 -14.8 0ZM367.8 1099.9a7.4 7.4 0 1 0 14.8 0a7.4 7.4 0 1 0 -14.8 0ZM371.4 1097.1a7.4 7.4 0 1 0 14.8 0a7.4 7.4 0 1 0 -14.8 0ZM375 1100.4a7.4 7.4 0 1 0 14.8 0a7.4 7.4 0 1 0 -14.8 0ZM378.6 1104.9a7.4 7.4 0 1 0 14.8 0a7.4 7.4 0 1 0 -14.8 0ZM382.2 1105.1a7.4 7.4 0 1 0 14.8 0a7.4 7.4 0 1 0 -14.8 0ZM385.8 1091.4a7.4 7.4 0 1 0 14.8 0a7.4 7.4 0 1 0 -14.8 0ZM389.4 1093.2a7.4 7.4 0 1 0 14.8 0a7.4 7.4 0 1 0 -14.8 0ZM393 1097.2a7.4 7.4 0 1 0 14.8 0a7.4 7.4 0 1 0 -14.8 0ZM396.6 1099.8a7.4 7.4 0 1 0 14.8 0a7.4 7.4 0 1 0 -14.8 0ZM400.2 1105.2a7.4 7.4 0 1 0 14.8 0a7.4 7.4 0 1 0 -14.8 0ZM403.8 1092.9a7.4 7.4 0 1 0 14.8 0a7.4 7.4 0 1 0 -14.8 0ZM407.4 1096.3a7.4 7.4 0 1 0 14.8 0a7.4 7.4 0 1 0 -14.8 0ZM411 1100.8a7.4 7.4 0 1 0 14.8 0a7.4 7.4 0 1 0 -14.8 0ZM414.6 1107.3a7.4 7.4 0 1 0 14.8 0a7.4 7.4 0 1 0 -14.8 0ZM418.2 1108.3a7.4 7.4 0 1 0 14.8 0a7.4 7.4 0 1 0 -14.8 0ZM421.8 1092.8a7.4 7.4 0 1 0 14.8 0a7.4 7.4 0 1 0 -14.8 0ZM425.4 1098a7.4 7.4 0 1 0 14.8 0a7.4 7.4 0 1 0 -14.8 0ZM429 1094.2a7.4 7.4 0 1 0 14.8 0a7.4 7.4 0 1 0 -14.8 0ZM432.6 1104.9a7.4 7.4 0 1 0 14.8 0a7.4 7.4 0 1 0 -14.8 0ZM436.2 1102.4a7.4 7.4 0 1 0 14.8 0a7.4 7.4 0 1 0 -14.8 0ZM439.8 1097.1a7.4 7.4 0 1 0 14.8 0a7.4 7.4 0 1 0 -14.8 0ZM443.4 1095.5a7.4 7.4 0 1 0 14.8 0a7.4 7.4 0 1 0 -14.8 0ZM447 1101.4a7.4 7.4 0 1 0 14.8 0a7.4 7.4 0 1 0 -14.8 0ZM450.6 1105.9a7.4 7.4 0 1 0 14.8 0a7.4 7.4 0 1 0 -14.8 0ZM454.2 1094.5a7.4 7.4 0 1 0 14.8 0a7.4 7.4 0 1 0 -14.8 0ZM457.8 1097.4a7.4 7.4 0 1 0 14.8 0a7.4 7.4 0 1 0 -14.8 0ZM461.4 1100.3a7.4 7.4 0 1 0 14.8 0a7.4 7.4 0 1 0 -14.8 0ZM465 1099.7a7.4 7.4 0 1 0 14.8 0a7.4 7.4 0 1 0 -14.8 0ZM468.6 1101.8a7.4 7.4 0 1 0 14.8 0a7.4 7.4 0 1 0 -14.8 0ZM472.2 1093.1a7.4 7.4 0 1 0 14.8 0a7.4 7.4 0 1 0 -14.8 0ZM475.8 1095.7a7.4 7.4 0 1 0 14.8 0a7.4 7.4 0 1 0 -14.8 0ZM479.4 1085.9a7.4 7.4 0 1 0 14.8 0a7.4 7.4 0 1 0 -14.8 0ZM483 1099.9a7.4 7.4 0 1 0 14.8 0a7.4 7.4 0 1 0 -14.8 0ZM486.6 1106.5a7.4 7.4 0 1 0 14.8 0a7.4 7.4 0 1 0 -14.8 0ZM490.2 1086.2a7.4 7.4 0 1 0 14.8 0a7.4 7.4 0 1 0 -14.8 0ZM493.8 1095.5a7.4 7.4 0 1 0 14.8 0a7.4 7.4 0 1 0 -14.8 0ZM497.4 1105.4a7.4 7.4 0 1 0 14.8 0a7.4 7.4 0 1 0 -14.8 0ZM501 1098.7a7.4 7.4 0 1 0 14.8 0a7.4 7.4 0 1 0 -14.8 0ZM504.6 1087.3a7.4 7.4 0 1 0 14.8 0a7.4 7.4 0 1 0 -14.8 0ZM508.2 1107.2a7.4 7.4 0 1 0 14.8 0a7.4 7.4 0 1 0 -14.8 0ZM511.8 1090.3a7.4 7.4 0 1 0 14.8 0a7.4 7.4 0 1 0 -14.8 0ZM515.4 1108.5a7.4 7.4 0 1 0 14.8 0a7.4 7.4 0 1 0 -14.8 0ZM519 1095.8a7.4 7.4 0 1 0 14.8 0a7.4 7.4 0 1 0 -14.8 0ZM522.6 1095a7.4 7.4 0 1 0 14.8 0a7.4 7.4 0 1 0 -14.8 0ZM526.2 1099.8a7.4 7.4 0 1 0 14.8 0a7.4 7.4 0 1 0 -14.8 0ZM529.8 1099.5a7.4 7.4 0 1 0 14.8 0a7.4 7.4 0 1 0 -14.8 0ZM533.4 1103.5a7.4 7.4 0 1 0 14.8 0a7.4 7.4 0 1 0 -14.8 0ZM537 1102.9a7.4 7.4 0 1 0 14.8 0a7.4 7.4 0 1 0 -14.8 0ZM540.6 1098.6a7.4 7.4 0 1 0 14.8 0a7.4 7.4 0 1 0 -14.8 0ZM544.2 1108.2a7.4 7.4 0 1 0 14.8 0a7.4 7.4 0 1 0 -14.8 0ZM547.8 1104.2a7.4 7.4 0 1 0 14.8 0a7.4 7.4 0 1 0 -14.8 0ZM551.4 1101.4a7.4 7.4 0 1 0 14.8 0a7.4 7.4 0 1 0 -14.8 0ZM555 1100.5a7.4 7.4 0 1 0 14.8 0a7.4 7.4 0 1 0 -14.8 0ZM558.6 1099a7.4 7.4 0 1 0 14.8 0a7.4 7.4 0 1 0 -14.8 0ZM562.2 1099.1a7.4 7.4 0 1 0 14.8 0a7.4 7.4 0 1 0 -14.8 0ZM565.8 1103.9a7.4 7.4 0 1 0 14.8 0a7.4 7.4 0 1 0 -14.8 0ZM569.4 1102.7a7.4 7.4 0 1 0 14.8 0a7.4 7.4 0 1 0 -14.8 0ZM573 1099.9a7.4 7.4 0 1 0 14.8 0a7.4 7.4 0 1 0 -14.8 0ZM576.6 1106.2a7.4 7.4 0 1 0 14.8 0a7.4 7.4 0 1 0 -14.8 0ZM580.2 1097.9a7.4 7.4 0 1 0 14.8 0a7.4 7.4 0 1 0 -14.8 0ZM583.8 1102.4a7.4 7.4 0 1 0 14.8 0a7.4 7.4 0 1 0 -14.8 0ZM587.4 1105.2a7.4 7.4 0 1 0 14.8 0a7.4 7.4 0 1 0 -14.8 0ZM591 1092.3a7.4 7.4 0 1 0 14.8 0a7.4 7.4 0 1 0 -14.8 0ZM594.6 1097.9a7.4 7.4 0 1 0 14.8 0a7.4 7.4 0 1 0 -14.8 0ZM598.2 1110.4a7.4 7.4 0 1 0 14.8 0a7.4 7.4 0 1 0 -14.8 0ZM601.8 1093.4a7.4 7.4 0 1 0 14.8 0a7.4 7.4 0 1 0 -14.8 0ZM605.4 1107.1a7.4 7.4 0 1 0 14.8 0a7.4 7.4 0 1 0 -14.8 0ZM609 1092.7a7.4 7.4 0 1 0 14.8 0a7.4 7.4 0 1 0 -14.8 0ZM612.6 1102.2a7.4 7.4 0 1 0 14.8 0a7.4 7.4 0 1 0 -14.8 0ZM616.2 1092.7a7.4 7.4 0 1 0 14.8 0a7.4 7.4 0 1 0 -14.8 0ZM619.8 1095.6a7.4 7.4 0 1 0 14.8 0a7.4 7.4 0 1 0 -14.8 0ZM623.4 1097.2a7.4 7.4 0 1 0 14.8 0a7.4 7.4 0 1 0 -14.8 0ZM627 1096a7.4 7.4 0 1 0 14.8 0a7.4 7.4 0 1 0 -14.8 0ZM630.6 1106.2a7.4 7.4 0 1 0 14.8 0a7.4 7.4 0 1 0 -14.8 0ZM634.2 1105a7.4 7.4 0 1 0 14.8 0a7.4 7.4 0 1 0 -14.8 0ZM637.8 1105.3a7.4 7.4 0 1 0 14.8 0a7.4 7.4 0 1 0 -14.8 0ZM641.4 1100.9a7.4 7.4 0 1 0 14.8 0a7.4 7.4 0 1 0 -14.8 0ZM190.6 1091.4a7.4 7.4 0 1 0 14.8 0a7.4 7.4 0 1 0 -14.8 0ZM195.3 1083.2a7.4 7.4 0 1 0 14.8 0a7.4 7.4 0 1 0 -14.8 0ZM201.1 1068.7a7.4 7.4 0 1 0 14.8 0a7.4 7.4 0 1 0 -14.8 0ZM205.1 1040.7a7.4 7.4 0 1 0 14.8 0a7.4 7.4 0 1 0 -14.8 0ZM208.9 995.6a7.4 7.4 0 1 0 14.8 0a7.4 7.4 0 1 0 -14.8 0ZM211.6 949.6a7.4 7.4 0 1 0 14.8 0a7.4 7.4 0 1 0 -14.8 0ZM216.3 884.2a7.4 7.4 0 1 0 14.8 0a7.4 7.4 0 1 0 -14.8 0ZM219.6 832.6a7.4 7.4 0 1 0 14.8 0a7.4 7.4 0 1 0 -14.8 0ZM222.9 778.4a7.4 7.4 0 1 0 14.8 0a7.4 7.4 0 1 0 -14.8 0ZM225.7 748a7.4 7.4 0 1 0 14.8 0a7.4 7.4 0 1 0 -14.8 0ZM234.3 744.1a7.4 7.4 0 1 0 14.8 0a7.4 7.4 0 1 0 -14.8 0ZM237.8 776.1a7.4 7.4 0 1 0 14.8 0a7.4 7.4 0 1 0 -14.8 0ZM241.6 820a7.4 7.4 0 1 0 14.8 0a7.4 7.4 0 1 0 -14.8 0ZM245.1 879.5a7.4 7.4 0 1 0 14.8 0a7.4 7.4 0 1 0 -14.8 0ZM247.9 915.5a7.4 7.4 0 1 0 14.8 0a7.4 7.4 0 1 0 -14.8 0ZM252.6 927.9a7.4 7.4 0 1 0 14.8 0a7.4 7.4 0 1 0 -14.8 0ZM256 978.1a7.4 7.4 0 1 0 14.8 0a7.4 7.4 0 1 0 -14.8 0ZM259.5 996.8a7.4 7.4 0 1 0 14.8 0a7.4 7.4 0 1 0 -14.8 0ZM264.2 1005a7.4 7.4 0 1 0 14.8 0a7.4 7.4 0 1 0 -14.8 0ZM268.9 1020.2a7.4 7.4 0 1 0 14.8 0a7.4 7.4 0 1 0 -14.8 0ZM272.4 1034.2a7.4 7.4 0 1 0 14.8 0a7.4 7.4 0 1 0 -14.8 0ZM278.2 1043.5a7.4 7.4 0 1 0 14.8 0a7.4 7.4 0 1 0 -14.8 0ZM279.4 1062.2a7.4 7.4 0 1 0 14.8 0a7.4 7.4 0 1 0 -14.8 0Z" fill="#ff0000"/>
<polyline points="65.4,1099.6 65.9,1099.6 66.4,1099.6 66.9,1099.6 67.4,1099.6 67.9,1099.6 68.4,1099.6 68.9,1099.6 69.4,1099.6 69.9,1099.6 70.4,1099.6 70.9,1099.6 71.4,1099.6 71.9,1099.6 72.4,1099.6 72.9,1099.6 73.4,1099.6 73.9,1099.6 74.4,1099.6 74.9,1099.6 75.4,1099.6 75.9,1099.6 76.4,1099.6 76.9,1099.6 77.4,1099.6 77.9,1099.6 78.4,1099.6 78.9,1099.6 79.4,1099.6 79.9,1099.6 80.4,1099.6 80.9,1099.6 81.4,1099.6 81.9,1099.6 82.4,1099.6 82.9,1099.6 83.4,1099.6 83.9,1099.6 84.4,1099.6 84.9,1099.6 85.4,1099.6 85.9,1099.6 86.4,1099.6 86.9,1099.6 87.4,1099.6 87.9,1099.6 88.4,1099.6 88.9,1099.6 89.4,1099.6 89.9,1099.6 90.4,1099.6 90.9,1099.6 91.4,1099.6 91.9,1099.6 92.4,1099.6 92.9,1099.6 93.4,1099.6 93.9,1099.6 94.4,1099.6 94.9,1099.6 95.4,1099.6 95.9,1099.6 96.4,1099.6 96.9,1099.6 97.4,1099.6 97.9,1099.6 98.4,1099.6 98.9,1099.6 99.4,1099.6 99.9,1099.6 100.4,1099.6 100.9,1099.6 101.4,1099.6 101.9,1099.6 102.4,1099.6 102.9,1099.6 103.4,1099.6 103.9,1099.6 104.4,1099.6 104.9,1099.6 105.4,1099.6 105.9,1099.6 106.4,1099.6 106.9,1099.6 107.4,1099.6 107.9,1099.6 108.4,1099.6 108.9,1099.6 109.4,1099.6 109.9,1099.6 110.4,1099.6 110.9,1099.6 111.4,1099.6 111.9,1099.6 112.4,1099.6 112.9,1099.6 113.4,1099.6 113.9,1099.6 114.4,1099.6 114.9,1099.6 115.4,1099.6 115.9,1099.6 116.4,1099.6 116.9,1099.6 117.4,1099.6 117.9,1099.6 118.4,1099.6 118.9,1099.6 119.4,1099.6 119.9,1099.6 120.4,1099.6 120.9,1099.6 121.4,1099.6 121.9,1099.6 122.4,1099.6 122.9,1099.6 123.4,1099.6 123.9,1099.6 124.4,1099.6 124.9,1099.6 125.4,1099.6 125.9,1099.6 126.4,1099.6 126.9,1099.6 127.4,1099.6 127.9,1099.6 128.4,1099.6 128.9,1099.6 129.4,1099.6 129.9,1099.6 130.4,1099.6 130.9,1099.6 131.4,1099.6 131.9,1099.6 132.4,1099.6 132.9,1099.6 133.4,1099.6 133.9,1099.6 134.4,1099.6 134.9,1099.6 135.4,1099.6 135.9,1099.6 136.4,1099.6 136.9,1099.6 137.4,1099.6 137.9,1099.6 138.4,1099.6 138.9,1099.6 139.4,1099.6 139.9,1099.6 140.4,1099.6 140.9,1099.6 141.4,1099.6 141.9,1099.6 142.4,1099.6 142.9,1099.6 143.4,1099.6 143.9,1099.6 144.4,1099.6 144.9,1099.6 145.4,1099.6 145.9,1099.6 146.4,1099.6 146.9,1099.6 147.4,1099.6 147.9,1099.6 148.4,1099.6 148.9,1099.6 149.4,1099.6 149.9,1099.6 150.4,1099.6 150.9,1099.6 151.4,1099.6 151.9,1099.6 152.4,1099.6 152.9,1099.6 153.4,1099.6 153.9,1099.6 154.4,1099.6 154.9,1099.6 155.4,1099.6 155.9,1099.6 156.4,1099.6 156.9,1099.6 157.4,1099.6 157.9,1099.6 158.4,1099.6 158.9,1099.6 159.4,1099.6 159.9,1099.6 160.4,1099.6 160.9,1099.6 161.4,1099.6 161.9,1099.6 162.4,1099.6 162.9,1099.6 163.4,1099.6 163.9,1099.6 164.4,1099.6 164.9,1099.6 165.4,1099.6 165.9,1099.6 166.4,1099.6 166.9,1099.6 167.4,1099.6 167.9,1099.6 168.4,1099.6 168.9,1099.6 169.4,1099.6 169.9,1099.6 170.4,1099.6 170.9,1099.6 171.4,1099.6 171.9,1099.6 172.4,1099.6 172.9,1099.6 173.4,1099.6 173.9,1099.6 174.4,1099.6 174.9,1099.6 175.4,1099.6 175.9,1099.6 176.4,1099.6 176.9,1099.6 177.4,1099.6 177.9,1099.6 178.4,1099.6 178.9,1099.6 179.4,1099.6 179.9,1099.6 180.4,1099.6 180.9,1099.6 181.4,1099.6 181.9,1099.6 182.4,1099.6 182.9,1099.6 183.4,1099.6 183.9,1099.6 184.4,1099.6 184.9,1099.6 185.4,1099.5 185.9,1099.5 186.4,1099.5 186.9,1099.5 187.4,1099.5 187.9,1099.5 188.4,1099.4 188.9,1099.4 189.4,1099.4 189.9,1099.4 190.4,1099.3 190.9,1099.3 191.4,1099.2 191.9,1099.1 192.4,1099.1 192.9,1099 193.4,1098.9 193.9,1098.8 194.4,1098.6 194.9,1098.5 195.4,1098.3 195.9,1098.1 196.4,1097.9 196.9,1097.7 197.4,1097.4 197.9,1097.1 198.4,1096.7 198.9,1096.3 199.4,1095.9 199.9,1095.4 200.4,1094.8 200.9,1094.2 201.4,1093.5 201.9,1092.8 202.4,1091.9 202.9,1091 203.4,1090 203.9,1088.9 204.4,1087.7 204.9,1086.3 205.4,1084.8 205.9,1083.2 206.4,1081.5 206.9,1079.6 207.4,1077.5 207.9,1075.3 208.4,1072.9 208.9,1070.3 209.4,1067.5 209.9,1064.5 210.4,1061.3 210.9,1057.9 211.4,1054.2 211.9,1050.4 212.4,1046.2 212.9,1041.9 213.4,1037.3 213.9,1032.4 214.4,1027.3 214.9,1021.9 215.4,1016.3 215.9,1010.4 216.4,1004.3 216.9,997.9 217.4,991.3 217.9,984.5 218.4,977.4 218.9,970.1 219.4,962.6 219.9,955 220.4,947.1 220.9,939.1 221.4,931 221.9,922.7 222.4,914.4 222.9,906 223.4,897.5 223.9,889 224.4,880.5 224.9,872.1 225.4,863.7 225.9,855.4 226.4,847.2 226.9,839.1 227.4,831.3 227.9,823.6 228.4,816.1 228.9,808.9 229.4,802 229.9,795.4 230.4,789.2 230.9,783.2 231.4,777.7 231.9,772.6 232.4,767.8 232.9,763.5 233.4,759.7 233.9,756.2 234.4,753.3 234.9,750.8 235.4,748.8 235.9,747.3 236.4,746.3 236.9,745.7 237.4,745.6 237.9,746 238.4,746.8 238.9,748.1 239.4,749.8 239.9,752 240.4,754.5 240.9,757.4 241.4,760.7 241.9,764.4 242.4,768.3 242.9,772.6 243.4,777.2 243.9,782 244.4,787 244.9,792.3 245.4,797.8 245.9,803.4 246.4,809.2 246.9,815 247.4,821 247.9,827.1 248.4,833.2 248.9,839.4 249.4,845.5 249.9,851.7 250.4,857.9 250.9,864 251.4,870.1 251.9,876.1 252.4,882 252.9,887.9 253.4,893.6 253.9,899.3 254.4,904.8 254.9,910.3 255.4,915.6 255.9,920.7 256.4,925.8 256.9,930.7 257.4,935.4 257.9,940 258.4,944.5 258.9,948.9 259.4,953.1 259.9,957.1 260.4,961.1 260.9,964.8 261.4,968.5 261.9,972 262.4,975.4 262.9,978.7 263.4,981.9 263.9,984.9 264.4,987.9 264.9,990.7 265.4,993.4 265.9,996 266.4,998.6 266.9,1001 267.4,1003.4 267.9,1005.6 268.4,1007.8 268.9,1009.9 269.4,1012 269.9,1013.9 270.4,1015.8 270.9,1017.7 271.4,1019.5 271.9,1021.2 272.4,1022.9 272.9,1024.5 273.4,1026 273.9,1027.6 274.4,1029 274.9,1030.5 275.4,1031.9 275.9,1033.2 276.4,1034.5 276.9,1035.8 277.4,1037.1 277.9,1038.3 278.4,1039.5 278.9,1040.6 279.4,1041.8 279.9,1042.9 280.4,1044 280.9,1045 281.4,1046 281.9,1047 282.4,1048 282.9,1049 283.4,1049.9 283.9,1050.8 284.4,1051.8 284.9,1052.6 285.4,1053.5 285.9,1054.3 286.4,1055.2 286.9,1056 287.4,1056.8 287.9,1057.6 288.4,1058.3 288.9,1059.1 289.4,1059.8 289.9,1060.5 290.4,1061.3 290.9,1061.9 291.4,1062.6 291.9,1063.3 292.4,1064 292.9,1064.6 293.4,1065.2 293.9,1065.9 294.4,1066.5 294.9,1067.1 295.4,1067.6 295.9,1068.2 296.4,1068.8 296.9,1069.3 297.4,1069.9 297.9,1070.4 298.4,1071 298.9,1071.5 299.4,1072 299.9,1072.5 300.4,1073 300.9,1073.4 301.4,1073.9 301.9,1074.4 302.4,1074.8 302.9,1075.3 303.4,1075.7 303.9,1076.1 304.4,1076.6 304.9,1077 305.4,1077.4 305.9,1077.8 306.4,1078.2 306.9,1078.6 307.4,1078.9 307.9,1079.3 308.4,1079.7 308.9,1080 309.4,1080.4 309.9,1080.7 310.4,1081.1 310.9,1081.4 311.4,1081.7 311.9,1082 312.4,1082.4 312.9,1082.7 313.4,1083 313.9,1083.3 314.4,1083.6 314.9,1083.9 315.4,1084.1 315.9,1084.4 316.4,1084.7 316.9,1085 317.4,1085.2 317.9,1085.5 318.4,1085.7 318.9,1086 319.4,1086.2 319.9,1086.5 320.4,1086.7 320.9,1086.9 321.4,1087.2 321.9,1087.4 322.4,1087.6 322.9,1087.8 323.4,1088 323.9,1088.2 324.4,1088.4 324.9,1088.6 325.4,1088.8 325.9,1089 326.4,1089.2 326.9,1089.4 327.4,1089.6 327.9,1089.8 328.4,1089.9 328.9,1090.1 329.4,1090.3 329.9,1090.5 330.4,1090.6 330.9,1090.8 331.4,1090.9 331.9,1091.1 332.4,1091.2 332.9,1091.4 333.4,1091.5 333.9,1091.7 334.4,1091.8 334.9,1092 335.4,1092.1 335.9,1092.2 336.4,1092.4 336.9,1092.5 337.4,1092.6 337.9,1092.8 338.4,1092.9 338.9,1093 339.4,1093.1 339.9,1093.2 340.4,1093.3 340.9,1093.5 341.4,1093.6 341.9,1093.7 342.4,1093.8 342.9,1093.9 343.4,1094 343.9,1094.1 344.4,1094.2 344.9,1094.3 345.4,1094.4 345.9,1094.5 346.4,1094.6 346.9,1094.7 347.4,1094.7 347.9,1094.8 348.4,1094.9 348.9,1095 349.4,1095.1 349.9,1095.2 350.4,1095.2 350.9,1095.3 351.4,1095.4 351.9,1095.5 352.4,1095.6 352.9,1095.6 353.4,1095.7 353.9,1095.8 354.4,1095.8 354.9,1095.9 355.4,1096 355.9,1096 356.4,1096.1 356.9,1096.2 357.4,1096.2 357.9,1096.3 358.4,1096.3 358.9,1096.4 359.4,1096.5 359.9,1096.5 360.4,1096.6 360.9,1096.6 361.4,1096.7 361.9,1096.7 362.4,1096.8 362.9,1096.8 363.4,1096.9 363.9,1096.9 364.4,1097 364.9,1097 365.4,1097.1 365.9,1097.1 366.4,1097.2 366.9,1097.2 367.4,1097.2 367.9,1097.3 368.4,1097.3 368.9,1097.4 369.4,1097.4 369.9,1097.5 370.4,1097.5 370.9,1097.5 371.4,1097.6 371.9,1097.6 372.4,1097.6 372.9,1097.7 373.4,1097.7 373.9,1097.7 374.4,1097.8 374.9,1097.8 375.4,1097.8 375.9,1097.9 376.4,1097.9 376.9,1097.9 377.4,1098 377.9,1098 378.4,1098 378.9,1098.1 379.4,1098.1 379.9,1098.1 380.4,1098.1 380.9,1098.2 381.4,1098.2 381.9,1098.2 382.4,1098.2 382.9,1098.3 383.4,1098.3 383.9,1098.3 384.4,1098.3 384.9,1098.4 385.4,1098.4 385.9,1098.4 386.4,1098.4 386.9,1098.4 387.4,1098.5 387.9,1098.5 388.4,1098.5 388.9,1098.5 389.4,1098.5 389.9,1098.6 390.4,1098.6 390.9,1098.6 391.4,1098.6 391.9,1098.6 392.4,1098.6 392.9,1098.7 393.4,1098.7 393.9,1098.7 394.4,1098.7 394.9,1098.7 395.4,1098.7 395.9,1098.8 396.4,1098.8 396.9,1098.8 397.4,1098.8 397.9,1098.8 398.4,1098.8 398.9,1098.8 399.4,1098.9 399.9,1098.9 400.4,1098.9 400.9,1098.9 401.4,1098.9 401.9,1098.9 402.4,1098.9 402.9,1099 403.4,1099 403.9,1099 404.4,1099 404.9,1099 405.4,1099 405.9,1099 406.4,1099 406.9,1099 407.4,1099 407.9,1099.1 408.4,1099.1 408.9,1099.1 409.4,1099.1 409.9,1099.1 410.4,1099.1 410.9,1099.1 411.4,1099.1 411.9,1099.1 412.4,1099.1 412.9,1099.1 413.4,1099.2 413.9,1099.2 414.4,1099.2 414.9,1099.2 415.4,1099.2 415.9,1099.2 416.4,1099.2 416.9,1099.2 417.4,1099.2 417.9,1099.2 418.4,1099.2 418.9,1099.2 419.4,1099.2 419.9,1099.2 420.4,1099.3 420.9,1099.3 421.4,1099.3 421.9,1099.3 422.4,1099.3 422.9,1099.3 423.4,1099.3 423.9,1099.3 424.4,1099.3 424.9,1099.3 425.4,1099.3 425.9,1099.3 426.4,1099.3 426.9,1099.3 427.4,1099.3 427.9,1099.3 428.4,1099.3 428.9,1099.3 429.4,1099.4 429.9,1099.4 430.4,1099.4 430.9,1099.4 431.4,1099.4 431.9,1099.4 432.4,1099.4 432.9,1099.4 433.4,1099.4 433.9,1099.4 434.4,1099.4 434.9,1099.4 435.4,1099.4 435.9,1099.4 436.4,1099.4 436.9,1099.4 437.4,1099.4 437.9,1099.4 438.4,1099.4 438.9,1099.4 439.4,1099.4 439.9,1099.4 440.4,1099.4 440.9,1099.4 441.4,1099.4 441.9,1099.4 442.4,1099.4 442.9,1099.4 443.4,1099.5 443.9,1099.5 444.4,1099.5 444.9,1099.5 445.4,1099.5 445.9,1099.5 446.4,1099.5 446.9,1099.5 447.4,1099.5 447.9,1099.5 448.4,1099.5 448.9,1099.5 449.4,1099.5 449.9,1099.5 450.4,1099.5 450.9,1099.5 451.4,1099.5 451.9,1099.5 452.4,1099.5 452.9,1099.5 453.4,1099.5 453.9,1099.5 454.4,1099.5 454.9,1099.5 455.4,1099.5 455.9,1099.5 456.4,1099.5 456.9,1099.5 457.4,1099.5 457.9,1099.5 458.4,1099.5 458.9,1099.5 459.4,1099.5 459.9,1099.5 460.4,1099.5 460.9,1099.5 461.4,1099.5 461.9,1099.5 462.4,1099.5 462.9,1099.5 463.4,1099.5 463.9,1099.5 464.4,1099.5 464.9,1099.5 465.4,1099.5 465.9,1099.5 466.4,1099.5 466.9,1099.5 467.4,1099.5 467.9,1099.5 468.4,1099.5 468.9,1099.5 469.4,1099.5 469.9,1099.5 470.4,1099.5 470.9,1099.5 471.4,1099.5 471.9,1099.5 472.4,1099.5 472.9,1099.5 473.4,1099.5 473.9,1099.6 474.4,1099.6 474.9,1099.6 475.4,1099.6 475.9,1099.6 476.4,1099.6 476.9,1099.6 477.4,1099.6 477.9,1099.6 478.4,1099.6 478.9,1099.6 479.4,1099.6 479.9,1099.6 480.4,1099.6 480.9,1099.6 481.4,1099.6 481.9,1099.6 482.4,1099.6 482.9,1099.6 483.4,1099.6 483.9,1099.6 484.4,1099.6 484.9,1099.6 485.4,1099.6 485.9,1099.6 486.4,1099.6 486.9,1099.6 487.4,1099.6 487.9,1099.6 488.4,1099.6 488.9,1099.6 489.4,1099.6 489.9,1099.6 490.4,1099.6 490.9,1099.6 491.4,1099.6 491.9,1099.6 492.4,1099.6 492.9,1099.6 493.4,1099.6 493.9,1099.6 494.4,1099.6 494.9,1099.6 495.4,1099.6 495.9,1099.6 496.4,1099.6 496.9,1099.6 497.4,1099.6 497.9,1099.6 498.4,1099.6 498.9,1099.6 499.4,1099.6 499.9,1099.6 500.4,1099.6 500.9,1099.6 501.4,1099.6 501.9,1099.6 502.4,1099.6 502.9,1099.6 503.4,1099.6 503.9,1099.6 504.4,1099.6 504.9,1099.6 505.4,1099.6 505.9,1099.6 506.4,1099.6 506.9,1099.6 507.4,1099.6 507.9,1099.6 508.4,1099.6 508.9,1099.6 509.4,1099.6 509.9,1099.6 510.4,1099.6 510.9,1099.6 511.4,1099.6 511.9,1099.6 512.4,1099.6 512.9,1099.6 513.4,1099.6 513.9,1099.6 514.4,1099.6 514.9,1099.6 515.4,1099.6 515.9,1099.6 516.4,1099.6 516.9,1099.6 517.4,1099.6 517.9,1099.6 518.4,1099.6 518.9,1099.6 519.4,1099.6 519.9,1099.6 520.4,1099.6 520.9,1099.6 521.4,1099.6 521.9,1099.6 522.4,1099.6 522.9,1099.6 523.4,1099.6 523.9,1099.6 524.4,1099.6 524.9,1099.6 525.4,1099.6 525.9,1099.6 526.4,1099.6 526.9,1099.6 527.4,1099.6 527.9,1099.6 528.4,1099.6 528.9,1099.6 529.4,1099.6 529.9,1099.6 530.4,1099.6 530.9,1099.6 531.4,1099.6 531.9,1099.6 532.4,1099.6 532.9,1099.6 533.4,1099.6 533.9,1099.6 534.4,1099.6 534.9,1099.6 535.4,1099.6 535.9,1099.6 536.4,1099.6 536.9,1099.6 537.4,1099.6 537.9,1099.6 538.4,1099.6 538.9,1099.6 539.4,1099.6 539.9,1099.6 540.4,1099.6 540.9,1099.6 541.4,1099.6 541.9,1099.6 542.4,1099.6 542.9,1099.6 543.4,1099.6 543.9,1099.6 544.4,1099.6 544.9,1099.6 545.4,1099.6 545.9,1099.6 546.4,1099.6 546.9,1099.6 547.4,1099.6 547.9,1099.6 548.4,1099.6 548.9,1099.6 549.4,1099.6 549.9,1099.6 550.4,1099.6 550.9,1099.6 551.4,1099.6 551.9,1099.6 552.4,1099.6 552.9,1099.6 553.4,1099.6 553.9,1099.6 554.4,1099.6 554.9,1099.6 555.4,1099.6 555.9,1099.6 556.4,1099.6 556.9,1099.6 557.4,1099.6 557.9,1099.6 558.4,1099.6 558.9,1099.6 559.4,1099.6 559.9,1099.6 560.4,1099.6 560.9,1099.6 561.4,1099.6 561.9,1099.6 562.4,1099.6 562.9,1099.6 563.4,1099.6 563.9,1099.6 564.4,1099.6 564.9,1099.6 565.4,1099.6 565.9,1099.6 566.4,1099.6 566.9,1099.6 567.4,1099.6 567.9,1099.6 568.4,1099.6 568.9,1099.6 569.4,1099.6 569.9,1099.6 570.4,1099.6 570.9,1099.6 571.4,1099.6 571.9,1099.6 572.4,1099.6 572.9,1099.6 573.4,1099.6 573.9,1099.6 574.4,1099.6 574.9,1099.6 575.4,1099.6 575.9,1099.6 576.4,1099.6 576.9,1099.6 577.4,1099.6 577.9,1099.6 578.4,1099.6 578.9,1099.6 579.4,1099.6 579.9,1099.6 580.4,1099.6 580.9,1099.6 581.4,1099.6 581.9,1099.6 582.4,1099.6 582.9,1099.6 583.4,1099.6 583.9,1099.6 584.4,1099.6 584.9,1099.6 585.4,1099.6 585.9,1099.6 586.4,1099.6 586.9,1099.6 587.4,1099.6 587.9,1099.6 588.4,1099.6 588.9,1099.6 589.4,1099.6 589.9,1099.6 590.4,1099.6 590.9,1099.6 591.4,1099.6 591.9,1099.6 592.4,1099.6 592.9,1099.6 593.4,1099.6 593.9,1099.6 594.4,1099.6 594.9,1099.6 595.4,1099.6 595.9,1099.6 596.4,1099.6 596.9,1099.6 597.4,1099.6 597.9,1099.6 598.4,1099.6 598.9,1099.6 599.4,1099.6 599.9,1099.6 600.4,1099.6 600.9,1099.6 601.4,1099.6 601.9,1099.6 602.4,1099.6 602.9,1099.6 603.4,1099.6 603.9,1099.6 604.4,1099.6 604.9,1099.6 605.4,1099.6 605.9,1099.6 606.4,1099.6 606.9,1099.6 607.4,1099.6 607.9,1099.6 608.4,1099.6 608.9,1099.6 609.4,1099.6 609.9,1099.6 610.4,1099.6 610.9,1099.6 611.4,1099.6 611.9,1099.6 612.4,1099.6 612.9,1099.6 613.4,1099.6 613.9,1099.6 614.4,1099.6 614.9,1099.6 615.4,1099.6 615.9,1099.6 616.4,1099.6 616.9,1099.6 617.4,1099.6 617.9,1099.6 618.4,1099.6 618.9,1099.6 619.4,1099.6 619.9,1099.6 620.4,1099.6 620.9,1099.6 621.4,1099.6 621.9,1099.6 622.4,1099.6 622.9,1099.6 623.4,1099.6 623.9,1099.6 624.4,1099.6 624.9,1099.6 625.4,1099.6 625.9,1099.6 626.4,1099.6 626.9,1099.6 627.4,1099.6 627.9,1099.6 628.4,1099.6 628.9,1099.6 629.4,1099.6 629.9,1099.6 630.4,1099.6 630.9,1099.6 631.4,1099.6 631.9,1099.6 632.4,1099.6 632.9,1099.6 633.4,1099.6 633.9,1099.6 634.4,1099.6 634.9,1099.6 635.4,1099.6 635.9,1099.6 636.4,1099.6 636.9,1099.6 637.4,1099.6 637.9,1099.6 638.4,1099.6 638.9,1099.6 639.4,1099.6 639.9,1099.6 640.4,1099.6 640.9,1099.6 641.4,1099.6 641.9,1099.6 642.4,1099.6 642.9,1099.6 643.4,1099.6 643.9,1099.6 644.4,1099.6 644.9,1099.6 645.4,1099.6 645.9,1099.6 646.4,1099.6 646.9,1099.6 647.4,1099.6" fill="none" stroke="#000" stroke-width="4.5" stroke-linejoin="round" />
<polyline points="309,1032.2 309.5,1032.6 310,1033 310.5,1033.4 311,1033.8 311.5,1034.2 312,1034.6 312.5,1034.9 313,1035.3 313.5,1035.7 314,1036.1 314.5,1036.5 315,1036.8 315.5,1037.2 316,1037.6 316.5,1038 317,1038.3 317.5,1038.7 318,1039.1 318.5,1039.4 319,1039.8 319.5,1040.2 320,1040.5 320.5,1040.9 321,1041.2 321.5,1041.6 322,1041.9 322.5,1042.3 323,1042.6 323.5,1043 324,1043.3 324.5,1043.7 325,1044 325.5,1044.3 326,1044.7 326.5,1045 327,1045.3 327.5,1045.7 328,1046 328.5,1046.3 329,1046.6 329.5,1047 330,1047.3 330.5,1047.6 331,1047.9 331.5,1048.2 332,1048.5 332.5,1048.8 333,1049.1 333.5,1049.4 334,1049.7 334.5,1050 335,1050.3 335.5,1050.6 336,1050.9 336.5,1051.1 337,1051.4 337.5,1051.7 338,1052 338.5,1052.2 339,1052.5 339.5,1052.7 340,1053 340.5,1053.3 341,1053.5 341.5,1053.8 342,1054 342.5,1054.2 343,1054.5 343.5,1054.7 344,1054.9 344.5,1055.2 345,1055.4 345.5,1055.6 346,1055.8 346.5,1056 347,1056.3 347.5,1056.5 348,1056.7 348.5,1056.9 349,1057.1 349.5,1057.3 350,1057.5 350.5,1057.7 351,1057.9 351.5,1058.1 352,1058.3 352.5,1058.5 353,1058.6 353.5,1058.8 354,1059 354.5,1059.2 355,1059.4 355.5,1059.6 356,1059.8 356.5,1059.9 357,1060.1 357.5,1060.3 358,1060.5 358.5,1060.7 359,1060.8 359.5,1061 360,1061.2 360.5,1061.4 361,1061.6 361.5,1061.7 362,1061.9 362.5,1062.1 363,1062.3 363.5,1062.5 364,1062.7 364.5,1062.9 365,1063 365.5,1063.2 366,1063.4 366.5,1063.6 367,1063.8 367.5,1064 368,1064.1 368.5,1064.3 369,1064.5 369.5,1064.7 370,1064.9 370.5,1065 371,1065.2 371.5,1065.4 372,1065.6 372.5,1065.8 373,1065.9 373.5,1066.1 374,1066.3 374.5,1066.5 375,1066.6 375.5,1066.8 376,1067 376.5,1067.2 377,1067.3 377.5,1067.5 378,1067.7 378.5,1067.9 379,1068 379.5,1068.2 380,1068.4 380.5,1068.5 381,1068.7 381.5,1068.9 382,1069.1 382.5,1069.2 383,1069.4 383.5,1069.6 384,1069.7 384.5,1069.9 385,1070.1 385.5,1070.2 386,1070.4 386.5,1070.6 387,1070.7 387.5,1070.9 388,1071 388.5,1071.2 389,1071.4 389.5,1071.5 390,1071.7 390.5,1071.8 391,1072 391.5,1072.2 392,1072.3 392.5,1072.5 393,1072.6 393.5,1072.8 394,1072.9 394.5,1073.1 395,1073.3 395.5,1073.4 396,1073.6 396.5,1073.7 397,1073.9 397.5,1074 398,1074.2 398.5,1074.3 399,1074.5 399.5,1074.6 400,1074.8 400.5,1074.9 401,1075.1 401.5,1075.2 402,1075.4 402.5,1075.5 403,1075.7 403.5,1075.8 404,1076 404.5,1076.1 405,1076.2 405.5,1076.4 406,1076.5 406.5,1076.7 407,1076.8 407.5,1077 408,1077.1 408.5,1077.3 409,1077.4 409.5,1077.5 410,1077.7 410.5,1077.8 411,1078 411.5,1078.1 412,1078.3 412.5,1078.4 413,1078.5 413.5,1078.7 414,1078.8 414.5,1079 415,1079.1 415.5,1079.2 416,1079.4 416.5,1079.5 417,1079.6 417.5,1079.8 418,1079.9 418.5,1080.1 419,1080.2 419.5,1080.3 420,1080.5 420.5,1080.6 421,1080.7 421.5,1080.9 422,1081 422.5,1081.1 423,1081.3 423.5,1081.4 424,1081.5 424.5,1081.7 425,1081.8 425.5,1082 426,1082.1 426.5,1082.2 427,1082.4 427.5,1082.5 428,1082.7 428.5,1082.8 429,1082.9 429.5,1083.1 430,1083.2 430.5,1083.4 431,1083.5 431.5,1083.6 432,1083.8 432.5,1083.9 433,1084 433.5,1084.2 434,1084.3 434.5,1084.5 435,1084.6 435.5,1084.7 436,1084.9 436.5,1085 437,1085.1 437.5,1085.3 438,1085.4 438.5,1085.5 439,1085.7 439.5,1085.8 440,1085.9 440.5,1086.1 441,1086.2 441.5,1086.3 442,1086.4 442.5,1086.6 443,1086.7 443.5,1086.8 444,1086.9 444.5,1087.1 445,1087.2 445.5,1087.3 446,1087.4 446.5,1087.5 447,1087.6 447.5,1087.7 448,1087.9 448.5,1088 449,1088.1 449.5,1088.2 450,1088.3 450.5,1088.4 451,1088.5 451.5,1088.6 452,1088.6 452.5,1088.7 453,1088.8 453.5,1088.9 454,1089 454.5,1089.1 455,1089.2 455.5,1089.2 456,1089.3 456.5,1089.4 457,1089.5 457.5,1089.6 458,1089.6 458.5,1089.7 459,1089.8 459.5,1089.8 460,1089.9 460.5,1090 461,1090.1 461.5,1090.1 462,1090.2 462.5,1090.3 463,1090.3 463.5,1090.4 464,1090.5 464.5,1090.5 465,1090.6 465.5,1090.6 466,1090.7 466.5,1090.8 467,1090.8 467.5,1090.9 468,1090.9 468.5,1091 469,1091.1 469.5,1091.1 470,1091.2 470.5,1091.2 471,1091.3 471.5,1091.3 472,1091.4 472.5,1091.5 473,1091.5 473.5,1091.6 474,1091.6 474.5,1091.7 475,1091.7 475.5,1091.8 476,1091.8 476.5,1091.9 477,1092 477.5,1092 478,1092.1 478.5,1092.1 479,1092.2 479.5,1092.2 480,1092.3 480.5,1092.3 481,1092.4 481.5,1092.5 482,1092.5 482.5,1092.6 483,1092.6 483.5,1092.7 484,1092.7 484.5,1092.8 485,1092.8 485.5,1092.9 486,1093 486.5,1093 487,1093.1 487.5,1093.1 488,1093.2 488.5,1093.2 489,1093.3 489.5,1093.3 490,1093.4 490.5,1093.4 491,1093.5 491.5,1093.5 492,1093.6 492.5,1093.7 493,1093.7 493.5,1093.8 494,1093.8 494.5,1093.9 495,1093.9 495.5,1094 496,1094 496.5,1094.1 497,1094.1 497.5,1094.2 498,1094.2 498.5,1094.3 499,1094.3 499.5,1094.4 500,1094.4 500.5,1094.5 501,1094.5 501.5,1094.6 502,1094.6 502.5,1094.7 503,1094.7 503.5,1094.8 504,1094.8 504.5,1094.9 505,1094.9 505.5,1095 506,1095 506.5,1095.1 507,1095.1 507.5,1095.2 508,1095.2 508.5,1095.3 509,1095.3 509.5,1095.4 510,1095.4 510.5,1095.5 511,1095.5 511.5,1095.5 512,1095.6 512.5,1095.6 513,1095.7 513.5,1095.7 514,1095.8 514.5,1095.8 515,1095.9 515.5,1095.9 516,1096 516.5,1096 517,1096 517.5,1096.1 518,1096.1 518.5,1096.2 519,1096.2 519.5,1096.3 520,1096.3 520.5,1096.3 521,1096.4 521.5,1096.4 522,1096.5 522.5,1096.5 523,1096.5 523.5,1096.6 524,1096.6 524.5,1096.7 525,1096.7 525.5,1096.7 526,1096.8 526.5,1096.8 527,1096.9 527.5,1096.9 528,1096.9 528.5,1097 529,1097 529.5,1097 530,1097.1 530.5,1097.1 531,1097.2 531.5,1097.2 532,1097.2 532.5,1097.3 533,1097.3 533.5,1097.3 534,1097.4 534.5,1097.4 535,1097.5 535.5,1097.5 536,1097.5 536.5,1097.6 537,1097.6 537.5,1097.6 538,1097.7 538.5,1097.7 539,1097.7 539.5,1097.8 540,1097.8 540.5,1097.9 541,1097.9 541.5,1097.9 542,1098 542.5,1098 543,1098 543.5,1098.1 544,1098.1 544.5,1098.1 545,1098.2 545.5,1098.2 546,1098.2 546.5,1098.3 547,1098.3 547.5,1098.3 548,1098.4 548.5,1098.4 549,1098.4 549.5,1098.5 550,1098.5 550.5,1098.5 551,1098.6 551.5,1098.6 552,1098.6 552.5,1098.6 553,1098.7 553.5,1098.7 554,1098.7 554.5,1098.8 555,1098.8 555.5,1098.8 556,1098.9 556.5,1098.9 557,1098.9 557.5,1098.9 558,1099 558.5,1099 559,1099 559.5,1099.1 560,1099.1 560.5,1099.1 561,1099.1 561.5,1099.2 562,1099.2 562.5,1099.2 563,1099.3 563.5,1099.3 564,1099.3 564.5,1099.3 565,1099.4 565.5,1099.4 566,1099.4 566.5,1099.4 567,1099.5 567.5,1099.5 568,1099.5 568.5,1099.5 569,1099.6 569.5,1099.6 570,1099.6 570.5,1099.6 571,1099.6 571.5,1099.7 572,1099.7 572.5,1099.7 573,1099.7 573.5,1099.8 574,1099.8 574.5,1099.8 575,1099.8 575.5,1099.9 576,1099.9 576.5,1099.9 577,1099.9 577.5,1100 578,1100 578.5,1100 579,1100 579.5,1100 580,1100.1 580.5,1100.1 581,1100.1 581.5,1100.1 582,1100.2 582.5,1100.2 583,1100.2 583.5,1100.2 584,1100.2 584.5,1100.3 585,1100.3 585.5,1100.3 586,1100.3 586.5,1100.4 587,1100.4 587.5,1100.4 588,1100.4 588.5,1100.4 589,1100.5 589.5,1100.5 590,1100.5 590.5,1100.5 591,1100.6 591.5,1100.6 592,1100.6 592.5,1100.6 593,1100.6 593.5,1100.7 594,1100.7 594.5,1100.7 595,1100.7 595.5,1100.7 596,1100.8 596.5,1100.8 597,1100.8 597.5,1100.8 598,1100.8 598.5,1100.8 599,1100.9 599.5,1100.9 600,1100.9 600.5,1100.9 601,1100.9 601.5,1100.9 602,1101 602.5,1101 603,1101 603.5,1101 604,1101 604.5,1101 605,1101.1 605.5,1101.1 606,1101.1 606.5,1101.1 607,1101.1 607.5,1101.1 608,1101.1 608.5,1101.1 609,1101.2 609.5,1101.2 610,1101.2 610.5,1101.2 611,1101.2 611.5,1101.2 612,1101.2 612.5,1101.2 613,1101.2 613.5,1101.2 614,1101.3 614.5,1101.3 615,1101.3 615.5,1101.3 616,1101.3 616.5,1101.3 617,1101.3 617.5,1101.3 618,1101.3 618.5,1101.3 619,1101.3 619.5,1101.3 620,1101.3 620.5,1101.3 621,1101.3 621.5,1101.4 622,1101.4 622.5,1101.4 623,1101.4 623.5,1101.4 624,1101.4 624.5,1101.4 625,1101.4 625.5,1101.4 626,1101.4 626.5,1101.4 627,1101.4 627.5,1101.4 628,1101.4 628.5,1101.4 629,1101.4 629.5,1101.4 630,1101.4 630.5,1101.4 631,1101.4 631.5,1101.5 632,1101.5 632.5,1101.5 633,1101.5 633.5,1101.5 634,1101.5 634.5,1101.5 635,1101.5 635.5,1101.5 636,1101.5 636.5,1101.5 637,1101.5 637.5,1101.5 638,1101.5 638.5,1101.5 639,1101.5 639.5,1101.5 640,1101.5 640.5,1101.5 641,1101.5 641.5,1101.5 642,1101.5 642.5,1101.5 643,1101.5 643.5,1101.5 644,1101.5 644.5,1101.6 645,1101.6 645.5,1101.6 646,1101.6 646.5,1101.6 647,1101.6 647.5,1101.6" fill="none" stroke="#c3c3c3" stroke-width="5" stroke-linejoin="round" stroke-dasharray="5.5 11" stroke-linecap="round"/>
<rect x="55.6" y="700.2" width="603.3" height="425.9" fill="none" stroke="#000" stroke-width="1.5"/>
<line x1="41" y1="700.4" x2="55.6" y2="700.4" stroke="#000" stroke-width="1.5" />
<line x1="47.9" y1="767.3" x2="55.6" y2="767.3" stroke="#000" stroke-width="1.5" />
<line x1="41" y1="833" x2="55.6" y2="833" stroke="#000" stroke-width="1.5" />
<line x1="47.9" y1="899.6" x2="55.6" y2="899.6" stroke="#000" stroke-width="1.5" />
<line x1="41" y1="966.7" x2="55.6" y2="966.7" stroke="#000" stroke-width="1.5" />
<line x1="47.9" y1="1032.5" x2="55.6" y2="1032.5" stroke="#000" stroke-width="1.5" />
<line x1="41" y1="1099.6" x2="55.6" y2="1099.6" stroke="#000" stroke-width="1.5" />
<line x1="67.3" y1="1126.1" x2="67.3" y2="1150" stroke="#000" stroke-width="1.5" />
<line x1="124.2" y1="1126.1" x2="124.2" y2="1138.5" stroke="#000" stroke-width="1.5" />
<line x1="181.1" y1="1126.1" x2="181.1" y2="1150" stroke="#000" stroke-width="1.5" />
<line x1="237.9" y1="1126.1" x2="237.9" y2="1138.5" stroke="#000" stroke-width="1.5" />
<line x1="294.8" y1="1126.1" x2="294.8" y2="1150" stroke="#000" stroke-width="1.5" />
<line x1="351.7" y1="1126.1" x2="351.7" y2="1138.5" stroke="#000" stroke-width="1.5" />
<line x1="408.6" y1="1126.1" x2="408.6" y2="1150" stroke="#000" stroke-width="1.5" />
<line x1="465.4" y1="1126.1" x2="465.4" y2="1138.5" stroke="#000" stroke-width="1.5" />
<line x1="522.3" y1="1126.1" x2="522.3" y2="1150" stroke="#000" stroke-width="1.5" />
<line x1="579.2" y1="1126.1" x2="579.2" y2="1138.5" stroke="#000" stroke-width="1.5" />
<line x1="636" y1="1126.1" x2="636" y2="1150" stroke="#000" stroke-width="1.5" />
<text transform="translate(67.3,1180) scale(1.06,1)" font-size="27.5" text-anchor="middle" fill="#000" font-weight="normal" >0</text>
<text transform="translate(181.1,1180) scale(1.06,1)" font-size="27.5" text-anchor="middle" fill="#000" font-weight="normal" >1</text>
<text transform="translate(294.8,1180) scale(1.06,1)" font-size="27.5" text-anchor="middle" fill="#000" font-weight="normal" >2</text>
<text transform="translate(408.6,1180) scale(1.06,1)" font-size="27.5" text-anchor="middle" fill="#000" font-weight="normal" >3</text>
<text transform="translate(522.3,1180) scale(1.06,1)" font-size="27.5" text-anchor="middle" fill="#000" font-weight="normal" >4</text>
<text transform="translate(636,1180) scale(1.06,1)" font-size="27.5" text-anchor="middle" fill="#000" font-weight="normal" >5</text>
<text transform="translate(353.6,1215.4) scale(0.985,1)" font-size="29" text-anchor="middle" fill="#000" font-weight="normal" >Time (ns)</text>
<text transform="translate(22.2,897.3) rotate(-90)" font-size="28.6" text-anchor="middle">Intensity (a.u.)</text>
<text transform="translate(451.2,801.5) scale(0.985,1)" font-size="29" text-anchor="middle" fill="#000" font-weight="normal" >320 ps pulse</text>
<line x1="432.8" y1="859.9" x2="284.6" y2="847.9" stroke="#000" stroke-width="1.6" stroke-linecap="round"/>
<path d="M269.6 846.7L286.1 841L285 855Z" fill="#000"/>
<text x="447" y="867.3" font-size="29" text-anchor="start" fill="#000" font-weight="normal" >L</text>
<line x1="436.6" y1="920.6" x2="307.2" y2="920.6" stroke="#e3121b" stroke-width="3.6" stroke-linecap="round"/>
<path d="M290.5 920.6L308.2 911.8L308.2 929.4Z" fill="#e3121b"/>
<text x="445" y="928.6" font-size="29" text-anchor="start" fill="#e3121b" font-weight="normal" >R</text>
<line x1="433.2" y1="987" x2="364.6" y2="1012.6" stroke="#1a16d8" stroke-width="3.0" stroke-linecap="round"/>
<path d="M350.1 1018L362.8 1004.9L368.3 1019.5Z" fill="#1a16d8"/>
<text x="442.6" y="998.8" font-size="29" text-anchor="start" fill="#1a16d8" font-weight="normal" >S</text>
<text transform="translate(-0.8,1270) scale(0.98,1)" font-size="35" text-anchor="start" fill="#000" font-weight="bold" >d</text>
<path d="M86 1587V1557H88.8V1541.5H91.6V1513.5H94.4V1477.9H97.2V1385.6H100V1404.6H102.8V1481.1H105.6V1538.4H108.4V1545.2H111.2V1568H114V1554.6H116.8V1559.9H119.6V1553.5H122.4V1539H125.2V1507H128V1424.9H130.8V1372.8H133.6V1396.5H136.4V1506.2H139.2V1525.2H142V1563H144.8V1560.1H147.6V1559.6H150.4V1567.1H153.2V1564.6H156V1547.5H158.8V1506.7H161.6V1427.8H164.4V1397.3H167.2V1471.2H170V1507.5H172.8V1545.3H175.6V1562.5H178.4V1563.2H181.2V1559.5H184V1558H186.8V1558.2H189.6V1536.4H192.4V1512.1H195.2V1469.1H198V1439.4H200.8V1508.5H203.6V1534.6H206.4V1563.3H209.2V1561.4H212V1565H214.8V1573.9H217.6V1560.2H220.4V1538.4H223.2V1518.8H226V1410.2H228.8V1364.6H231.6V1385.8H234.4V1476.6H237.2V1522.2H240V1555.4H242.8V1558.2H245.6V1565H248.4V1568.5H251.2V1562.8H254V1548.9H256.8V1514.5H259.6V1457.5H262.4V1439.4H265.2V1477H268V1533.2H270.8V1543.5H273.6V1556.9H276.4V1564.5H279.2V1567.9H282V1566.6H284.8V1565.9H287.6V1558.5H290.4V1526.4H293.2V1495.1H296V1480.2H298.8V1538.9H301.6V1543.4H304.4V1554.5H307.2V1572.3H310V1572.8H312.8V1572.5H315.6V1567H318.4V1562.7H321.2V1548.8H324V1550.7H326.8V1487.2H329.6V1499.6H332.4V1535.9H335.2V1554.2H338V1562.2H340.8V1574.2H343.6V1575.3H346.4V1570.8H349.2V1570.6H352V1571H354.8V1572.4H357.6V1571H360.4V1573H363.2V1570.3H366V1576.2H368.8V1581.4H371.6V1573.1H374.4V1579.8H377.2V1581.6H380V1575.9H382.8V1568.2H385.6V1558.3H388.4V1549.4H391.2V1507.7H394V1491.9H396.8V1516.6H399.6V1532.9H402.4V1561H405.2V1564.5H408V1574.2H410.8V1563.6H413.6V1566.6H416.4V1570.8H419.2V1552.8H422V1520.6H424.8V1479.3H427.6V1456.9H430.4V1514.9H433.2V1542.6H436V1551.6H438.8V1559.7H441.6V1565.9H444.4V1571.4H447.2V1560.7H450V1571.8H452.8V1550.7H455.6V1486.3H458.4V1427H461.2V1449.3H464V1496.7H466.8V1526.8H469.6V1547.3H472.4V1551.6H475.2V1565H478V1561.8H480.8V1559H483.6V1547.7H486.4V1521.4H489.2V1456.2H492V1367H494.8V1400.5H497.6V1495.1H500.4V1555.5H503.2V1556.2H506V1560.2H508.8V1556.5H511.6V1553.2H514.4V1555.5H517.2V1541H520V1462.3H522.8V1397.7H525.6V1371.7H528.4V1387.3H531.2V1523.4H534V1533.1H536.8V1548.3H539.6V1557.7H542.4V1560.4H545.2V1552.1H548V1549.6H550.8V1549.6H553.6V1490.8H556.4V1393.1H559.2V1374.2H562V1480.8H564.8V1505.9H567.6V1541H570.4V1555.5H573.2V1556.5H576V1560.4H578.8V1557.3H581.6V1546.9H584.4V1521.6H587.2V1450H590V1350.6H592.8V1374.6H595.6V1504.8H598.4V1514.7H601.2V1548.2H604V1554.3H606.8V1562.2H609.6V1562.2H612.4V1548.1H615.2V1539.7H618V1521.8H620.8V1467.2H623.6V1365.5H626.4V1402.2H629.2V1515.1H632V1587Z" fill="#000"/>
<polyline points="85.5,1369.9 88.4,1379.3 94.3,1344.8 96,1411.4 99.5,1360.6 105.4,1342.5 110.6,1385.1 113.5,1350.1 118.2,1347.7 124.6,1303.4 127,1390.4 129.9,1355.9 134,1351.2 140.4,1319.7 142.7,1375.8 145.6,1339 149.7,1386.3 153.8,1347.7 157.2,1379.3 160.1,1355.2 162.3,1375.6 164.9,1335.5 168.9,1351.5 170.8,1404.1 173.7,1361.8 176.9,1370.5 181.3,1388 184.2,1341.3 187.1,1382.2 190.8,1376.4 194.4,1379.3 197.3,1345.7 200.3,1367.6 203.2,1326.7 206.1,1369 209.7,1361.8 212.7,1331.1 217,1323.1 220,1384.4 224.3,1329.6 228,1347.2 230.9,1350.1 234.6,1373.4 238.2,1318 241.1,1379.3 244,1339.9 247,1355.9 251.4,1341.3 257.3,1345.9 261,1376.6 264.6,1380.2 269,1380.2 271.9,1358.3 274.1,1375.1 279.9,1328.4 285,1388.2 288,1338.6 290.9,1381 296,1300.7 301.1,1353.2 304.7,1353.2 309.9,1293.4 316.4,1378 320.8,1367.8 325.2,1397 331,1370.7 334.7,1379.5 337.6,1401.4 338.8,1447.5 342.5,1453.8 345,1467.5 346.9,1498.8 350.6,1517.5 353.8,1531.3 356.9,1531.3 358.1,1555 359.4,1560 362.5,1537.5 367.5,1513.8 371.3,1507.5 373.1,1498.8 375,1461.3 376.9,1417.5 378.1,1406.3 381.3,1405 383.7,1421.5 386.6,1384.4 388.8,1385 394.5,1420 399.7,1366.1 402.6,1386.6 404.8,1339.9 408.5,1355.9 412.8,1328.9 415.8,1374.9 418.7,1326.7 423.8,1330.4 426.7,1373.4 429.6,1347.9 434.7,1339.1 439.1,1386.6 445.7,1355.9 448.6,1408.5 451.5,1321.6 453.7,1388 457.4,1348.6 462.5,1408.5 473.4,1358.8 476.4,1388 480,1360.3 484.5,1344.2 488.9,1355.9 494.7,1385.1 497.6,1358.8 500.5,1399.7 503.5,1388 505.7,1404.1 510,1331.1 513.7,1326.7 516.6,1374.9 519.5,1334 524.6,1386.6 530.5,1335.5 535.6,1374.9 539.2,1366.1 543.6,1380.7 549.5,1358.8 553.1,1388 556.8,1374.9 560,1367.6 562.9,1335.5 568,1330.4 571.7,1341.3 574.6,1353 577.5,1372 580.4,1361.8 585.5,1328.2 588.5,1361.8 592.8,1328.2 595,1361.8 598.7,1382.2 601.6,1373.4 603.8,1385.1 609.6,1395.3 612.6,1370.5 617.7,1393.9 622.8,1325.3 625.7,1351.5 628.6,1331.8 631.5,1361.8" fill="none" stroke="#808080" stroke-width="4.6" stroke-linejoin="round" stroke-linecap="round"/>
<polyline points="85.5,1365.8 86,1365.8 86.5,1365.8 87,1365.8 87.5,1365.8 88,1365.8 88.5,1365.8 89,1365.9 89.5,1365.9 90,1365.9 90.5,1365.9 91,1365.9 91.5,1365.9 92,1365.9 92.5,1365.9 93,1365.9 93.5,1365.9 94,1365.9 94.5,1366 95,1366 95.5,1366 96,1366 96.5,1366 97,1366 97.5,1366 98,1366 98.5,1366 99,1366 99.5,1366.1 100,1366.1 100.5,1366.1 101,1366.1 101.5,1366.1 102,1366.1 102.5,1366.1 103,1366.1 103.5,1366.1 104,1366.2 104.5,1366.2 105,1366.2 105.5,1366.2 106,1366.2 106.5,1366.2 107,1366.2 107.5,1366.2 108,1366.3 108.5,1366.3 109,1366.3 109.5,1366.3 110,1366.3 110.5,1366.3 111,1366.3 111.5,1366.4 112,1366.4 112.5,1366.4 113,1366.4 113.5,1366.4 114,1366.4 114.5,1366.4 115,1366.5 115.5,1366.5 116,1366.5 116.5,1366.5 117,1366.5 117.5,1366.5 118,1366.5 118.5,1366.6 119,1366.6 119.5,1366.6 120,1366.6 120.5,1366.6 121,1366.6 121.5,1366.7 122,1366.7 122.5,1366.7 123,1366.7 123.5,1366.7 124,1366.7 124.5,1366.8 125,1366.8 125.5,1366.8 126,1366.8 126.5,1366.8 127,1366.9 127.5,1366.9 128,1366.9 128.5,1366.9 129,1366.9 129.5,1367 130,1367 130.5,1367 131,1367 131.5,1367 132,1367.1 132.5,1367.1 133,1367.1 133.5,1367.1 134,1367.1 134.5,1367.2 135,1367.2 135.5,1367.2 136,1367.2 136.5,1367.3 137,1367.3 137.5,1367.3 138,1367.3 138.5,1367.3 139,1367.4 139.5,1367.4 140,1367.4 140.5,1367.4 141,1367.5 141.5,1367.5 142,1367.5 142.5,1367.5 143,1367.6 143.5,1367.6 144,1367.6 144.5,1367.7 145,1367.7 145.5,1367.7 146,1367.7 146.5,1367.8 147,1367.8 147.5,1367.8 148,1367.8 148.5,1367.9 149,1367.9 149.5,1367.9 150,1368 150.5,1368 151,1368 151.5,1368.1 152,1368.1 152.5,1368.1 153,1368.2 153.5,1368.2 154,1368.2 154.5,1368.3 155,1368.3 155.5,1368.3 156,1368.4 156.5,1368.4 157,1368.4 157.5,1368.5 158,1368.5 158.5,1368.5 159,1368.6 159.5,1368.6 160,1368.6 160.5,1368.7 161,1368.7 161.5,1368.8 162,1368.8 162.5,1368.8 163,1368.9 163.5,1368.9 164,1368.9 164.5,1369 165,1369 165.5,1369.1 166,1369.1 166.5,1369.2 167,1369.2 167.5,1369.2 168,1369.3 168.5,1369.3 169,1369.4 169.5,1369.4 170,1369.5 170.5,1369.5 171,1369.6 171.5,1369.6 172,1369.6 172.5,1369.7 173,1369.7 173.5,1369.8 174,1369.8 174.5,1369.9 175,1369.9 175.5,1370 176,1370 176.5,1370.1 177,1370.1 177.5,1370.2 178,1370.3 178.5,1370.3 179,1370.4 179.5,1370.4 180,1370.5 180.5,1370.5 181,1370.6 181.5,1370.6 182,1370.7 182.5,1370.8 183,1370.8 183.5,1370.9 184,1370.9 184.5,1371 185,1371.1 185.5,1371.1 186,1371.2 186.5,1371.2 187,1371.3 187.5,1371.4 188,1371.4 188.5,1371.5 189,1371.6 189.5,1371.6 190,1371.7 190.5,1371.8 191,1371.9 191.5,1371.9 192,1372 192.5,1372.1 193,1372.1 193.5,1372.2 194,1372.3 194.5,1372.4 195,1372.4 195.5,1372.5 196,1372.6 196.5,1372.7 197,1372.7 197.5,1372.8 198,1372.9 198.5,1373 199,1373.1 199.5,1373.1 200,1373.2 200.5,1373.3 201,1373.4 201.5,1373.5 202,1373.6 202.5,1373.7 203,1373.8 203.5,1373.8 204,1373.9 204.5,1374 205,1374.1 205.5,1374.2 206,1374.3 206.5,1374.4 207,1374.5 207.5,1374.6 208,1374.7 208.5,1374.8 209,1374.9 209.5,1375 210,1375.1 210.5,1375.2 211,1375.3 211.5,1375.4 212,1375.5 212.5,1375.6 213,1375.7 213.5,1375.8 214,1376 214.5,1376.1 215,1376.2 215.5,1376.3 216,1376.4 216.5,1376.5 217,1376.6 217.5,1376.8 218,1376.9 218.5,1377 219,1377.1 219.5,1377.3 220,1377.4 220.5,1377.5 221,1377.6 221.5,1377.8 222,1377.9 222.5,1378 223,1378.2 223.5,1378.3 224,1378.4 224.5,1378.6 225,1378.7 225.5,1378.9 226,1379 226.5,1379.1 227,1379.3 227.5,1379.4 228,1379.6 228.5,1379.7 229,1379.9 229.5,1380 230,1380.2 230.5,1380.3 231,1380.5 231.5,1380.7 232,1380.8 232.5,1381 233,1381.1 233.5,1381.3 234,1381.5 234.5,1381.6 235,1381.8 235.5,1382 236,1382.2 236.5,1382.3 237,1382.5 237.5,1382.7 238,1382.9 238.5,1383.1 239,1383.3 239.5,1383.4 240,1383.6 240.5,1383.8 241,1384 241.5,1384.2 242,1384.4 242.5,1384.6 243,1384.8 243.5,1385 244,1385.2 244.5,1385.4 245,1385.6 245.5,1385.8 246,1386.1 246.5,1386.3 247,1386.5 247.5,1386.7 248,1386.9 248.5,1387.2 249,1387.4 249.5,1387.6 250,1387.8 250.5,1388.1 251,1388.3 251.5,1388.6 252,1388.8 252.5,1389 253,1389.3 253.5,1389.5 254,1389.8 254.5,1390 255,1390.3 255.5,1390.6 256,1390.8 256.5,1391.1 257,1391.4 257.5,1391.6 258,1391.9 258.5,1392.2 259,1392.5 259.5,1392.7 260,1393 260.5,1393.3 261,1393.6 261.5,1393.9 262,1394.2 262.5,1394.5 263,1394.8 263.5,1395.1 264,1395.4 264.5,1395.7 265,1396 265.5,1396.3 266,1396.7 266.5,1397 267,1397.3 267.5,1397.7 268,1398 268.5,1398.3 269,1398.7 269.5,1399 270,1399.4 270.5,1399.7 271,1400.1 271.5,1400.4 272,1400.8 272.5,1401.2 273,1401.5 273.5,1401.9 274,1402.3 274.5,1402.7 275,1403.1 275.5,1403.4 276,1403.8 276.5,1404.2 277,1404.6 277.5,1405 278,1405.5 278.5,1405.9 279,1406.3 279.5,1406.7 280,1407.1 280.5,1407.6 281,1408 281.5,1408.5 282,1408.9 282.5,1409.3 283,1409.8 283.5,1410.3 284,1410.7 284.5,1411.2 285,1411.7 285.5,1412.2 286,1412.6 286.5,1413.1 287,1413.6 287.5,1414.1 288,1414.6 288.5,1415.1 289,1415.6 289.5,1416.2 290,1416.7 290.5,1417.2 291,1417.8 291.5,1418.3 292,1418.8 292.5,1419.4 293,1420 293.5,1420.5 294,1421.1 294.5,1421.7 295,1422.2 295.5,1422.8 296,1423.4 296.5,1424 297,1424.6 297.5,1425.2 298,1425.9 298.5,1426.5 299,1427.1 299.5,1427.7 300,1428.4 300.5,1429 301,1429.7 301.5,1430.4 302,1431 302.5,1431.7 303,1432.4 303.5,1433.1 304,1433.8 304.5,1434.5 305,1435.2 305.5,1435.9 306,1436.6 306.5,1437.4 307,1438.1 307.5,1438.9 308,1439.6 308.5,1440.4 309,1441.2 309.5,1442 310,1442.7 310.5,1443.5 311,1444.3 311.5,1445.2 312,1446 312.5,1446.8 313,1447.7 313.5,1448.5 314,1449.4 314.5,1450.2 315,1451.1 315.5,1452 316,1452.9 316.5,1453.8 317,1454.7 317.5,1455.6 318,1456.5 318.5,1457.5 319,1458.4 319.5,1459.4 320,1460.4 320.5,1461.3 321,1462.3 321.5,1463.3 322,1464.3 322.5,1465.3 323,1466.4 323.5,1467.4 324,1468.5 324.5,1469.5 325,1470.6 325.5,1471.7 326,1472.8 326.5,1473.9 327,1475 327.5,1476.1 328,1477.3 328.5,1478.4 329,1479.6 329.5,1480.8 330,1481.9 330.5,1483.1 331,1484.4 331.5,1485.6 332,1486.8 332.5,1488.1 333,1489.3 333.5,1490.6 334,1491.9 334.5,1493.2 335,1494.5 335.5,1495.8 336,1497.2 336.5,1498.5 337,1499.9 337.5,1501.3 338,1502.7 338.5,1504.1 339,1505.5 339.5,1507 340,1508.4 340.5,1509.9 341,1511.4 341.5,1512.9 342,1514.4 342.5,1515.9 343,1517.5 343.5,1519 344,1520.6 344.5,1522.2 345,1523.8 345.5,1525.5 346,1527.1 346.5,1528.8 347,1530.5 347.5,1532.2 348,1533.9 348.5,1535.6 349,1537.3 349.5,1539.1 350,1540.9 350.5,1542.7 351,1544.5 351.5,1546.4 352,1548.2 352.5,1550.1 353,1552 353.5,1553.9 354,1555.9 354.5,1557.8 355,1559.8 355.5,1561.8 356,1563.8 356.5,1565.9 357,1567.9 357.5,1570 358,1572.1 358.5,1574.2 359.3,1577.7 359.6,1576.4 360.1,1574.2 360.6,1572.1 361.1,1570 361.6,1567.9 362.1,1565.9 362.6,1563.8 363.1,1561.8 363.6,1559.8 364.1,1557.8 364.6,1555.9 365.1,1553.9 365.6,1552 366.1,1550.1 366.6,1548.2 367.1,1546.4 367.6,1544.5 368.1,1542.7 368.6,1540.9 369.1,1539.1 369.6,1537.3 370.1,1535.6 370.6,1533.9 371.1,1532.2 371.6,1530.5 372.1,1528.8 372.6,1527.1 373.1,1525.5 373.6,1523.8 374.1,1522.2 374.6,1520.6 375.1,1519 375.6,1517.5 376.1,1515.9 376.6,1514.4 377.1,1512.9 377.6,1511.4 378.1,1509.9 378.6,1508.4 379.1,1507 379.6,1505.5 380.1,1504.1 380.6,1502.7 381.1,1501.3 381.6,1499.9 382.1,1498.5 382.6,1497.2 383.1,1495.8 383.6,1494.5 384.1,1493.2 384.6,1491.9 385.1,1490.6 385.6,1489.3 386.1,1488.1 386.6,1486.8 387.1,1485.6 387.6,1484.4 388.1,1483.1 388.6,1481.9 389.1,1480.8 389.6,1479.6 390.1,1478.4 390.6,1477.3 391.1,1476.1 391.6,1475 392.1,1473.9 392.6,1472.8 393.1,1471.7 393.6,1470.6 394.1,1469.5 394.6,1468.5 395.1,1467.4 395.6,1466.4 396.1,1465.3 396.6,1464.3 397.1,1463.3 397.6,1462.3 398.1,1461.3 398.6,1460.4 399.1,1459.4 399.6,1458.4 400.1,1457.5 400.6,1456.5 401.1,1455.6 401.6,1454.7 402.1,1453.8 402.6,1452.9 403.1,1452 403.6,1451.1 404.1,1450.2 404.6,1449.4 405.1,1448.5 405.6,1447.7 406.1,1446.8 406.6,1446 407.1,1445.2 407.6,1444.3 408.1,1443.5 408.6,1442.7 409.1,1442 409.6,1441.2 410.1,1440.4 410.6,1439.6 411.1,1438.9 411.6,1438.1 412.1,1437.4 412.6,1436.6 413.1,1435.9 413.6,1435.2 414.1,1434.5 414.6,1433.8 415.1,1433.1 415.6,1432.4 416.1,1431.7 416.6,1431 417.1,1430.4 417.6,1429.7 418.1,1429 418.6,1428.4 419.1,1427.7 419.6,1427.1 420.1,1426.5 420.6,1425.9 421.1,1425.2 421.6,1424.6 422.1,1424 422.6,1423.4 423.1,1422.8 423.6,1422.2 424.1,1421.7 424.6,1421.1 425.1,1420.5 425.6,1420 426.1,1419.4 426.6,1418.8 427.1,1418.3 427.6,1417.8 428.1,1417.2 428.6,1416.7 429.1,1416.2 429.6,1415.6 430.1,1415.1 430.6,1414.6 431.1,1414.1 431.6,1413.6 432.1,1413.1 432.6,1412.6 433.1,1412.2 433.6,1411.7 434.1,1411.2 434.6,1410.7 435.1,1410.3 435.6,1409.8 436.1,1409.3 436.6,1408.9 437.1,1408.5 437.6,1408 438.1,1407.6 438.6,1407.1 439.1,1406.7 439.6,1406.3 440.1,1405.9 440.6,1405.5 441.1,1405 441.6,1404.6 442.1,1404.2 442.6,1403.8 443.1,1403.4 443.6,1403.1 444.1,1402.7 444.6,1402.3 445.1,1401.9 445.6,1401.5 446.1,1401.2 446.6,1400.8 447.1,1400.4 447.6,1400.1 448.1,1399.7 448.6,1399.4 449.1,1399 449.6,1398.7 450.1,1398.3 450.6,1398 451.1,1397.7 451.6,1397.3 452.1,1397 452.6,1396.7 453.1,1396.3 453.6,1396 454.1,1395.7 454.6,1395.4 455.1,1395.1 455.6,1394.8 456.1,1394.5 456.6,1394.2 457.1,1393.9 457.6,1393.6 458.1,1393.3 458.6,1393 459.1,1392.7 459.6,1392.5 460.1,1392.2 460.6,1391.9 461.1,1391.6 461.6,1391.4 462.1,1391.1 462.6,1390.8 463.1,1390.6 463.6,1390.3 464.1,1390 464.6,1389.8 465.1,1389.5 465.6,1389.3 466.1,1389 466.6,1388.8 467.1,1388.6 467.6,1388.3 468.1,1388.1 468.6,1387.8 469.1,1387.6 469.6,1387.4 470.1,1387.2 470.6,1386.9 471.1,1386.7 471.6,1386.5 472.1,1386.3 472.6,1386.1 473.1,1385.8 473.6,1385.6 474.1,1385.4 474.6,1385.2 475.1,1385 475.6,1384.8 476.1,1384.6 476.6,1384.4 477.1,1384.2 477.6,1384 478.1,1383.8 478.6,1383.6 479.1,1383.4 479.6,1383.3 480.1,1383.1 480.6,1382.9 481.1,1382.7 481.6,1382.5 482.1,1382.3 482.6,1382.2 483.1,1382 483.6,1381.8 484.1,1381.6 484.6,1381.5 485.1,1381.3 485.6,1381.1 486.1,1381 486.6,1380.8 487.1,1380.7 487.6,1380.5 488.1,1380.3 488.6,1380.2 489.1,1380 489.6,1379.9 490.1,1379.7 490.6,1379.6 491.1,1379.4 491.6,1379.3 492.1,1379.1 492.6,1379 493.1,1378.9 493.6,1378.7 494.1,1378.6 494.6,1378.4 495.1,1378.3 495.6,1378.2 496.1,1378 496.6,1377.9 497.1,1377.8 497.6,1377.6 498.1,1377.5 498.6,1377.4 499.1,1377.3 499.6,1377.1 500.1,1377 500.6,1376.9 501.1,1376.8 501.6,1376.6 502.1,1376.5 502.6,1376.4 503.1,1376.3 503.6,1376.2 504.1,1376.1 504.6,1376 505.1,1375.8 505.6,1375.7 506.1,1375.6 506.6,1375.5 507.1,1375.4 507.6,1375.3 508.1,1375.2 508.6,1375.1 509.1,1375 509.6,1374.9 510.1,1374.8 510.6,1374.7 511.1,1374.6 511.6,1374.5 512.1,1374.4 512.6,1374.3 513.1,1374.2 513.6,1374.1 514.1,1374 514.6,1373.9 515.1,1373.8 515.6,1373.8 516.1,1373.7 516.6,1373.6 517.1,1373.5 517.6,1373.4 518.1,1373.3 518.6,1373.2 519.1,1373.1 519.6,1373.1 520.1,1373 520.6,1372.9 521.1,1372.8 521.6,1372.7 522.1,1372.7 522.6,1372.6 523.1,1372.5 523.6,1372.4 524.1,1372.4 524.6,1372.3 525.1,1372.2 525.6,1372.1 526.1,1372.1 526.6,1372 527.1,1371.9 527.6,1371.9 528.1,1371.8 528.6,1371.7 529.1,1371.6 529.6,1371.6 530.1,1371.5 530.6,1371.4 531.1,1371.4 531.6,1371.3 532.1,1371.2 532.6,1371.2 533.1,1371.1 533.6,1371.1 534.1,1371 534.6,1370.9 535.1,1370.9 535.6,1370.8 536.1,1370.8 536.6,1370.7 537.1,1370.6 537.6,1370.6 538.1,1370.5 538.6,1370.5 539.1,1370.4 539.6,1370.4 540.1,1370.3 540.6,1370.3 541.1,1370.2 541.6,1370.1 542.1,1370.1 542.6,1370 543.1,1370 543.6,1369.9 544.1,1369.9 544.6,1369.8 545.1,1369.8 545.6,1369.7 546.1,1369.7 546.6,1369.6 547.1,1369.6 547.6,1369.6 548.1,1369.5 548.6,1369.5 549.1,1369.4 549.6,1369.4 550.1,1369.3 550.6,1369.3 551.1,1369.2 551.6,1369.2 552.1,1369.2 552.6,1369.1 553.1,1369.1 553.6,1369 554.1,1369 554.6,1368.9 555.1,1368.9 555.6,1368.9 556.1,1368.8 556.6,1368.8 557.1,1368.8 557.6,1368.7 558.1,1368.7 558.6,1368.6 559.1,1368.6 559.6,1368.6 560.1,1368.5 560.6,1368.5 561.1,1368.5 561.6,1368.4 562.1,1368.4 562.6,1368.4 563.1,1368.3 563.6,1368.3 564.1,1368.3 564.6,1368.2 565.1,1368.2 565.6,1368.2 566.1,1368.1 566.6,1368.1 567.1,1368.1 567.6,1368 568.1,1368 568.6,1368 569.1,1367.9 569.6,1367.9 570.1,1367.9 570.6,1367.8 571.1,1367.8 571.6,1367.8 572.1,1367.8 572.6,1367.7 573.1,1367.7 573.6,1367.7 574.1,1367.7 574.6,1367.6 575.1,1367.6 575.6,1367.6 576.1,1367.5 576.6,1367.5 577.1,1367.5 577.6,1367.5 578.1,1367.4 578.6,1367.4 579.1,1367.4 579.6,1367.4 580.1,1367.3 580.6,1367.3 581.1,1367.3 581.6,1367.3 582.1,1367.3 582.6,1367.2 583.1,1367.2 583.6,1367.2 584.1,1367.2 584.6,1367.1 585.1,1367.1 585.6,1367.1 586.1,1367.1 586.6,1367.1 587.1,1367 587.6,1367 588.1,1367 588.6,1367 589.1,1367 589.6,1366.9 590.1,1366.9 590.6,1366.9 591.1,1366.9 591.6,1366.9 592.1,1366.8 592.6,1366.8 593.1,1366.8 593.6,1366.8 594.1,1366.8 594.6,1366.7 595.1,1366.7 595.6,1366.7 596.1,1366.7 596.6,1366.7 597.1,1366.7 597.6,1366.6 598.1,1366.6 598.6,1366.6 599.1,1366.6 599.6,1366.6 600.1,1366.6 600.6,1366.5 601.1,1366.5 601.6,1366.5 602.1,1366.5 602.6,1366.5 603.1,1366.5 603.6,1366.5 604.1,1366.4 604.6,1366.4 605.1,1366.4 605.6,1366.4 606.1,1366.4 606.6,1366.4 607.1,1366.4 607.6,1366.3 608.1,1366.3 608.6,1366.3 609.1,1366.3 609.6,1366.3 610.1,1366.3 610.6,1366.3 611.1,1366.2 611.6,1366.2 612.1,1366.2 612.6,1366.2 613.1,1366.2 613.6,1366.2 614.1,1366.2 614.6,1366.2 615.1,1366.1 615.6,1366.1 616.1,1366.1 616.6,1366.1 617.1,1366.1 617.6,1366.1 618.1,1366.1 618.6,1366.1 619.1,1366.1 619.6,1366 620.1,1366 620.6,1366 621.1,1366 621.6,1366 622.1,1366 622.6,1366 623.1,1366 623.6,1366 624.1,1366 624.6,1365.9 625.1,1365.9 625.6,1365.9 626.1,1365.9 626.6,1365.9 627.1,1365.9 627.6,1365.9 628.1,1365.9 628.6,1365.9 629.1,1365.9 629.6,1365.9 630.1,1365.8 630.6,1365.8 631.1,1365.8 631.6,1365.8 632.1,1365.8" fill="none" stroke="#ff0000" stroke-width="3.4" stroke-linejoin="round" />
<polyline points="85.5,1365 86,1365 86.5,1365 87,1365 87.5,1365 88,1365 88.5,1365 89,1365 89.5,1365 90,1365 90.5,1365 91,1365 91.5,1365 92,1365 92.5,1365 93,1365 93.5,1365 94,1365 94.5,1365 95,1365 95.5,1365 96,1365 96.5,1365 97,1365 97.5,1365 98,1365 98.5,1365 99,1365 99.5,1365 100,1365 100.5,1365 101,1365 101.5,1365 102,1365 102.5,1365 103,1365 103.5,1365 104,1365 104.5,1365 105,1365 105.5,1365 106,1365 106.5,1365 107,1365 107.5,1365 108,1365 108.5,1365 109,1365 109.5,1365 110,1365 110.5,1365 111,1365 111.5,1365 112,1365 112.5,1365 113,1365 113.5,1365 114,1365 114.5,1365 115,1365 115.5,1365 116,1365 116.5,1365 117,1365 117.5,1365 118,1365 118.5,1365 119,1365 119.5,1365 120,1365 120.5,1365 121,1365 121.5,1365 122,1365 122.5,1365 123,1365 123.5,1365 124,1365 124.5,1365 125,1365 125.5,1365 126,1365 126.5,1365 127,1365 127.5,1365 128,1365 128.5,1365 129,1365 129.5,1365 130,1365 130.5,1365 131,1365 131.5,1365 132,1365 132.5,1365 133,1365 133.5,1365 134,1365 134.5,1365 135,1365 135.5,1365 136,1365 136.5,1365 137,1365 137.5,1365 138,1365 138.5,1365 139,1365 139.5,1365 140,1365 140.5,1365 141,1365 141.5,1365 142,1365 142.5,1365 143,1365 143.5,1365 144,1365 144.5,1365 145,1365 145.5,1365 146,1365 146.5,1365 147,1365 147.5,1365 148,1365 148.5,1365 149,1365 149.5,1365 150,1365 150.5,1365 151,1365 151.5,1365 152,1365 152.5,1365 153,1365 153.5,1365 154,1365 154.5,1365 155,1365 155.5,1365 156,1365 156.5,1365 157,1365 157.5,1365 158,1365 158.5,1365 159,1365 159.5,1365 160,1365 160.5,1365 161,1365 161.5,1365 162,1365 162.5,1365 163,1365 163.5,1365 164,1365 164.5,1365 165,1365 165.5,1365 166,1365 166.5,1365 167,1365 167.5,1365 168,1365 168.5,1365 169,1365 169.5,1365 170,1365 170.5,1365 171,1365 171.5,1365 172,1365 172.5,1365 173,1365 173.5,1365 174,1365 174.5,1365 175,1365 175.5,1365 176,1365 176.5,1365 177,1365 177.5,1365 178,1365 178.5,1365 179,1365 179.5,1365 180,1365 180.5,1365 181,1365 181.5,1365 182,1365 182.5,1365 183,1365 183.5,1365 184,1365 184.5,1365 185,1365 185.5,1365 186,1365 186.5,1365 187,1365 187.5,1365 188,1365 188.5,1365 189,1365 189.5,1365 190,1365 190.5,1365 191,1365 191.5,1365 192,1365 192.5,1365 193,1365 193.5,1365 194,1365 194.5,1365 195,1365 195.5,1365 196,1365 196.5,1365 197,1365 197.5,1365 198,1365 198.5,1365 199,1365 199.5,1365 200,1365 200.5,1365 201,1365 201.5,1365 202,1365 202.5,1365 203,1365 203.5,1365 204,1365 204.5,1365 205,1365 205.5,1365 206,1365 206.5,1365 207,1365 207.5,1365 208,1365 208.5,1365 209,1365 209.5,1365 210,1365 210.5,1365 211,1365 211.5,1365 212,1365 212.5,1365 213,1365 213.5,1365 214,1365 214.5,1365 215,1365 215.5,1365 216,1365 216.5,1365 217,1365 217.5,1365 218,1365 218.5,1365 219,1365 219.5,1365 220,1365 220.5,1365 221,1365 221.5,1365.1 222,1365.1 222.5,1365.1 223,1365.1 223.5,1365.1 224,1365.1 224.5,1365.1 225,1365.1 225.5,1365.1 226,1365.1 226.5,1365.1 227,1365.1 227.5,1365.1 228,1365.1 228.5,1365.1 229,1365.1 229.5,1365.1 230,1365.1 230.5,1365.1 231,1365.1 231.5,1365.1 232,1365.1 232.5,1365.1 233,1365.1 233.5,1365.1 234,1365.1 234.5,1365.1 235,1365.1 235.5,1365.1 236,1365.1 236.5,1365.1 237,1365.1 237.5,1365.1 238,1365.1 238.5,1365.1 239,1365.1 239.5,1365.1 240,1365.2 240.5,1365.2 241,1365.2 241.5,1365.2 242,1365.2 242.5,1365.2 243,1365.2 243.5,1365.2 244,1365.2 244.5,1365.2 245,1365.2 245.5,1365.2 246,1365.2 246.5,1365.2 247,1365.2 247.5,1365.2 248,1365.3 248.5,1365.3 249,1365.3 249.5,1365.3 250,1365.3 250.5,1365.3 251,1365.3 251.5,1365.3 252,1365.3 252.5,1365.3 253,1365.3 253.5,1365.4 254,1365.4 254.5,1365.4 255,1365.4 255.5,1365.4 256,1365.4 256.5,1365.4 257,1365.4 257.5,1365.4 258,1365.5 258.5,1365.5 259,1365.5 259.5,1365.5 260,1365.5 260.5,1365.5 261,1365.6 261.5,1365.6 262,1365.6 262.5,1365.6 263,1365.6 263.5,1365.6 264,1365.7 264.5,1365.7 265,1365.7 265.5,1365.7 266,1365.7 266.5,1365.8 267,1365.8 267.5,1365.8 268,1365.8 268.5,1365.9 269,1365.9 269.5,1365.9 270,1366 270.5,1366 271,1366 271.5,1366 272,1366.1 272.5,1366.1 273,1366.1 273.5,1366.2 274,1366.2 274.5,1366.2 275,1366.3 275.5,1366.3 276,1366.4 276.5,1366.4 277,1366.5 277.5,1366.5 278,1366.5 278.5,1366.6 279,1366.6 279.5,1366.7 280,1366.7 280.5,1366.8 281,1366.9 281.5,1366.9 282,1367 282.5,1367 283,1367.1 283.5,1367.2 284,1367.2 284.5,1367.3 285,1367.4 285.5,1367.4 286,1367.5 286.5,1367.6 287,1367.7 287.5,1367.7 288,1367.8 288.5,1367.9 289,1368 289.5,1368.1 290,1368.2 290.5,1368.3 291,1368.4 291.5,1368.5 292,1368.6 292.5,1368.7 293,1368.8 293.5,1368.9 294,1369.1 294.5,1369.2 295,1369.3 295.5,1369.5 296,1369.6 296.5,1369.7 297,1369.9 297.5,1370 298,1370.2 298.5,1370.3 299,1370.5 299.5,1370.7 300,1370.9 300.5,1371 301,1371.2 301.5,1371.4 302,1371.6 302.5,1371.8 303,1372 303.5,1372.2 304,1372.5 304.5,1372.7 305,1372.9 305.5,1373.2 306,1373.4 306.5,1373.7 307,1373.9 307.5,1374.2 308,1374.5 308.5,1374.8 309,1375.1 309.5,1375.4 310,1375.7 310.5,1376.1 311,1376.4 311.5,1376.8 312,1377.1 312.5,1377.5 313,1377.9 313.5,1378.3 314,1378.7 314.5,1379.1 315,1379.5 315.5,1380 316,1380.4 316.5,1380.9 317,1381.4 317.5,1381.9 318,1382.4 318.5,1383 319,1383.5 319.5,1384.1 320,1384.7 320.5,1385.3 321,1385.9 321.5,1386.5 322,1387.2 322.5,1387.9 323,1388.6 323.5,1389.3 324,1390.1 324.5,1390.8 325,1391.6 325.5,1392.4 326,1393.3 326.5,1394.2 327,1395.1 327.5,1396 328,1396.9 328.5,1397.9 329,1398.9 329.5,1400 330,1401 330.5,1402.2 331,1403.3 331.5,1404.5 332,1405.7 332.5,1406.9 333,1408.2 333.5,1409.6 334,1410.9 334.5,1412.3 335,1413.8 335.5,1415.3 336,1416.8 336.5,1418.4 337,1420.1 337.5,1421.8 338,1423.5 338.5,1425.3 339,1427.2 339.5,1429.1 340,1431.1 340.5,1433.1 341,1435.2 341.5,1437.3 342,1439.6 342.5,1441.9 343,1444.2 343.5,1446.7 344,1449.2 344.5,1451.8 345,1454.4 345.5,1457.2 346,1460 346.5,1462.9 347,1466 347.5,1469.1 348,1472.3 348.5,1475.6 349,1479 349.5,1482.5 350,1486.1 350.5,1489.8 351,1493.6 351.5,1497.6 352,1501.7 352.5,1505.9 353,1510.2 353.5,1514.7 354,1519.3 354.5,1524 355,1528.9 355.5,1533.9 356,1539.1 356.5,1544.5 357,1550 357.5,1555.7 358,1561.6 358.5,1567.6 359.3,1577.7 359.6,1573.8 360.1,1567.6 360.6,1561.6 361.1,1555.7 361.6,1550 362.1,1544.5 362.6,1539.1 363.1,1533.9 363.6,1528.9 364.1,1524 364.6,1519.3 365.1,1514.7 365.6,1510.2 366.1,1505.9 366.6,1501.7 367.1,1497.6 367.6,1493.6 368.1,1489.8 368.6,1486.1 369.1,1482.5 369.6,1479 370.1,1475.6 370.6,1472.3 371.1,1469.1 371.6,1466 372.1,1462.9 372.6,1460 373.1,1457.2 373.6,1454.4 374.1,1451.8 374.6,1449.2 375.1,1446.7 375.6,1444.2 376.1,1441.9 376.6,1439.6 377.1,1437.3 377.6,1435.2 378.1,1433.1 378.6,1431.1 379.1,1429.1 379.6,1427.2 380.1,1425.3 380.6,1423.5 381.1,1421.8 381.6,1420.1 382.1,1418.4 382.6,1416.8 383.1,1415.3 383.6,1413.8 384.1,1412.3 384.6,1410.9 385.1,1409.6 385.6,1408.2 386.1,1406.9 386.6,1405.7 387.1,1404.5 387.6,1403.3 388.1,1402.2 388.6,1401 389.1,1400 389.6,1398.9 390.1,1397.9 390.6,1396.9 391.1,1396 391.6,1395.1 392.1,1394.2 392.6,1393.3 393.1,1392.4 393.6,1391.6 394.1,1390.8 394.6,1390.1 395.1,1389.3 395.6,1388.6 396.1,1387.9 396.6,1387.2 397.1,1386.5 397.6,1385.9 398.1,1385.3 398.6,1384.7 399.1,1384.1 399.6,1383.5 400.1,1383 400.6,1382.4 401.1,1381.9 401.6,1381.4 402.1,1380.9 402.6,1380.4 403.1,1380 403.6,1379.5 404.1,1379.1 404.6,1378.7 405.1,1378.3 405.6,1377.9 406.1,1377.5 406.6,1377.1 407.1,1376.8 407.6,1376.4 408.1,1376.1 408.6,1375.7 409.1,1375.4 409.6,1375.1 410.1,1374.8 410.6,1374.5 411.1,1374.2 411.6,1373.9 412.1,1373.7 412.6,1373.4 413.1,1373.2 413.6,1372.9 414.1,1372.7 414.6,1372.5 415.1,1372.2 415.6,1372 416.1,1371.8 416.6,1371.6 417.1,1371.4 417.6,1371.2 418.1,1371 418.6,1370.9 419.1,1370.7 419.6,1370.5 420.1,1370.3 420.6,1370.2 421.1,1370 421.6,1369.9 422.1,1369.7 422.6,1369.6 423.1,1369.5 423.6,1369.3 424.1,1369.2 424.6,1369.1 425.1,1368.9 425.6,1368.8 426.1,1368.7 426.6,1368.6 427.1,1368.5 427.6,1368.4 428.1,1368.3 428.6,1368.2 429.1,1368.1 429.6,1368 430.1,1367.9 430.6,1367.8 431.1,1367.7 431.6,1367.7 432.1,1367.6 432.6,1367.5 433.1,1367.4 433.6,1367.4 434.1,1367.3 434.6,1367.2 435.1,1367.2 435.6,1367.1 436.1,1367 436.6,1367 437.1,1366.9 437.6,1366.9 438.1,1366.8 438.6,1366.7 439.1,1366.7 439.6,1366.6 440.1,1366.6 440.6,1366.5 441.1,1366.5 441.6,1366.5 442.1,1366.4 442.6,1366.4 443.1,1366.3 443.6,1366.3 444.1,1366.2 444.6,1366.2 445.1,1366.2 445.6,1366.1 446.1,1366.1 446.6,1366.1 447.1,1366 447.6,1366 448.1,1366 448.6,1366 449.1,1365.9 449.6,1365.9 450.1,1365.9 450.6,1365.8 451.1,1365.8 451.6,1365.8 452.1,1365.8 452.6,1365.7 453.1,1365.7 453.6,1365.7 454.1,1365.7 454.6,1365.7 455.1,1365.6 455.6,1365.6 456.1,1365.6 456.6,1365.6 457.1,1365.6 457.6,1365.6 458.1,1365.5 458.6,1365.5 459.1,1365.5 459.6,1365.5 460.1,1365.5 460.6,1365.5 461.1,1365.4 461.6,1365.4 462.1,1365.4 462.6,1365.4 463.1,1365.4 463.6,1365.4 464.1,1365.4 464.6,1365.4 465.1,1365.4 465.6,1365.3 466.1,1365.3 466.6,1365.3 467.1,1365.3 467.6,1365.3 468.1,1365.3 468.6,1365.3 469.1,1365.3 469.6,1365.3 470.1,1365.3 470.6,1365.3 471.1,1365.2 471.6,1365.2 472.1,1365.2 472.6,1365.2 473.1,1365.2 473.6,1365.2 474.1,1365.2 474.6,1365.2 475.1,1365.2 475.6,1365.2 476.1,1365.2 476.6,1365.2 477.1,1365.2 477.6,1365.2 478.1,1365.2 478.6,1365.2 479.1,1365.1 479.6,1365.1 480.1,1365.1 480.6,1365.1 481.1,1365.1 481.6,1365.1 482.1,1365.1 482.6,1365.1 483.1,1365.1 483.6,1365.1 484.1,1365.1 484.6,1365.1 485.1,1365.1 485.6,1365.1 486.1,1365.1 486.6,1365.1 487.1,1365.1 487.6,1365.1 488.1,1365.1 488.6,1365.1 489.1,1365.1 489.6,1365.1 490.1,1365.1 490.6,1365.1 491.1,1365.1 491.6,1365.1 492.1,1365.1 492.6,1365.1 493.1,1365.1 493.6,1365.1 494.1,1365.1 494.6,1365.1 495.1,1365.1 495.6,1365.1 496.1,1365.1 496.6,1365.1 497.1,1365.1 497.6,1365 498.1,1365 498.6,1365 499.1,1365 499.6,1365 500.1,1365 500.6,1365 501.1,1365 501.6,1365 502.1,1365 502.6,1365 503.1,1365 503.6,1365 504.1,1365 504.6,1365 505.1,1365 505.6,1365 506.1,1365 506.6,1365 507.1,1365 507.6,1365 508.1,1365 508.6,1365 509.1,1365 509.6,1365 510.1,1365 510.6,1365 511.1,1365 511.6,1365 512.1,1365 512.6,1365 513.1,1365 513.6,1365 514.1,1365 514.6,1365 515.1,1365 515.6,1365 516.1,1365 516.6,1365 517.1,1365 517.6,1365 518.1,1365 518.6,1365 519.1,1365 519.6,1365 520.1,1365 520.6,1365 521.1,1365 521.6,1365 522.1,1365 522.6,1365 523.1,1365 523.6,1365 524.1,1365 524.6,1365 525.1,1365 525.6,1365 526.1,1365 526.6,1365 527.1,1365 527.6,1365 528.1,1365 528.6,1365 529.1,1365 529.6,1365 530.1,1365 530.6,1365 531.1,1365 531.6,1365 532.1,1365 532.6,1365 533.1,1365 533.6,1365 534.1,1365 534.6,1365 535.1,1365 535.6,1365 536.1,1365 536.6,1365 537.1,1365 537.6,1365 538.1,1365 538.6,1365 539.1,1365 539.6,1365 540.1,1365 540.6,1365 541.1,1365 541.6,1365 542.1,1365 542.6,1365 543.1,1365 543.6,1365 544.1,1365 544.6,1365 545.1,1365 545.6,1365 546.1,1365 546.6,1365 547.1,1365 547.6,1365 548.1,1365 548.6,1365 549.1,1365 549.6,1365 550.1,1365 550.6,1365 551.1,1365 551.6,1365 552.1,1365 552.6,1365 553.1,1365 553.6,1365 554.1,1365 554.6,1365 555.1,1365 555.6,1365 556.1,1365 556.6,1365 557.1,1365 557.6,1365 558.1,1365 558.6,1365 559.1,1365 559.6,1365 560.1,1365 560.6,1365 561.1,1365 561.6,1365 562.1,1365 562.6,1365 563.1,1365 563.6,1365 564.1,1365 564.6,1365 565.1,1365 565.6,1365 566.1,1365 566.6,1365 567.1,1365 567.6,1365 568.1,1365 568.6,1365 569.1,1365 569.6,1365 570.1,1365 570.6,1365 571.1,1365 571.6,1365 572.1,1365 572.6,1365 573.1,1365 573.6,1365 574.1,1365 574.6,1365 575.1,1365 575.6,1365 576.1,1365 576.6,1365 577.1,1365 577.6,1365 578.1,1365 578.6,1365 579.1,1365 579.6,1365 580.1,1365 580.6,1365 581.1,1365 581.6,1365 582.1,1365 582.6,1365 583.1,1365 583.6,1365 584.1,1365 584.6,1365 585.1,1365 585.6,1365 586.1,1365 586.6,1365 587.1,1365 587.6,1365 588.1,1365 588.6,1365 589.1,1365 589.6,1365 590.1,1365 590.6,1365 591.1,1365 591.6,1365 592.1,1365 592.6,1365 593.1,1365 593.6,1365 594.1,1365 594.6,1365 595.1,1365 595.6,1365 596.1,1365 596.6,1365 597.1,1365 597.6,1365 598.1,1365 598.6,1365 599.1,1365 599.6,1365 600.1,1365 600.6,1365 601.1,1365 601.6,1365 602.1,1365 602.6,1365 603.1,1365 603.6,1365 604.1,1365 604.6,1365 605.1,1365 605.6,1365 606.1,1365 606.6,1365 607.1,1365 607.6,1365 608.1,1365 608.6,1365 609.1,1365 609.6,1365 610.1,1365 610.6,1365 611.1,1365 611.6,1365 612.1,1365 612.6,1365 613.1,1365 613.6,1365 614.1,1365 614.6,1365 615.1,1365 615.6,1365 616.1,1365 616.6,1365 617.1,1365 617.6,1365 618.1,1365 618.6,1365 619.1,1365 619.6,1365 620.1,1365 620.6,1365 621.1,1365 621.6,1365 622.1,1365 622.6,1365 623.1,1365 623.6,1365 624.1,1365 624.6,1365 625.1,1365 625.6,1365 626.1,1365 626.6,1365 627.1,1365 627.6,1365 628.1,1365 628.6,1365 629.1,1365 629.6,1365 630.1,1365 630.6,1365 631.1,1365 631.6,1365 632.1,1365" fill="none" stroke="#ff0000" stroke-width="4.6" stroke-linejoin="round" stroke-dasharray="6.2 13" stroke-linecap="round"/>
<rect x="55" y="1276.4" width="607.5" height="310.6" fill="none" stroke="#000" stroke-width="1.5"/>
<line x1="40" y1="1365" x2="55" y2="1365" stroke="#000" stroke-width="1.5" />
<line x1="47.4" y1="1476.3" x2="55" y2="1476.3" stroke="#000" stroke-width="1.5" />
<line x1="40" y1="1587" x2="55" y2="1587" stroke="#000" stroke-width="1.5" />
<line x1="92.8" y1="1587" x2="92.8" y2="1603" stroke="#000" stroke-width="1.5" />
<line x1="159.3" y1="1587" x2="159.3" y2="1596.4" stroke="#000" stroke-width="1.5" />
<line x1="225.9" y1="1587" x2="225.9" y2="1603" stroke="#000" stroke-width="1.5" />
<line x1="292.4" y1="1587" x2="292.4" y2="1596.4" stroke="#000" stroke-width="1.5" />
<line x1="359" y1="1587" x2="359" y2="1603" stroke="#000" stroke-width="1.5" />
<line x1="425.6" y1="1587" x2="425.6" y2="1596.4" stroke="#000" stroke-width="1.5" />
<line x1="492.1" y1="1587" x2="492.1" y2="1603" stroke="#000" stroke-width="1.5" />
<line x1="558.7" y1="1587" x2="558.7" y2="1596.4" stroke="#000" stroke-width="1.5" />
<line x1="625.2" y1="1587" x2="625.2" y2="1603" stroke="#000" stroke-width="1.5" />
<text transform="translate(92.8,1633.8) scale(1.06,1)" font-size="27.5" text-anchor="middle" fill="#000" font-weight="normal" >−50</text>
<text transform="translate(225.9,1633.8) scale(1.06,1)" font-size="27.5" text-anchor="middle" fill="#000" font-weight="normal" >−25</text>
<text transform="translate(359,1633.8) scale(1.06,1)" font-size="27.5" text-anchor="middle" fill="#000" font-weight="normal" >0</text>
<text transform="translate(492.1,1633.8) scale(1.06,1)" font-size="27.5" text-anchor="middle" fill="#000" font-weight="normal" >25</text>
<text transform="translate(625.2,1633.8) scale(1.06,1)" font-size="27.5" text-anchor="middle" fill="#000" font-weight="normal" >50</text>
<text transform="translate(358.3,1672.4) scale(0.985,1)" font-size="29" text-anchor="middle" fill="#000" font-weight="normal" >Time (ns)</text>
<text transform="translate(23.5,1375.6) scale(1.06,1)" font-size="27.5" text-anchor="middle" fill="#000" font-weight="normal" >1</text>
<text transform="translate(24.5,1595) scale(1.06,1)" font-size="27.5" text-anchor="middle" fill="#000" font-weight="normal" >0</text>
<text transform="translate(27.3,1433.3) rotate(-90)" font-size="29.5" text-anchor="middle"><tspan font-style="italic">g</tspan><tspan font-size="20.5" dy="-10.8">(2)</tspan></text>
</svg></body></html>
